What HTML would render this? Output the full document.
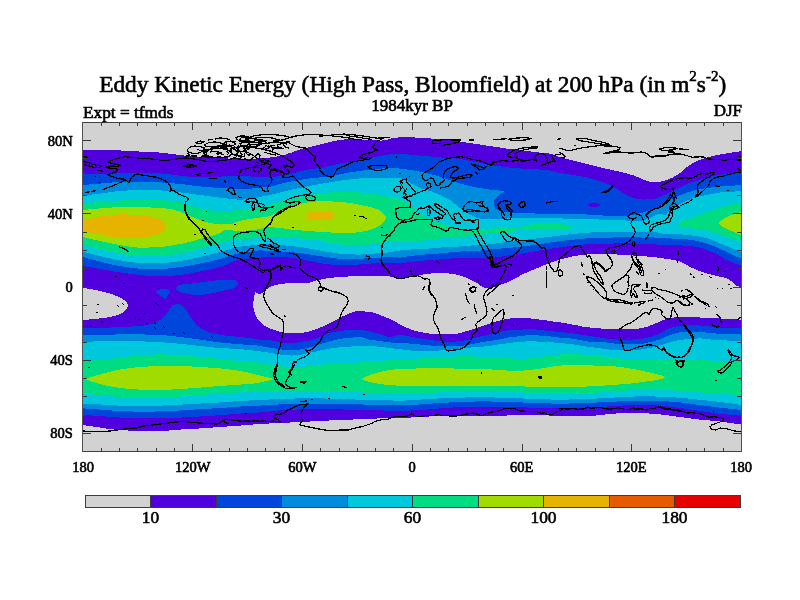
<!DOCTYPE html>
<html lang="en"><head><meta charset="utf-8"><title>Eddy Kinetic Energy (High Pass, Bloomfield) at 200 hPa</title>
<style>
html,body{margin:0;padding:0;background:#fff}
body{width:800px;height:600px;overflow:hidden}
svg{display:block;font-family:"Liberation Serif","DejaVu Serif",serif;fill:#000}
text{stroke:#000;stroke-width:.6px}
.f path{shape-rendering:crispEdges}
.ax{font-size:14.5px}
.cbl{font-size:17.4px}
</style></head><body>
<svg width="800" height="600" viewBox="0 0 800 600">
<rect width="800" height="600" fill="#fff"/>
<defs><clipPath id="c"><rect x="83" y="122" width="658" height="329"/></clipPath></defs>
<rect x="83" y="122" width="658" height="329" fill="#d2d2d2"/>
<g class="f" clip-path="url(#c)">
<path fill="#5000dc" d="M83.0 150.4L85.0 150.2L87.0 150.1L89.0 150.0L91.0 149.9L93.0 149.8L95.0 149.7L97.0 149.7L99.0 149.6L101.0 149.6L103.0 149.6L105.0 149.6L107.0 149.6L109.0 149.7L111.0 149.8L113.0 150.0L115.0 150.1L117.0 150.2L119.0 150.3L121.0 150.5L123.0 150.6L125.0 150.7L127.0 150.8L129.0 150.9L131.0 151.1L133.0 151.2L135.0 151.3L137.0 151.4L139.0 151.5L141.0 151.7L143.0 151.8L145.0 151.8L147.0 151.9L149.0 152.0L151.0 152.1L153.0 152.2L155.0 152.3L157.0 152.4L159.0 152.5L161.0 152.7L163.0 152.9L165.0 153.1L167.0 153.3L169.0 153.6L171.0 153.8L173.0 154.1L175.0 154.4L177.0 154.6L179.0 154.9L181.0 155.1L183.0 155.3L185.0 155.6L187.0 155.8L189.0 156.0L191.0 156.2L193.0 156.4L195.0 156.6L197.0 156.8L199.0 156.9L201.0 157.1L203.0 157.2L205.0 157.3L207.0 157.4L209.0 157.5L211.0 157.6L213.0 157.7L215.0 157.8L217.0 157.9L219.0 158.0L221.0 158.1L223.0 158.2L225.0 158.3L227.0 158.4L229.0 158.6L231.0 158.7L233.0 158.8L235.0 158.9L237.0 159.0L239.0 159.0L241.0 159.0L243.0 159.0L245.0 159.0L247.0 158.9L249.0 158.9L251.0 158.8L253.0 158.7L255.0 158.6L257.0 158.5L259.0 158.4L261.0 158.3L263.0 158.2L265.0 158.1L267.0 157.9L269.0 157.6L271.0 157.4L273.0 157.1L275.0 156.8L277.0 156.5L279.0 156.2L281.0 155.8L283.0 155.3L285.0 154.7L287.0 154.0L289.0 153.3L291.0 152.7L293.0 152.0L295.0 151.3L297.0 150.6L299.0 149.9L301.0 149.3L303.0 148.8L305.0 148.3L307.0 147.8L309.0 147.3L311.0 146.7L313.0 146.2L315.0 145.7L317.0 145.2L319.0 144.7L321.0 144.2L323.0 143.7L325.0 143.2L327.0 142.7L329.0 142.2L331.0 141.8L333.0 141.3L335.0 140.9L337.0 140.5L339.0 140.1L341.0 139.9L343.0 139.6L345.0 139.3L347.0 139.1L349.0 139.0L351.0 139.0L353.0 139.1L355.0 139.1L357.0 139.2L359.0 139.3L361.0 139.5L363.0 139.6L365.0 139.7L367.0 139.8L369.0 139.9L371.0 140.1L373.0 140.2L375.0 140.4L377.0 140.5L379.0 140.6L381.0 140.6L383.0 140.4L385.0 140.1L387.0 139.8L389.0 139.2L391.0 138.6L393.0 138.2L395.0 137.9L397.0 137.6L399.0 137.4L401.0 137.4L403.0 137.4L405.0 137.4L407.0 137.4L409.0 137.4L411.0 137.4L413.0 137.4L415.0 137.5L417.0 137.5L419.0 137.6L421.0 137.6L423.0 137.8L425.0 137.9L427.0 138.1L429.0 138.3L431.0 138.5L433.0 138.7L435.0 138.9L437.0 139.1L439.0 139.3L441.0 139.5L443.0 139.7L445.0 139.9L447.0 140.1L449.0 140.3L451.0 140.5L453.0 140.7L455.0 141.0L457.0 141.2L459.0 141.5L461.0 141.7L463.0 142.0L465.0 142.3L467.0 142.6L469.0 142.9L471.0 143.2L473.0 143.5L475.0 143.8L477.0 144.1L479.0 144.4L481.0 144.7L483.0 145.0L485.0 145.3L487.0 145.6L489.0 145.9L491.0 146.2L493.0 146.5L495.0 146.8L497.0 147.1L499.0 147.4L501.0 147.7L503.0 148.0L505.0 148.3L507.0 148.6L509.0 148.9L511.0 149.1L513.0 149.3L515.0 149.5L517.0 149.7L519.0 149.9L521.0 150.1L523.0 150.4L525.0 150.7L527.0 151.0L529.0 151.3L531.0 151.5L533.0 151.8L535.0 152.0L537.0 152.3L539.0 152.5L541.0 152.7L543.0 152.9L545.0 153.0L547.0 153.2L549.0 153.5L551.0 153.8L553.0 154.4L555.0 155.3L557.0 156.2L559.0 157.0L561.0 157.6L563.0 158.1L565.0 158.6L567.0 159.1L569.0 159.6L571.0 160.0L573.0 160.5L575.0 161.0L577.0 161.5L579.0 162.0L581.0 162.5L583.0 163.0L585.0 163.5L587.0 164.0L589.0 164.5L591.0 165.1L593.0 165.6L595.0 166.1L597.0 166.6L599.0 167.1L601.0 167.5L603.0 168.0L605.0 168.5L607.0 169.0L609.0 169.4L611.0 169.8L613.0 170.2L615.0 170.7L617.0 171.1L619.0 171.6L621.0 172.0L623.0 172.5L625.0 173.1L627.0 173.6L629.0 174.1L631.0 174.7L633.0 175.3L635.0 176.0L637.0 176.8L639.0 177.7L641.0 178.6L643.0 179.4L645.0 180.2L647.0 181.0L649.0 181.6L651.0 181.8L653.0 181.9L655.0 182.0L657.0 182.0L659.0 181.9L661.0 181.6L663.0 181.0L665.0 180.5L667.0 179.9L669.0 179.1L671.0 178.2L673.0 177.3L675.0 176.2L677.0 175.0L679.0 173.7L681.0 172.2L683.0 170.3L685.0 168.5L687.0 167.0L689.0 165.5L691.0 164.2L693.0 163.0L695.0 162.0L697.0 161.1L699.0 160.2L701.0 159.4L703.0 158.7L705.0 158.0L707.0 157.4L709.0 156.9L711.0 156.4L713.0 155.9L715.0 155.5L717.0 155.1L719.0 154.7L721.0 154.3L723.0 153.9L725.0 153.6L727.0 153.3L729.0 153.0L731.0 152.6L733.0 152.3L735.0 152.0L737.0 151.8L739.0 151.5L741.0 151.3L741.0 424.3L739.0 424.1L737.0 423.9L735.0 423.7L733.0 423.4L731.0 423.1L729.0 422.9L727.0 422.5L725.0 422.2L723.0 421.8L721.0 421.5L719.0 421.3L717.0 421.1L715.0 420.9L713.0 420.8L711.0 420.6L709.0 420.4L707.0 420.2L705.0 420.1L703.0 419.9L701.0 419.7L699.0 419.5L697.0 419.3L695.0 419.0L693.0 418.8L691.0 418.5L689.0 418.3L687.0 418.0L685.0 417.7L683.0 417.4L681.0 417.1L679.0 416.9L677.0 416.6L675.0 416.3L673.0 416.0L671.0 415.7L669.0 415.5L667.0 415.2L665.0 415.0L663.0 414.7L661.0 414.5L659.0 414.3L657.0 414.1L655.0 414.0L653.0 413.8L651.0 413.7L649.0 413.5L647.0 413.4L645.0 413.3L643.0 413.1L641.0 413.0L639.0 413.0L637.0 412.9L635.0 412.9L633.0 412.8L631.0 412.8L629.0 412.8L627.0 412.9L625.0 412.9L623.0 413.0L621.0 413.1L619.0 413.3L617.0 413.4L615.0 413.6L613.0 413.7L611.0 413.9L609.0 414.1L607.0 414.3L605.0 414.5L603.0 414.7L601.0 414.9L599.0 415.1L597.0 415.3L595.0 415.6L593.0 415.8L591.0 415.9L589.0 416.1L587.0 416.2L585.0 416.3L583.0 416.3L581.0 416.4L579.0 416.4L577.0 416.4L575.0 416.4L573.0 416.4L571.0 416.4L569.0 416.4L567.0 416.3L565.0 416.2L563.0 416.1L561.0 416.0L559.0 416.0L557.0 415.9L555.0 415.8L553.0 415.7L551.0 415.6L549.0 415.5L547.0 415.4L545.0 415.3L543.0 415.2L541.0 415.2L539.0 415.2L537.0 415.2L535.0 415.2L533.0 415.2L531.0 415.2L529.0 415.2L527.0 415.2L525.0 415.2L523.0 415.2L521.0 415.2L519.0 415.2L517.0 415.2L515.0 415.3L513.0 415.3L511.0 415.4L509.0 415.4L507.0 415.5L505.0 415.5L503.0 415.6L501.0 415.6L499.0 415.6L497.0 415.6L495.0 415.6L493.0 415.6L491.0 415.6L489.0 415.6L487.0 415.6L485.0 415.6L483.0 415.6L481.0 415.6L479.0 415.6L477.0 415.6L475.0 415.6L473.0 415.6L471.0 415.6L469.0 415.6L467.0 415.6L465.0 415.6L463.0 415.6L461.0 415.6L459.0 415.6L457.0 415.6L455.0 415.6L453.0 415.7L451.0 415.7L449.0 415.8L447.0 415.8L445.0 415.9L443.0 415.9L441.0 416.0L439.0 416.0L437.0 416.1L435.0 416.2L433.0 416.3L431.0 416.4L429.0 416.5L427.0 416.6L425.0 416.7L423.0 416.8L421.0 416.9L419.0 417.1L417.0 417.2L415.0 417.3L413.0 417.4L411.0 417.5L409.0 417.6L407.0 417.7L405.0 417.8L403.0 417.9L401.0 418.0L399.0 418.0L397.0 418.1L395.0 418.1L393.0 418.2L391.0 418.2L389.0 418.2L387.0 418.3L385.0 418.3L383.0 418.3L381.0 418.4L379.0 418.4L377.0 418.5L375.0 418.6L373.0 418.6L371.0 418.7L369.0 418.8L367.0 418.9L365.0 419.0L363.0 419.1L361.0 419.2L359.0 419.2L357.0 419.3L355.0 419.4L353.0 419.5L351.0 419.6L349.0 419.6L347.0 419.7L345.0 419.8L343.0 419.9L341.0 420.0L339.0 420.0L337.0 420.1L335.0 420.2L333.0 420.3L331.0 420.4L329.0 420.5L327.0 420.6L325.0 420.7L323.0 420.8L321.0 420.9L319.0 421.1L317.0 421.1L315.0 421.2L313.0 421.4L311.0 421.4L309.0 421.6L307.0 421.6L305.0 421.8L303.0 421.9L301.0 421.9L299.0 422.1L297.0 422.1L295.0 422.2L293.0 422.4L291.0 422.4L289.0 422.6L287.0 422.6L285.0 422.8L283.0 422.9L281.0 422.9L279.0 423.0L277.0 423.1L275.0 423.2L273.0 423.3L271.0 423.4L269.0 423.5L267.0 423.6L265.0 423.7L263.0 423.8L261.0 423.9L259.0 424.1L257.0 424.2L255.0 424.4L253.0 424.5L251.0 424.7L249.0 424.9L247.0 425.0L245.0 425.2L243.0 425.4L241.0 425.5L239.0 425.7L237.0 425.8L235.0 426.0L233.0 426.1L231.0 426.2L229.0 426.4L227.0 426.5L225.0 426.7L223.0 426.8L221.0 426.9L219.0 427.1L217.0 427.2L215.0 427.4L213.0 427.5L211.0 427.6L209.0 427.8L207.0 427.9L205.0 428.1L203.0 428.2L201.0 428.3L199.0 428.5L197.0 428.6L195.0 428.7L193.0 428.8L191.0 428.9L189.0 429.1L187.0 429.2L185.0 429.3L183.0 429.4L181.0 429.5L179.0 429.7L177.0 429.8L175.0 430.0L173.0 430.2L171.0 430.4L169.0 430.5L167.0 430.7L165.0 430.8L163.0 430.9L161.0 431.0L159.0 431.0L157.0 431.0L155.0 431.0L153.0 431.0L151.0 431.0L149.0 431.0L147.0 431.0L145.0 431.0L143.0 431.0L141.0 431.0L139.0 431.0L137.0 430.9L135.0 430.9L133.0 430.8L131.0 430.7L129.0 430.6L127.0 430.4L125.0 430.3L123.0 430.2L121.0 430.1L119.0 429.9L117.0 429.7L115.0 429.6L113.0 429.3L111.0 429.1L109.0 428.9L107.0 428.6L105.0 428.3L103.0 428.0L101.0 427.7L99.0 427.4L97.0 427.1L95.0 426.8L93.0 426.5L91.0 426.2L89.0 425.9L87.0 425.6L85.0 425.3L83.0 425.0Z"/>
<path fill="#d2d2d2" d="M83.0 288.0L83.0 288.0L85.0 288.3L87.0 288.5L89.1 288.9L91.1 289.2L93.1 289.6L95.0 290.0L97.0 290.4L99.0 290.8L101.0 291.2L103.0 291.7L105.0 292.2L106.9 292.7L108.9 293.3L110.8 293.9L112.7 294.5L114.6 295.2L116.6 296.0L118.5 296.8L120.4 297.7L122.2 298.7L123.8 299.8L125.3 301.1L126.8 302.8L127.8 304.6L127.9 306.4L127.1 308.4L125.9 310.1L124.5 311.4L122.8 312.6L120.9 313.6L119.1 314.4L117.2 315.1L115.2 315.7L113.2 316.3L111.2 316.7L109.3 317.1L107.3 317.5L105.2 317.8L103.2 318.0L101.2 318.3L99.2 318.5L97.2 318.7L95.1 318.9L93.1 319.1L91.1 319.3L89.1 319.5L87.1 319.7L85.0 319.9L83.0 320.0L83.0 320.0Z"/>
<path fill="#d2d2d2" d="M253.0 304.0L253.3 302.0L253.6 300.0L254.0 298.1L254.4 295.7L254.8 293.3L255.4 292.0L256.8 292.8L258.8 293.8L260.6 293.6L262.3 292.8L264.0 291.6L265.6 290.2L267.3 288.8L269.1 287.6L270.9 286.7L272.7 286.0L274.6 285.4L276.6 284.9L278.6 284.4L280.5 284.0L282.5 283.7L284.5 283.6L286.5 283.4L288.5 283.3L290.5 283.1L292.5 283.1L294.5 283.0L296.5 283.0L298.6 283.0L300.6 283.0L302.6 283.0L304.6 283.0L306.6 282.9L308.5 282.8L310.5 282.4L312.4 281.9L314.3 281.2L316.3 280.5L318.2 280.0L320.2 279.6L322.2 279.2L324.1 278.9L326.1 278.5L328.1 278.2L330.1 278.0L332.1 277.8L334.1 277.5L336.1 277.3L338.1 277.2L340.1 277.0L342.1 276.9L344.1 276.7L346.1 276.6L348.1 276.5L350.1 276.4L352.1 276.3L354.1 276.2L356.1 276.1L358.1 276.0L360.1 275.9L362.1 275.8L364.1 275.7L366.1 275.7L368.1 275.7L370.1 275.6L372.1 275.6L374.1 275.6L376.1 275.6L378.1 275.6L380.1 275.6L382.1 275.7L384.1 275.8L386.1 276.0L388.1 276.2L390.1 276.5L392.1 276.7L394.1 277.0L396.1 277.3L398.1 277.7L400.1 277.9L402.1 278.1L404.0 278.1L406.0 277.9L408.0 277.5L410.0 277.1L411.9 276.6L413.9 276.2L415.9 275.8L417.9 275.5L419.8 275.1L421.8 274.7L423.8 274.4L425.8 274.1L427.8 273.8L429.7 273.6L431.7 273.4L433.7 273.2L435.8 273.1L437.8 273.0L439.8 273.0L441.8 273.1L443.8 273.1L445.8 273.3L447.8 273.4L449.8 273.6L451.8 273.8L453.7 274.1L455.7 274.5L457.7 274.9L459.6 275.4L461.6 276.0L463.5 276.6L465.3 277.2L467.2 278.0L469.0 278.8L470.8 279.7L472.7 280.6L474.4 281.5L476.2 282.5L478.0 283.7L479.7 285.0L481.4 286.2L483.1 287.3L484.9 288.1L486.7 288.5L488.6 288.4L490.5 288.0L492.5 287.5L494.4 286.9L496.4 286.2L498.4 285.6L500.3 284.9L502.1 284.3L504.0 283.5L505.9 282.8L507.7 282.0L509.6 281.2L511.4 280.3L513.2 279.5L514.9 278.5L516.7 277.6L518.5 276.6L520.2 275.6L522.0 274.7L523.8 273.8L525.6 273.0L527.5 272.2L529.3 271.4L531.1 270.6L533.0 269.8L534.8 269.0L536.7 268.3L538.6 267.5L540.4 266.7L542.3 266.0L544.1 265.2L546.0 264.5L547.9 263.8L549.8 263.1L551.6 262.4L553.5 261.7L555.4 261.1L557.3 260.4L559.2 259.8L561.2 259.3L563.1 258.7L565.0 258.2L567.0 257.7L568.9 257.2L570.9 256.8L572.9 256.4L574.8 256.1L576.8 255.7L578.8 255.4L580.8 255.1L582.8 254.9L584.8 254.7L586.8 254.5L588.8 254.3L590.8 254.2L592.8 254.1L594.8 254.1L596.8 254.1L598.8 254.1L600.8 254.1L602.8 254.1L604.8 254.1L606.8 254.1L608.8 254.1L610.8 254.2L612.8 254.3L614.8 254.4L616.8 254.5L618.8 254.6L620.8 254.7L622.8 254.9L624.8 255.0L626.8 255.1L628.8 255.2L630.8 255.4L632.8 255.5L634.8 255.6L636.8 255.8L638.8 255.9L640.8 256.1L642.8 256.2L644.8 256.4L646.8 256.5L648.8 256.7L650.8 256.9L652.8 257.0L654.8 257.2L656.8 257.5L658.8 257.7L660.8 258.0L662.8 258.3L664.8 258.6L666.7 258.9L668.7 259.2L670.7 259.5L672.7 259.8L674.7 260.2L676.7 260.6L678.6 261.1L680.4 261.7L682.2 262.5L684.0 263.5L685.8 264.5L687.5 265.5L689.3 266.5L691.1 267.4L692.9 268.2L694.8 269.0L696.6 269.8L698.5 270.5L700.4 271.2L702.3 271.9L704.2 272.5L706.1 273.1L708.0 273.7L709.9 274.3L711.9 274.8L713.8 275.3L715.8 275.8L717.7 276.2L719.7 276.6L721.7 277.0L723.7 277.4L725.6 277.9L727.5 278.5L729.2 279.5L730.8 280.8L732.4 282.2L733.9 283.7L735.5 285.0L737.2 286.0L739.0 286.5L741.0 286.7L741.0 319.6L739.0 319.5L737.0 319.4L735.0 319.3L733.0 319.2L731.0 319.1L729.0 318.9L727.0 318.8L725.0 318.7L723.0 318.6L721.0 318.5L719.0 318.4L717.0 318.3L715.0 318.2L713.0 318.1L711.0 318.0L709.0 318.0L707.0 317.9L705.0 317.8L703.0 317.7L701.0 317.6L699.0 317.4L697.0 317.3L695.0 317.2L693.0 317.1L691.0 317.1L689.0 317.0L687.0 317.0L685.0 317.0L683.0 317.0L681.0 317.0L679.0 317.1L677.0 317.2L675.0 317.4L673.0 317.6L671.0 317.9L669.1 318.2L667.1 318.6L665.3 319.3L663.4 320.0L661.6 320.9L659.7 321.7L657.8 322.5L656.0 323.2L654.1 324.0L652.2 324.7L650.4 325.5L648.5 326.2L646.6 326.8L644.7 327.3L642.7 327.8L640.8 328.2L638.8 328.6L636.8 328.9L634.8 329.2L632.8 329.3L630.8 329.3L628.8 329.3L626.8 329.4L624.8 329.4L622.8 329.4L620.8 329.4L618.8 329.4L616.8 329.3L614.8 329.2L612.8 329.1L610.8 329.0L608.8 328.9L606.8 328.8L604.8 328.7L602.8 328.6L600.8 328.5L598.8 328.3L596.8 328.2L594.8 328.0L592.8 327.8L590.8 327.6L588.9 327.4L586.9 327.1L584.9 326.9L582.9 326.6L580.9 326.2L579.0 325.8L577.0 325.4L575.1 325.0L573.1 324.6L571.1 324.3L569.1 323.9L567.2 323.6L565.2 323.2L563.2 322.9L561.2 322.6L559.3 322.3L557.3 322.0L555.3 321.7L553.3 321.5L551.3 321.2L549.4 320.9L547.4 320.6L545.4 320.3L543.4 320.0L541.4 319.8L539.4 319.5L537.5 319.3L535.5 319.0L533.5 318.8L531.5 318.5L529.5 318.3L527.5 318.2L525.5 318.1L523.5 318.1L521.5 318.2L519.5 318.2L517.5 318.2L515.5 318.2L513.5 318.2L511.5 318.3L509.5 318.5L507.5 318.8L505.5 319.2L503.6 319.6L501.6 320.0L499.7 320.5L497.8 321.0L495.8 321.6L493.9 322.3L492.0 322.9L490.1 323.6L488.2 324.2L486.3 324.8L484.4 325.5L482.5 326.1L480.6 326.7L478.7 327.4L476.8 328.0L474.9 328.6L473.0 329.2L471.1 329.8L469.2 330.4L467.3 331.0L465.4 331.5L463.4 332.0L461.5 332.6L459.5 333.1L457.6 333.6L455.6 334.0L453.6 334.1L451.7 334.2L449.7 334.3L447.7 334.3L445.6 334.4L443.6 334.4L441.6 334.4L439.6 334.4L437.6 334.3L435.6 334.1L433.6 334.0L431.6 333.8L429.6 333.6L427.7 333.3L425.7 333.0L423.7 332.7L421.7 332.3L419.8 331.9L417.8 331.5L415.9 331.0L414.0 330.4L412.1 329.8L410.2 329.1L408.3 328.3L406.5 327.6L404.6 326.8L402.8 325.9L401.1 325.0L399.3 324.0L397.6 323.0L395.8 322.0L394.0 321.1L392.2 320.2L390.4 319.4L388.6 318.5L386.8 317.7L384.9 316.9L383.1 316.1L381.2 315.4L379.3 314.7L377.4 314.0L375.5 313.3L373.6 312.7L371.7 312.3L369.7 312.0L367.7 311.8L365.7 311.6L363.7 311.4L361.7 311.3L359.7 311.2L357.7 311.2L355.8 311.4L353.8 311.8L351.9 312.4L350.0 313.2L348.1 314.0L346.3 314.8L344.4 315.6L342.6 316.4L340.8 317.3L339.1 318.3L337.3 319.2L335.5 320.2L333.8 321.1L332.0 322.0L330.2 322.9L328.4 323.9L326.6 324.8L324.8 325.6L323.0 326.5L321.2 327.2L319.3 328.0L317.4 328.7L315.5 329.4L313.6 330.1L311.7 330.7L309.8 331.2L307.9 331.7L305.9 332.1L303.9 332.6L302.0 333.0L300.0 333.2L298.0 333.3L296.0 333.3L294.0 333.3L292.0 333.2L290.0 333.0L288.0 332.9L286.0 332.7L284.0 332.5L282.0 332.2L280.1 331.7L278.1 331.2L276.2 330.7L274.3 330.1L272.4 329.4L270.5 328.7L268.6 327.9L266.8 326.9L265.0 325.9L263.4 324.8L261.9 323.6L260.4 322.3L259.1 320.8L257.8 319.1L256.7 317.4L255.8 315.7L255.1 313.8L254.5 311.9L254.0 309.9L253.6 308.0L253.2 306.0L253.0 304.0Z"/>
<path fill="#0046dc" d="M83.0 173.4L85.0 173.5L87.0 173.6L89.0 173.7L91.0 173.8L93.0 173.9L95.0 173.9L97.0 174.0L99.0 174.0L101.0 174.0L103.0 174.0L105.0 173.9L107.0 173.9L109.0 173.8L111.0 173.7L113.0 173.7L115.0 173.6L117.0 173.5L119.0 173.4L121.0 173.4L123.0 173.3L125.0 173.2L127.0 173.1L129.0 173.0L131.0 172.9L133.0 172.8L135.0 172.7L137.0 172.6L139.0 172.6L141.0 172.6L143.0 172.6L145.0 172.7L147.0 172.7L149.0 172.8L151.0 172.9L153.0 173.0L155.0 173.1L157.0 173.2L159.0 173.3L161.0 173.5L163.0 173.6L165.0 173.8L167.0 174.0L169.0 174.3L171.0 174.5L173.0 174.8L175.0 175.0L177.0 175.3L179.0 175.5L181.0 175.7L183.0 175.9L185.0 176.2L187.0 176.4L189.0 176.6L191.0 176.9L193.0 177.1L195.0 177.2L197.0 177.3L199.0 177.4L201.0 177.4L203.0 177.4L205.0 177.3L207.0 177.2L209.0 177.2L211.0 177.1L213.0 177.0L215.0 176.8L217.0 176.7L219.0 176.6L221.0 176.6L223.0 176.4L225.0 176.3L227.0 176.2L229.0 176.1L231.0 175.9L233.0 175.8L235.0 175.7L237.0 175.6L239.0 175.6L241.0 175.6L243.0 175.7L245.0 175.9L247.0 176.1L249.0 176.3L251.0 176.5L253.0 176.6L255.0 176.8L257.0 176.9L259.0 177.0L261.0 177.0L263.0 177.0L265.0 177.0L267.0 177.0L269.0 177.0L271.0 177.0L273.0 176.9L275.0 176.7L277.0 176.4L279.0 176.1L281.0 175.9L283.0 175.5L285.0 175.1L287.0 174.7L289.0 174.2L291.0 173.8L293.0 173.2L295.0 172.7L297.0 172.2L299.0 171.6L301.0 171.2L303.0 170.7L305.0 170.3L307.0 169.9L309.0 169.6L311.0 169.2L313.0 169.0L315.0 168.7L317.0 168.4L319.0 168.2L321.0 167.8L323.0 167.5L325.0 167.1L327.0 166.6L329.0 166.2L331.0 165.8L333.0 165.3L335.0 164.8L337.0 164.3L339.0 163.8L341.0 163.4L343.0 163.1L345.0 162.8L347.0 162.5L349.0 162.2L351.0 161.8L353.0 161.4L355.0 161.0L357.0 160.6L359.0 160.2L361.0 159.8L363.0 159.4L365.0 159.0L367.0 158.6L369.0 158.2L371.0 157.8L373.0 157.4L375.0 157.0L377.0 156.6L379.0 156.2L381.0 155.8L383.0 155.4L385.0 155.1L387.0 154.8L389.0 154.5L391.0 154.3L393.0 154.1L395.0 154.0L397.0 153.9L399.0 153.8L401.0 153.8L403.0 153.9L405.0 154.1L407.0 154.3L409.0 154.5L411.0 154.7L413.0 154.9L415.0 155.1L417.0 155.3L419.0 155.5L421.0 155.7L423.0 155.8L425.0 156.0L427.0 156.2L429.0 156.3L431.0 156.5L433.0 156.7L435.0 156.9L437.0 157.1L439.0 157.3L441.0 157.5L443.0 157.6L445.0 157.7L447.0 157.8L449.0 157.9L451.0 158.1L453.0 158.2L455.0 158.4L457.0 158.6L459.0 158.9L461.0 159.1L463.0 159.5L465.0 159.9L467.0 160.4L469.0 160.8L471.0 161.2L473.0 161.6L475.0 162.0L477.0 162.4L479.0 162.8L481.0 163.2L483.0 163.6L485.0 164.0L487.0 164.5L489.0 164.8L491.0 165.2L493.0 165.5L495.0 165.7L497.0 166.0L499.0 166.3L501.0 166.5L503.0 166.8L505.0 167.0L507.0 167.3L509.0 167.5L511.0 167.7L513.0 167.9L515.0 168.0L517.0 168.2L519.0 168.3L521.0 168.5L523.0 168.6L525.0 168.7L527.0 168.8L529.0 168.9L531.0 169.1L533.0 169.2L535.0 169.3L537.0 169.4L539.0 169.5L541.0 169.7L543.0 169.8L545.0 169.9L547.0 170.1L549.0 170.3L551.0 170.6L553.0 171.0L555.0 171.6L557.0 172.2L559.0 172.8L561.0 173.2L563.0 173.5L565.0 173.8L567.0 174.1L569.0 174.4L571.0 174.7L573.0 175.0L575.0 175.3L577.0 175.7L579.0 176.0L581.0 176.4L583.0 176.8L585.0 177.2L587.0 177.6L589.0 178.1L591.0 178.6L593.0 179.1L595.0 179.7L597.0 180.3L599.0 180.9L601.0 181.5L603.0 182.1L605.0 182.8L607.0 183.6L609.0 184.6L611.0 185.7L613.0 186.8L615.0 187.9L617.0 189.2L619.0 190.4L621.0 191.6L623.0 192.9L625.0 194.1L627.0 195.3L629.0 196.2L631.0 197.2L633.0 197.9L635.0 198.5L637.0 198.9L639.0 199.2L641.0 199.4L643.0 199.5L645.0 199.5L647.0 199.4L649.0 199.3L651.0 199.2L653.0 198.9L655.0 198.5L657.0 197.9L659.0 197.3L661.0 196.6L663.0 195.7L665.0 194.8L667.0 193.8L669.0 192.8L671.0 191.8L673.0 190.7L675.0 189.7L677.0 188.8L679.0 187.8L681.0 186.8L683.0 185.9L685.0 185.0L687.0 184.1L689.0 183.3L691.0 182.5L693.0 181.8L695.0 181.2L697.0 180.7L699.0 180.1L701.0 179.5L703.0 178.9L705.0 178.2L707.0 177.6L709.0 177.1L711.0 176.6L713.0 176.1L715.0 175.7L717.0 175.3L719.0 175.0L721.0 174.7L723.0 174.4L725.0 174.1L727.0 173.8L729.0 173.4L731.0 173.2L733.0 172.9L735.0 172.6L737.0 172.4L739.0 172.1L741.0 171.9L741.0 265.5L739.0 264.9L737.0 264.3L735.0 263.6L733.0 262.7L731.0 261.9L729.0 261.0L727.0 260.0L725.0 258.9L723.0 257.8L721.0 256.7L719.0 255.6L717.0 254.5L715.0 253.5L713.0 252.5L711.0 251.6L709.0 250.8L707.0 250.0L705.0 249.2L703.0 248.5L701.0 247.9L699.0 247.4L697.0 247.0L695.0 246.6L693.0 246.3L691.0 246.1L689.0 245.9L687.0 245.8L685.0 245.7L683.0 245.6L681.0 245.4L679.0 245.3L677.0 245.2L675.0 245.1L673.0 245.0L671.0 245.0L669.0 244.9L667.0 244.9L665.0 244.9L663.0 244.8L661.0 244.8L659.0 244.7L657.0 244.5L655.0 244.3L653.0 244.2L651.0 244.1L649.0 244.0L647.0 243.9L645.0 243.8L643.0 243.7L641.0 243.6L639.0 243.6L637.0 243.5L635.0 243.5L633.0 243.4L631.0 243.4L629.0 243.4L627.0 243.4L625.0 243.4L623.0 243.4L621.0 243.4L619.0 243.4L617.0 243.4L615.0 243.4L613.0 243.5L611.0 243.5L609.0 243.5L607.0 243.6L605.0 243.6L603.0 243.7L601.0 243.8L599.0 243.8L597.0 243.9L595.0 244.0L593.0 244.1L591.0 244.2L589.0 244.2L587.0 244.3L585.0 244.5L583.0 244.6L581.0 244.7L579.0 244.9L577.0 245.1L575.0 245.3L573.0 245.6L571.0 245.9L569.0 246.1L567.0 246.4L565.0 246.7L563.0 247.0L561.0 247.3L559.0 247.5L557.0 247.8L555.0 248.1L553.0 248.4L551.0 248.7L549.0 249.0L547.0 249.3L545.0 249.6L543.0 249.9L541.0 250.2L539.0 250.6L537.0 250.9L535.0 251.3L533.0 251.7L531.0 252.0L529.0 252.4L527.0 252.7L525.0 253.0L523.0 253.3L521.0 253.6L519.0 254.0L517.0 254.3L515.0 254.6L513.0 254.9L511.0 255.2L509.0 255.4L507.0 255.7L505.0 256.0L503.0 256.3L501.0 256.6L499.0 256.8L497.0 257.0L495.0 257.2L493.0 257.4L491.0 257.5L489.0 257.7L487.0 257.8L485.0 257.9L483.0 257.9L481.0 258.0L479.0 258.0L477.0 257.9L475.0 257.8L473.0 257.7L471.0 257.6L469.0 257.6L467.0 257.7L465.0 257.7L463.0 257.8L461.0 257.9L459.0 258.0L457.0 258.2L455.0 258.3L453.0 258.4L451.0 258.5L449.0 258.7L447.0 258.8L445.0 259.0L443.0 259.2L441.0 259.3L439.0 259.5L437.0 259.6L435.0 259.7L433.0 259.8L431.0 259.9L429.0 260.1L427.0 260.3L425.0 260.5L423.0 260.7L421.0 260.9L419.0 261.1L417.0 261.3L415.0 261.5L413.0 261.7L411.0 261.9L409.0 262.1L407.0 262.4L405.0 262.6L403.0 262.8L401.0 263.0L399.0 263.0L397.0 263.0L395.0 263.0L393.0 263.0L391.0 263.0L389.0 263.0L387.0 263.0L385.0 263.0L383.0 263.0L381.0 263.0L379.0 263.0L377.0 263.1L375.0 263.2L373.0 263.4L371.0 263.5L369.0 263.7L367.0 263.8L365.0 264.0L363.0 264.2L361.0 264.3L359.0 264.5L357.0 264.6L355.0 264.8L353.0 264.9L351.0 265.0L349.0 265.0L347.0 265.0L345.0 265.0L343.0 265.0L341.0 265.0L339.0 265.0L337.0 264.9L335.0 264.8L333.0 264.7L331.0 264.5L329.0 264.3L327.0 264.1L325.0 263.8L323.0 263.5L321.0 263.2L319.0 262.8L317.0 262.5L315.0 262.0L313.0 261.6L311.0 261.2L309.0 260.8L307.0 260.4L305.0 260.0L303.0 259.5L301.0 259.2L299.0 258.8L297.0 258.5L295.0 258.2L293.0 257.9L291.0 257.7L289.0 257.5L287.0 257.3L285.0 257.2L283.0 257.1L281.0 257.0L279.0 257.0L277.0 257.0L275.0 257.0L273.0 257.0L271.0 257.0L269.0 257.0L267.0 257.1L265.0 257.2L263.0 257.4L261.0 257.5L259.0 257.7L257.0 257.8L255.0 258.0L253.0 258.1L251.0 258.3L249.0 258.5L247.0 258.7L245.0 258.9L243.0 259.1L241.0 259.3L239.0 259.7L237.0 260.2L235.0 260.9L233.0 261.6L231.0 262.5L229.0 263.4L227.0 264.3L225.0 265.2L223.0 266.0L221.0 266.7L219.0 267.3L217.0 267.8L215.0 268.3L213.0 268.8L211.0 269.3L209.0 269.7L207.0 270.2L205.0 270.6L203.0 271.0L201.0 271.4L199.0 271.8L197.0 272.2L195.0 272.6L193.0 273.0L191.0 273.4L189.0 273.7L187.0 274.1L185.0 274.4L183.0 274.7L181.0 274.9L179.0 275.1L177.0 275.3L175.0 275.5L173.0 275.7L171.0 275.9L169.0 276.0L167.0 276.2L165.0 276.3L163.0 276.4L161.0 276.4L159.0 276.4L157.0 276.3L155.0 276.3L153.0 276.2L151.0 276.0L149.0 275.8L147.0 275.7L145.0 275.5L143.0 275.3L141.0 275.1L139.0 274.9L137.0 274.7L135.0 274.5L133.0 274.2L131.0 274.0L129.0 273.7L127.0 273.4L125.0 273.1L123.0 272.8L121.0 272.5L119.0 272.3L117.0 271.9L115.0 271.6L113.0 271.3L111.0 270.9L109.0 270.6L107.0 270.2L105.0 269.9L103.0 269.5L101.0 269.2L99.0 268.8L97.0 268.5L95.0 268.1L93.0 267.8L91.0 267.4L89.0 267.1L87.0 266.7L85.0 266.4L83.0 266.0Z"/>
<path fill="#0046dc" d="M83.0 328.4L85.0 328.4L87.0 328.3L89.0 328.3L91.0 328.3L93.0 328.2L95.0 328.2L97.0 328.1L99.0 328.0L101.0 328.0L103.0 327.9L105.0 327.8L107.0 327.7L109.0 327.6L111.0 327.5L113.0 327.4L115.0 327.3L117.0 327.2L119.0 327.1L121.0 327.0L123.0 326.9L125.0 326.8L127.0 326.7L129.0 326.6L131.0 326.5L133.0 326.4L135.0 326.3L137.0 326.2L139.0 326.1L141.0 325.9L143.0 325.7L145.0 325.4L147.0 325.0L149.0 324.6L151.0 324.1L153.0 323.5L155.0 322.7L157.0 321.7L159.0 320.6L161.0 319.3L163.0 317.6L165.0 315.6L167.0 313.2L169.0 310.4L171.0 306.6L173.0 305.1L175.0 304.4L177.0 304.1L179.0 304.1L181.0 305.1L183.0 306.6L185.0 308.5L187.0 310.7L189.0 314.0L191.0 317.5L193.0 320.3L195.0 322.9L197.0 325.1L199.0 326.8L201.0 328.3L203.0 329.5L205.0 330.6L207.0 331.4L209.0 332.1L211.0 332.8L213.0 333.3L215.0 333.8L217.0 334.2L219.0 334.6L221.0 334.9L223.0 335.2L225.0 335.5L227.0 335.7L229.0 335.9L231.0 336.2L233.0 336.3L235.0 336.5L237.0 336.7L239.0 336.9L241.0 337.1L243.0 337.3L245.0 337.5L247.0 337.7L249.0 337.9L251.0 338.1L253.0 338.5L255.0 338.8L257.0 339.2L259.0 339.5L261.0 339.7L263.0 339.9L265.0 340.0L267.0 340.1L269.0 340.2L271.0 340.4L273.0 340.6L275.0 341.1L277.0 341.6L279.0 342.0L281.0 342.3L283.0 342.6L285.0 342.8L287.0 343.0L289.0 343.2L291.0 343.3L293.0 343.3L295.0 343.0L297.0 342.6L299.0 342.2L301.0 341.8L303.0 341.5L305.0 341.2L307.0 340.9L309.0 340.5L311.0 340.0L313.0 339.5L315.0 338.9L317.0 338.3L319.0 337.6L321.0 336.8L323.0 335.9L325.0 334.9L327.0 334.0L329.0 333.3L331.0 332.7L333.0 332.3L335.0 331.8L337.0 331.5L339.0 331.1L341.0 330.9L343.0 330.6L345.0 330.3L347.0 330.1L349.0 330.0L351.0 330.0L353.0 330.0L355.0 330.0L357.0 330.0L359.0 330.0L361.0 330.0L363.0 330.2L365.0 330.6L367.0 331.0L369.0 331.4L371.0 331.8L373.0 332.2L375.0 332.7L377.0 333.2L379.0 333.7L381.0 334.3L383.0 335.0L385.0 335.8L387.0 336.5L389.0 336.9L391.0 336.9L393.0 336.5L395.0 335.8L397.0 335.0L399.0 334.6L401.0 334.5L403.0 334.9L405.0 335.4L407.0 335.9L409.0 336.3L411.0 336.7L413.0 337.1L415.0 337.5L417.0 337.8L419.0 338.2L421.0 338.5L423.0 338.8L425.0 339.1L427.0 339.4L429.0 339.7L431.0 339.9L433.0 340.2L435.0 340.5L437.0 340.7L439.0 341.0L441.0 341.3L443.0 341.6L445.0 341.7L447.0 341.7L449.0 341.7L451.0 341.7L453.0 341.7L455.0 341.6L457.0 341.5L459.0 341.4L461.0 341.2L463.0 340.8L465.0 340.4L467.0 339.9L469.0 339.4L471.0 338.9L473.0 338.3L475.0 337.8L477.0 337.3L479.0 336.8L481.0 336.4L483.0 335.9L485.0 335.4L487.0 334.9L489.0 334.4L491.0 333.9L493.0 333.4L495.0 332.9L497.0 332.4L499.0 332.0L501.0 331.5L503.0 331.1L505.0 330.8L507.0 330.5L509.0 330.3L511.0 330.1L513.0 330.0L515.0 329.9L517.0 329.8L519.0 329.7L521.0 329.6L523.0 329.5L525.0 329.3L527.0 329.1L529.0 329.0L531.0 329.0L533.0 329.2L535.0 329.4L537.0 329.6L539.0 329.9L541.0 330.1L543.0 330.3L545.0 330.5L547.0 330.7L549.0 330.9L551.0 331.1L553.0 331.3L555.0 331.5L557.0 331.7L559.0 331.9L561.0 332.1L563.0 332.3L565.0 332.5L567.0 332.7L569.0 332.9L571.0 333.1L573.0 333.4L575.0 333.7L577.0 334.0L579.0 334.3L581.0 334.6L583.0 334.9L585.0 335.2L587.0 335.5L589.0 335.8L591.0 336.2L593.0 336.5L595.0 336.8L597.0 337.1L599.0 337.4L601.0 337.8L603.0 338.1L605.0 338.4L607.0 338.7L609.0 338.9L611.0 339.1L613.0 339.3L615.0 339.4L617.0 339.5L619.0 339.6L621.0 339.6L623.0 339.6L625.0 339.6L627.0 339.6L629.0 339.6L631.0 339.6L633.0 339.5L635.0 339.4L637.0 339.3L639.0 339.1L641.0 338.9L643.0 338.6L645.0 338.2L647.0 337.8L649.0 337.3L651.0 336.7L653.0 336.0L655.0 335.2L657.0 334.3L659.0 333.4L661.0 332.5L663.0 331.5L665.0 330.5L667.0 329.4L669.0 328.6L671.0 327.9L673.0 327.3L675.0 326.7L677.0 326.3L679.0 325.9L681.0 325.7L683.0 325.5L685.0 325.3L687.0 325.2L689.0 325.1L691.0 325.1L693.0 325.2L695.0 325.3L697.0 325.4L699.0 325.5L701.0 325.7L703.0 325.8L705.0 326.0L707.0 326.1L709.0 326.3L711.0 326.5L713.0 326.8L715.0 327.0L717.0 327.3L719.0 327.5L721.0 327.7L723.0 327.8L725.0 327.8L727.0 327.9L729.0 328.0L731.0 328.0L733.0 328.1L735.0 328.2L737.0 328.2L739.0 328.3L741.0 328.4L741.0 415.6L739.0 415.4L737.0 415.3L735.0 415.2L733.0 415.0L731.0 414.9L729.0 414.7L727.0 414.5L725.0 414.3L723.0 414.1L721.0 413.9L719.0 413.7L717.0 413.5L715.0 413.2L713.0 412.9L711.0 412.6L709.0 412.4L707.0 412.1L705.0 411.7L703.0 411.4L701.0 411.1L699.0 410.9L697.0 410.6L695.0 410.2L693.0 409.9L691.0 409.6L689.0 409.3L687.0 409.0L685.0 408.7L683.0 408.4L681.0 408.1L679.0 407.9L677.0 407.6L675.0 407.3L673.0 407.0L671.0 406.7L669.0 406.5L667.0 406.2L665.0 406.0L663.0 405.8L661.0 405.7L659.0 405.6L657.0 405.5L655.0 405.4L653.0 405.3L651.0 405.2L649.0 405.1L647.0 405.1L645.0 405.0L643.0 405.0L641.0 405.0L639.0 405.0L637.0 405.0L635.0 405.1L633.0 405.1L631.0 405.2L629.0 405.2L627.0 405.3L625.0 405.4L623.0 405.5L621.0 405.6L619.0 405.6L617.0 405.8L615.0 405.9L613.0 406.0L611.0 406.2L609.0 406.3L607.0 406.5L605.0 406.7L603.0 406.8L601.0 406.9L599.0 407.1L597.0 407.2L595.0 407.3L593.0 407.4L591.0 407.5L589.0 407.6L587.0 407.7L585.0 407.8L583.0 407.9L581.0 408.0L579.0 408.0L577.0 408.1L575.0 408.1L573.0 408.2L571.0 408.2L569.0 408.3L567.0 408.3L565.0 408.4L563.0 408.4L561.0 408.4L559.0 408.4L557.0 408.4L555.0 408.4L553.0 408.3L551.0 408.3L549.0 408.2L547.0 408.2L545.0 408.1L543.0 408.1L541.0 408.0L539.0 408.0L537.0 407.9L535.0 407.8L533.0 407.8L531.0 407.7L529.0 407.6L527.0 407.5L525.0 407.4L523.0 407.3L521.0 407.2L519.0 407.2L517.0 407.1L515.0 407.0L513.0 406.9L511.0 406.9L509.0 406.8L507.0 406.7L505.0 406.7L503.0 406.6L501.0 406.6L499.0 406.6L497.0 406.6L495.0 406.6L493.0 406.6L491.0 406.6L489.0 406.6L487.0 406.6L485.0 406.6L483.0 406.6L481.0 406.6L479.0 406.6L477.0 406.6L475.0 406.7L473.0 406.7L471.0 406.8L469.0 406.8L467.0 406.9L465.0 407.0L463.0 407.1L461.0 407.2L459.0 407.2L457.0 407.3L455.0 407.4L453.0 407.5L451.0 407.7L449.0 407.8L447.0 407.9L445.0 408.1L443.0 408.2L441.0 408.3L439.0 408.5L437.0 408.6L435.0 408.8L433.0 409.0L431.0 409.1L429.0 409.3L427.0 409.5L425.0 409.7L423.0 409.8L421.0 409.9L419.0 410.1L417.0 410.2L415.0 410.3L413.0 410.4L411.0 410.5L409.0 410.6L407.0 410.7L405.0 410.7L403.0 410.8L401.0 410.8L399.0 410.8L397.0 410.8L395.0 410.8L393.0 410.7L391.0 410.7L389.0 410.6L387.0 410.6L385.0 410.5L383.0 410.5L381.0 410.4L379.0 410.4L377.0 410.3L375.0 410.3L373.0 410.3L371.0 410.2L369.0 410.2L367.0 410.2L365.0 410.1L363.0 410.1L361.0 410.0L359.0 410.0L357.0 409.9L355.0 409.9L353.0 409.8L351.0 409.7L349.0 409.7L347.0 409.6L345.0 409.5L343.0 409.5L341.0 409.4L339.0 409.4L337.0 409.3L335.0 409.3L333.0 409.2L331.0 409.2L329.0 409.1L327.0 409.1L325.0 409.0L323.0 409.0L321.0 409.0L319.0 409.0L317.0 409.0L315.0 409.0L313.0 409.1L311.0 409.1L309.0 409.2L307.0 409.2L305.0 409.3L303.0 409.3L301.0 409.4L299.0 409.4L297.0 409.5L295.0 409.6L293.0 409.7L291.0 409.8L289.0 409.9L287.0 410.0L285.0 410.1L283.0 410.2L281.0 410.3L279.0 410.5L277.0 410.6L275.0 410.8L273.0 411.0L271.0 411.3L269.0 411.5L267.0 411.7L265.0 411.9L263.0 412.1L261.0 412.3L259.0 412.5L257.0 412.6L255.0 412.7L253.0 412.9L251.0 413.0L249.0 413.1L247.0 413.2L245.0 413.3L243.0 413.4L241.0 413.5L239.0 413.7L237.0 413.8L235.0 414.0L233.0 414.1L231.0 414.3L229.0 414.5L227.0 414.7L225.0 414.8L223.0 415.0L221.0 415.1L219.0 415.3L217.0 415.4L215.0 415.5L213.0 415.6L211.0 415.8L209.0 415.9L207.0 416.0L205.0 416.1L203.0 416.2L201.0 416.3L199.0 416.5L197.0 416.6L195.0 416.7L193.0 416.8L191.0 417.0L189.0 417.1L187.0 417.2L185.0 417.3L183.0 417.4L181.0 417.6L179.0 417.6L177.0 417.8L175.0 417.9L173.0 418.0L171.0 418.1L169.0 418.2L167.0 418.3L165.0 418.3L163.0 418.4L161.0 418.4L159.0 418.4L157.0 418.4L155.0 418.4L153.0 418.4L151.0 418.4L149.0 418.4L147.0 418.4L145.0 418.4L143.0 418.4L141.0 418.4L139.0 418.4L137.0 418.4L135.0 418.3L133.0 418.3L131.0 418.2L129.0 418.1L127.0 418.0L125.0 417.9L123.0 417.8L121.0 417.7L119.0 417.5L117.0 417.4L115.0 417.3L113.0 417.1L111.0 416.9L109.0 416.7L107.0 416.6L105.0 416.4L103.0 416.2L101.0 416.1L99.0 415.9L97.0 415.8L95.0 415.7L93.0 415.6L91.0 415.4L89.0 415.3L87.0 415.2L85.0 415.1L83.0 415.0Z"/>
<path fill="#0046dc" d="M156.0 291.6L157.2 290.4L159.6 289.5L161.9 288.9L163.9 288.7L166.0 289.0L168.3 290.0L169.8 291.4L169.6 293.0L168.1 294.8L166.8 297.1L165.6 298.8L164.1 298.7L162.3 297.2L160.6 295.9L158.9 294.7L157.1 293.2Z"/>
<path fill="#0046dc" d="M175.6 288.0L176.4 286.6L178.4 285.5L180.8 284.8L183.0 284.3L185.0 284.0L186.9 283.8L188.7 283.7L190.6 283.6L192.6 283.4L194.5 283.1L196.6 282.9L198.6 282.6L200.6 282.3L202.6 282.0L204.6 281.7L206.6 281.5L208.6 281.2L210.6 280.9L212.6 280.7L214.6 280.5L216.6 280.3L218.6 280.1L220.6 280.0L222.5 279.9L224.4 279.8L226.4 279.8L228.5 279.7L230.7 279.6L232.9 279.5L234.9 279.8L236.7 280.7L237.8 282.3L237.9 284.3L237.0 286.0L235.3 287.4L233.3 288.3L231.3 288.9L229.4 289.4L227.4 289.7L225.5 290.1L223.6 290.6L221.6 291.2L219.7 291.7L217.7 292.1L215.7 292.6L213.8 292.9L211.8 293.3L209.8 293.6L207.8 294.0L205.9 294.3L203.9 294.6L201.9 294.8L199.9 295.0L197.9 295.1L195.8 295.0L193.8 294.9L191.8 294.7L189.8 294.4L187.9 294.0L185.9 293.5L184.0 293.0L182.0 292.4L180.2 291.8L178.3 291.0L176.6 289.7Z"/>
<path fill="#5000dc" d="M587.0 205.0L588.5 203.9L591.0 203.2L593.1 203.0L595.0 203.0L597.1 203.3L599.5 204.3L599.5 205.7L597.1 206.7L595.0 207.0L593.1 207.0L591.0 206.8L588.5 206.1Z"/>
<path fill="#008cdc" d="M83.0 185.0L85.0 184.8L87.0 184.7L89.0 184.5L91.0 184.3L93.0 184.2L95.0 184.0L97.0 183.8L99.0 183.7L100.9 183.5L102.9 183.3L104.9 183.2L106.9 183.0L108.9 182.8L110.9 182.6L112.9 182.4L114.9 182.3L116.9 182.1L118.9 182.0L120.9 182.0L122.9 181.9L124.9 181.9L126.9 181.8L128.9 181.7L130.9 181.7L132.9 181.7L134.9 181.6L136.9 181.6L138.9 181.6L140.9 181.6L142.9 181.6L144.9 181.7L146.9 181.7L148.9 181.8L150.9 181.9L152.9 182.0L154.9 182.1L156.9 182.2L158.9 182.3L160.9 182.4L162.9 182.6L164.9 182.7L166.9 182.8L168.9 183.0L170.9 183.2L172.9 183.3L174.9 183.5L176.9 183.7L178.8 183.9L180.8 184.1L182.8 184.3L184.8 184.5L186.8 184.8L188.8 185.0L190.8 185.3L192.8 185.6L194.7 185.8L196.7 186.1L198.7 186.3L200.7 186.5L202.7 186.7L204.7 186.8L206.7 187.0L208.7 187.2L210.7 187.3L212.7 187.5L214.7 187.6L216.7 187.8L218.7 187.9L220.7 188.0L222.6 188.2L224.6 188.3L226.6 188.4L228.6 188.6L230.6 188.7L232.6 188.8L234.6 188.9L236.6 189.0L238.6 189.0L240.6 189.0L242.6 189.0L244.6 188.9L246.6 188.8L248.6 188.7L250.6 188.6L252.6 188.4L254.6 188.2L256.6 188.0L258.6 187.7L260.6 187.5L262.6 187.4L264.6 187.2L266.6 187.0L268.6 186.8L270.5 186.5L272.5 186.1L274.4 185.6L276.3 185.0L278.3 184.5L280.2 183.9L282.2 183.5L284.1 183.0L286.0 182.5L288.0 182.0L289.9 181.6L291.9 181.3L293.9 180.9L295.9 180.6L297.8 180.3L299.8 180.0L301.8 179.7L303.8 179.4L305.7 179.0L307.7 178.7L309.7 178.4L311.7 178.2L313.7 178.0L315.7 177.8L317.7 177.6L319.6 177.4L321.6 177.2L323.6 177.1L325.6 176.9L327.6 176.7L329.6 176.5L331.6 176.2L333.5 175.8L335.5 175.4L337.5 174.9L339.4 174.5L341.4 174.1L343.3 173.7L345.3 173.3L347.3 172.9L349.2 172.5L351.2 172.2L353.2 171.9L355.2 171.6L357.1 171.4L359.1 171.1L361.1 170.8L363.1 170.5L365.1 170.2L367.1 170.0L369.0 169.7L371.0 169.5L373.0 169.3L375.0 169.2L377.0 169.0L379.0 168.9L381.0 168.7L383.0 168.4L385.0 168.1L387.0 167.8L388.9 167.6L390.9 167.6L392.9 167.7L394.9 167.9L396.9 168.2L398.9 168.5L400.9 168.7L402.9 169.0L404.9 169.2L406.8 169.5L408.8 169.8L410.8 170.1L412.8 170.4L414.8 170.7L416.7 171.0L418.7 171.4L420.7 171.7L422.6 172.2L424.6 172.6L426.5 173.1L428.4 173.6L430.4 174.1L432.3 174.6L434.2 175.1L436.2 175.7L438.1 176.2L440.0 176.8L441.9 177.4L443.8 178.0L445.7 178.6L447.6 179.2L449.5 179.9L451.4 180.5L453.3 181.2L455.2 181.8L457.1 182.5L459.0 183.1L460.9 183.7L462.9 184.2L464.8 184.7L466.7 185.2L468.7 185.7L470.6 186.1L472.6 186.6L474.5 187.0L476.5 187.4L478.5 187.7L480.4 188.1L482.4 188.4L484.4 188.8L486.4 189.1L488.3 189.4L490.3 189.6L492.3 189.8L494.3 190.0L496.3 190.2L498.3 190.4L500.3 190.6L502.8 191.1L504.0 191.7L503.1 192.5L501.1 193.7L499.0 195.1L497.5 196.5L496.0 198.1L494.7 199.8L494.0 201.6L494.1 203.5L494.4 205.7L494.8 207.6L495.7 208.9L497.6 210.1L499.6 210.9L501.5 211.3L503.5 211.7L505.5 212.0L507.5 212.2L509.5 212.4L511.5 212.5L513.5 212.7L515.5 212.8L517.5 212.9L519.5 213.0L521.5 213.1L523.5 213.1L525.5 213.2L527.5 213.3L529.5 213.3L531.5 213.4L533.5 213.4L535.5 213.5L537.5 213.5L539.5 213.6L541.5 213.6L543.5 213.7L545.5 213.7L547.5 213.8L549.5 213.8L551.5 213.9L553.5 213.9L555.5 213.9L557.5 214.0L559.5 214.0L561.5 214.0L563.5 214.0L565.5 214.1L567.5 214.1L569.5 214.1L571.5 214.1L573.5 214.1L575.5 214.1L577.5 214.2L579.5 214.2L581.5 214.2L583.5 214.3L585.5 214.4L587.5 214.5L589.5 214.7L591.5 214.8L593.5 214.9L595.5 215.1L597.5 215.2L599.5 215.3L601.5 215.4L603.5 215.5L605.5 215.6L607.5 215.6L609.5 215.7L611.5 215.8L613.5 215.9L615.5 215.9L617.5 216.0L619.5 216.0L621.5 216.0L623.5 215.9L625.5 215.7L627.5 215.5L629.5 215.2L631.4 215.0L633.4 214.7L635.4 214.3L637.4 213.9L639.3 213.5L641.3 213.0L643.2 212.5L645.1 211.9L647.0 211.3L648.9 210.7L650.8 210.1L652.8 209.6L654.7 209.1L656.5 208.3L658.2 207.3L659.9 206.2L661.6 205.1L663.3 204.0L665.0 203.0L666.7 201.9L668.4 200.9L670.2 199.9L671.9 199.0L673.7 198.1L675.5 197.2L677.4 196.4L679.2 195.6L681.0 194.8L682.9 194.1L684.8 193.4L686.7 192.7L688.6 192.1L690.5 191.6L692.4 191.0L694.4 190.5L696.3 190.0L698.3 189.6L700.2 189.2L702.2 188.8L704.2 188.5L706.1 188.2L708.1 187.9L710.1 187.6L712.1 187.4L714.1 187.1L716.1 186.9L718.0 186.6L720.0 186.4L722.0 186.2L724.0 186.1L726.0 186.0L728.0 185.9L730.0 185.8L732.3 185.7L734.9 185.5L737.5 185.3L739.7 185.1L741.1 185.0L741.0 185.0L741.0 258.5L739.0 257.7L737.0 256.8L735.0 255.9L733.0 255.0L731.0 254.0L729.0 253.0L727.0 252.0L725.0 251.1L723.0 250.2L721.0 249.3L719.0 248.4L717.0 247.5L715.0 246.7L713.0 245.9L711.0 245.1L709.0 244.5L707.0 243.8L705.0 243.1L703.0 242.5L701.0 241.9L699.0 241.4L697.0 241.0L695.0 240.6L693.0 240.2L691.0 239.9L689.0 239.6L687.0 239.4L685.0 239.2L683.0 239.1L681.0 238.9L679.0 238.8L677.0 238.7L675.0 238.6L673.0 238.5L671.0 238.5L669.0 238.4L667.0 238.4L665.0 238.3L663.0 238.2L661.0 238.1L659.0 238.0L657.0 237.8L655.0 237.6L653.0 237.4L651.0 237.3L649.0 237.3L647.0 237.4L645.0 237.5L643.0 237.5L641.0 237.5L639.0 237.4L637.0 237.4L635.0 237.4L633.0 237.3L631.0 237.3L629.0 237.3L627.0 237.3L625.0 237.3L623.0 237.3L621.0 237.4L619.0 237.4L617.0 237.4L615.0 237.4L613.0 237.5L611.0 237.5L609.0 237.5L607.0 237.5L605.0 237.6L603.0 237.6L601.0 237.6L599.0 237.7L597.0 237.7L595.0 237.8L593.0 237.9L591.0 238.0L589.0 238.2L587.0 238.3L585.0 238.5L583.0 238.7L581.0 238.9L579.0 239.1L577.0 239.3L575.0 239.5L573.0 239.7L571.0 239.9L569.0 240.1L567.0 240.3L565.0 240.5L563.0 240.7L561.0 241.0L559.0 241.2L557.0 241.5L555.0 241.8L553.0 242.1L551.0 242.4L549.0 242.6L547.0 242.9L545.0 243.3L543.0 243.6L541.0 243.9L539.0 244.2L537.0 244.5L535.0 244.8L533.0 245.1L531.0 245.4L529.0 245.7L527.0 245.9L525.0 246.2L523.0 246.4L521.0 246.7L519.0 246.9L517.0 247.1L515.0 247.3L513.0 247.5L511.0 247.7L509.0 247.9L507.0 248.0L505.0 248.2L503.0 248.4L501.0 248.5L499.0 248.7L497.0 248.8L495.0 249.0L493.0 249.1L491.0 249.3L489.0 249.5L487.0 249.8L485.0 250.0L483.0 250.3L481.0 250.5L479.0 250.7L477.0 250.7L475.0 250.8L473.0 250.9L471.0 251.0L469.0 251.0L467.0 251.2L465.0 251.3L463.0 251.4L461.0 251.5L459.0 251.7L457.0 251.8L455.0 252.0L453.0 252.1L451.0 252.3L449.0 252.5L447.0 252.7L445.0 252.9L443.0 253.1L441.0 253.3L439.0 253.5L437.0 253.6L435.0 253.7L433.0 253.8L431.0 253.9L429.0 254.1L427.0 254.3L425.0 254.5L423.0 254.7L421.0 254.9L419.0 255.1L417.0 255.3L415.0 255.5L413.0 255.7L411.0 255.9L409.0 256.1L407.0 256.5L405.0 256.9L403.0 257.3L401.0 257.5L399.0 257.5L397.0 257.4L395.0 257.4L393.0 257.3L391.0 257.2L389.0 257.2L387.0 257.2L385.0 257.3L383.0 257.4L381.0 257.5L379.0 257.6L377.0 257.7L375.0 257.8L373.0 257.9L371.0 258.1L369.0 258.2L367.0 258.3L365.0 258.4L363.0 258.6L361.0 258.7L359.0 258.7L357.0 258.9L355.0 258.9L353.0 259.0L351.0 259.0L349.0 259.0L347.0 259.0L345.0 259.0L343.0 258.9L341.0 258.8L339.0 258.6L337.0 258.5L335.0 258.2L333.0 257.9L331.0 257.6L329.0 257.4L327.0 257.1L325.0 256.8L323.0 256.5L321.0 256.2L319.0 255.9L317.0 255.6L315.0 255.3L313.0 255.0L311.0 254.7L309.0 254.3L307.0 254.0L305.0 253.7L303.0 253.4L301.0 253.1L299.0 252.9L297.0 252.7L295.0 252.5L293.0 252.4L291.0 252.2L289.0 252.1L287.0 251.9L285.0 251.8L283.0 251.7L281.0 251.5L279.0 251.4L277.0 251.2L275.0 251.1L273.0 251.0L271.0 250.9L269.0 250.7L267.0 250.6L265.0 250.5L263.0 250.5L261.0 250.4L259.0 250.4L257.0 250.6L255.0 250.8L253.0 251.2L251.0 251.5L249.0 251.7L247.0 252.0L245.0 252.2L243.0 252.5L241.0 252.8L239.0 253.2L237.0 253.7L235.0 254.2L233.0 254.8L231.0 255.5L229.0 256.1L227.0 256.8L225.0 257.5L223.0 258.1L221.0 258.7L219.0 259.3L217.0 259.8L215.0 260.3L213.0 260.8L211.0 261.2L209.0 261.7L207.0 262.1L205.0 262.6L203.0 263.0L201.0 263.4L199.0 263.8L197.0 264.2L195.0 264.6L193.0 264.9L191.0 265.3L189.0 265.6L187.0 266.0L185.0 266.3L183.0 266.6L181.0 266.9L179.0 267.1L177.0 267.4L175.0 267.7L173.0 267.9L171.0 268.2L169.0 268.4L167.0 268.6L165.0 268.8L163.0 268.9L161.0 269.0L159.0 269.0L157.0 269.0L155.0 269.0L153.0 268.9L151.0 268.9L149.0 268.9L147.0 268.8L145.0 268.8L143.0 268.7L141.0 268.6L139.0 268.6L137.0 268.4L135.0 268.2L133.0 268.0L131.0 267.8L129.0 267.5L127.0 267.2L125.0 266.8L123.0 266.5L121.0 266.2L119.0 265.8L117.0 265.5L115.0 265.1L113.0 264.7L111.0 264.2L109.0 263.8L107.0 263.3L105.0 262.8L103.0 262.3L101.0 261.8L99.0 261.4L97.0 260.9L95.0 260.3L93.0 259.8L91.0 259.3L89.0 258.7L87.0 258.2L85.0 257.6L83.0 257.0Z"/>
<path fill="#008cdc" d="M83.0 335.0L85.0 335.0L87.0 335.0L89.0 335.0L91.0 335.0L93.0 335.0L95.0 335.0L97.0 335.0L99.0 335.0L101.0 335.0L103.0 335.0L105.0 334.9L107.0 334.8L109.0 334.7L111.0 334.7L113.0 334.6L115.0 334.5L117.0 334.4L119.0 334.4L121.0 334.4L123.0 334.4L125.0 334.4L127.0 334.4L129.0 334.4L131.0 334.4L133.0 334.4L135.0 334.4L137.0 334.4L139.0 334.4L141.0 334.4L143.0 334.4L145.0 334.5L147.0 334.5L149.0 334.6L151.0 334.6L153.0 334.7L155.0 334.8L157.0 334.9L159.0 335.0L161.0 335.1L163.0 335.2L165.0 335.3L167.0 335.5L169.0 335.7L171.0 335.9L173.0 336.2L175.0 336.4L177.0 336.7L179.0 336.9L181.0 337.1L183.0 337.4L185.0 337.6L187.0 337.9L189.0 338.1L191.0 338.4L193.0 338.6L195.0 338.9L197.0 339.2L199.0 339.5L201.0 339.7L203.0 340.0L205.0 340.3L207.0 340.6L209.0 340.9L211.0 341.2L213.0 341.5L215.0 341.8L217.0 342.0L219.0 342.3L221.0 342.5L223.0 342.7L225.0 342.9L227.0 343.1L229.0 343.3L231.0 343.5L233.0 343.7L235.0 343.9L237.0 344.1L239.0 344.2L241.0 344.4L243.0 344.5L245.0 344.6L247.0 344.7L249.0 344.9L251.0 345.0L253.0 345.1L255.0 345.3L257.0 345.5L259.0 345.8L261.0 346.1L263.0 346.5L265.0 346.9L267.0 347.2L269.0 347.5L271.0 347.9L273.0 348.2L275.0 348.5L277.0 348.8L279.0 349.1L281.0 349.4L283.0 349.6L285.0 349.8L287.0 350.0L289.0 350.2L291.0 350.3L293.0 350.3L295.0 350.2L297.0 349.9L299.0 349.6L301.0 349.4L303.0 349.0L305.0 348.6L307.0 348.1L309.0 347.6L311.0 347.0L313.0 346.4L315.0 345.8L317.0 345.2L319.0 344.6L321.0 344.0L323.0 343.3L325.0 342.7L327.0 342.1L329.0 341.6L331.0 341.0L333.0 340.5L335.0 340.0L337.0 339.6L339.0 339.2L341.0 338.8L343.0 338.5L345.0 338.2L347.0 338.0L349.0 337.8L351.0 337.6L353.0 337.5L355.0 337.3L357.0 337.1L359.0 337.0L361.0 337.1L363.0 337.5L365.0 338.1L367.0 338.9L369.0 339.5L371.0 339.9L373.0 340.2L375.0 340.4L377.0 340.6L379.0 340.9L381.0 341.2L383.0 341.5L385.0 341.9L387.0 342.2L389.0 342.4L391.0 342.5L393.0 342.6L395.0 342.7L397.0 342.7L399.0 342.8L401.0 342.8L403.0 343.0L405.0 343.1L407.0 343.3L409.0 343.5L411.0 343.7L413.0 343.9L415.0 344.0L417.0 344.2L419.0 344.4L421.0 344.6L423.0 344.8L425.0 345.0L427.0 345.2L429.0 345.4L431.0 345.5L433.0 345.7L435.0 345.8L437.0 345.9L439.0 346.0L441.0 346.0L443.0 346.0L445.0 346.0L447.0 346.0L449.0 346.0L451.0 345.9L453.0 345.9L455.0 345.9L457.0 345.9L459.0 345.8L461.0 345.8L463.0 345.6L465.0 345.4L467.0 345.1L469.0 344.7L471.0 344.3L473.0 343.9L475.0 343.5L477.0 343.0L479.0 342.7L481.0 342.3L483.0 342.0L485.0 341.7L487.0 341.4L489.0 341.1L491.0 340.8L493.0 340.5L495.0 340.2L497.0 339.8L499.0 339.5L501.0 339.1L503.0 338.7L505.0 338.2L507.0 337.7L509.0 337.3L511.0 337.0L513.0 336.8L515.0 336.6L517.0 336.5L519.0 336.4L521.0 336.2L523.0 335.9L525.0 335.5L527.0 335.2L529.0 335.0L531.0 335.0L533.0 335.1L535.0 335.2L537.0 335.4L539.0 335.5L541.0 335.7L543.0 335.8L545.0 336.0L547.0 336.1L549.0 336.3L551.0 336.5L553.0 336.7L555.0 337.0L557.0 337.3L559.0 337.5L561.0 337.7L563.0 337.8L565.0 338.0L567.0 338.1L569.0 338.3L571.0 338.5L573.0 338.8L575.0 339.1L577.0 339.5L579.0 339.8L581.0 340.2L583.0 340.6L585.0 341.0L587.0 341.4L589.0 341.6L591.0 341.6L593.0 341.6L595.0 341.6L597.0 341.5L599.0 341.5L601.0 341.5L603.0 341.7L605.0 342.1L607.0 342.5L609.0 342.9L611.0 343.1L613.0 343.4L615.0 343.6L617.0 343.8L619.0 343.9L621.0 344.1L623.0 344.2L625.0 344.3L627.0 344.3L629.0 344.4L631.0 344.4L633.0 344.4L635.0 344.3L637.0 344.2L639.0 344.1L641.0 343.9L643.0 343.6L645.0 343.3L647.0 342.8L649.0 342.4L651.0 341.9L653.0 341.4L655.0 340.9L657.0 340.3L659.0 339.7L661.0 339.0L663.0 338.1L665.0 337.1L667.0 336.2L669.0 335.4L671.0 334.7L673.0 334.0L675.0 333.4L677.0 332.9L679.0 332.5L681.0 332.3L683.0 332.0L685.0 331.8L687.0 331.7L689.0 331.6L691.0 331.6L693.0 331.7L695.0 331.7L697.0 331.8L699.0 331.9L701.0 332.1L703.0 332.2L705.0 332.4L707.0 332.6L709.0 332.8L711.0 333.0L713.0 333.2L715.0 333.4L717.0 333.6L719.0 333.8L721.0 333.8L723.0 333.9L725.0 333.9L727.0 333.9L729.0 334.0L731.0 334.0L733.0 334.1L735.0 334.1L737.0 334.2L739.0 334.3L741.0 334.4L741.0 409.9L739.0 409.7L737.0 409.5L735.0 409.3L733.0 409.1L731.0 408.9L729.0 408.6L727.0 408.4L725.0 408.2L723.0 408.0L721.0 407.7L719.0 407.5L717.0 407.2L715.0 407.0L713.0 406.7L711.0 406.5L709.0 406.2L707.0 405.9L705.0 405.7L703.0 405.4L701.0 405.1L699.0 404.9L697.0 404.6L695.0 404.3L693.0 404.0L691.0 403.7L689.0 403.5L687.0 403.2L685.0 402.9L683.0 402.7L681.0 402.5L679.0 402.3L677.0 402.1L675.0 402.0L673.0 401.8L671.0 401.6L669.0 401.5L667.0 401.3L665.0 401.2L663.0 401.1L661.0 401.0L659.0 401.0L657.0 400.9L655.0 400.9L653.0 400.8L651.0 400.7L649.0 400.7L647.0 400.7L645.0 400.6L643.0 400.6L641.0 400.6L639.0 400.6L637.0 400.6L635.0 400.7L633.0 400.8L631.0 400.8L629.0 400.9L627.0 401.0L625.0 401.1L623.0 401.3L621.0 401.4L619.0 401.4L617.0 401.5L615.0 401.6L613.0 401.7L611.0 401.8L609.0 402.0L607.0 402.1L605.0 402.2L603.0 402.3L601.0 402.4L599.0 402.4L597.0 402.5L595.0 402.6L593.0 402.7L591.0 402.8L589.0 402.9L587.0 403.0L585.0 403.0L583.0 403.1L581.0 403.2L579.0 403.2L577.0 403.3L575.0 403.3L573.0 403.4L571.0 403.4L569.0 403.5L567.0 403.5L565.0 403.6L563.0 403.6L561.0 403.6L559.0 403.6L557.0 403.6L555.0 403.6L553.0 403.5L551.0 403.5L549.0 403.4L547.0 403.4L545.0 403.3L543.0 403.3L541.0 403.2L539.0 403.2L537.0 403.1L535.0 403.0L533.0 403.0L531.0 402.9L529.0 402.8L527.0 402.7L525.0 402.6L523.0 402.5L521.0 402.4L519.0 402.4L517.0 402.3L515.0 402.2L513.0 402.1L511.0 402.0L509.0 401.9L507.0 401.8L505.0 401.7L503.0 401.7L501.0 401.6L499.0 401.6L497.0 401.6L495.0 401.5L493.0 401.5L491.0 401.5L489.0 401.4L487.0 401.4L485.0 401.4L483.0 401.4L481.0 401.4L479.0 401.4L477.0 401.4L475.0 401.5L473.0 401.5L471.0 401.6L469.0 401.6L467.0 401.7L465.0 401.8L463.0 401.9L461.0 402.0L459.0 402.0L457.0 402.1L455.0 402.2L453.0 402.3L451.0 402.4L449.0 402.5L447.0 402.6L445.0 402.7L443.0 402.8L441.0 402.9L439.0 403.1L437.0 403.2L435.0 403.3L433.0 403.5L431.0 403.6L429.0 403.8L427.0 403.9L425.0 404.1L423.0 404.2L421.0 404.3L419.0 404.5L417.0 404.6L415.0 404.7L413.0 404.8L411.0 404.9L409.0 405.0L407.0 405.1L405.0 405.1L403.0 405.2L401.0 405.2L399.0 405.2L397.0 405.2L395.0 405.2L393.0 405.1L391.0 405.1L389.0 405.0L387.0 405.0L385.0 404.9L383.0 404.9L381.0 404.8L379.0 404.8L377.0 404.7L375.0 404.7L373.0 404.7L371.0 404.6L369.0 404.6L367.0 404.5L365.0 404.5L363.0 404.5L361.0 404.4L359.0 404.4L357.0 404.3L355.0 404.3L353.0 404.3L351.0 404.2L349.0 404.2L347.0 404.1L345.0 404.1L343.0 404.1L341.0 404.0L339.0 404.0L337.0 403.9L335.0 403.9L333.0 403.8L331.0 403.8L329.0 403.7L327.0 403.7L325.0 403.6L323.0 403.6L321.0 403.6L319.0 403.6L317.0 403.6L315.0 403.6L313.0 403.6L311.0 403.6L309.0 403.6L307.0 403.6L305.0 403.6L303.0 403.6L301.0 403.6L299.0 403.6L297.0 403.6L295.0 403.7L293.0 403.7L291.0 403.8L289.0 403.9L287.0 404.0L285.0 404.1L283.0 404.2L281.0 404.4L279.0 404.4L277.0 404.6L275.0 404.7L273.0 404.8L271.0 404.9L269.0 405.0L267.0 405.2L265.0 405.3L263.0 405.4L261.0 405.5L259.0 405.7L257.0 405.8L255.0 405.9L253.0 406.0L251.0 406.0L249.0 406.1L247.0 406.2L245.0 406.3L243.0 406.4L241.0 406.5L239.0 406.7L237.0 406.8L235.0 406.9L233.0 407.1L231.0 407.2L229.0 407.4L227.0 407.5L225.0 407.7L223.0 407.8L221.0 407.9L219.0 408.1L217.0 408.2L215.0 408.3L213.0 408.4L211.0 408.6L209.0 408.7L207.0 408.8L205.0 408.9L203.0 409.0L201.0 409.1L199.0 409.3L197.0 409.4L195.0 409.5L193.0 409.6L191.0 409.8L189.0 409.9L187.0 410.0L185.0 410.1L183.0 410.2L181.0 410.3L179.0 410.5L177.0 410.6L175.0 410.7L173.0 410.8L171.0 410.9L169.0 411.1L167.0 411.2L165.0 411.2L163.0 411.3L161.0 411.4L159.0 411.4L157.0 411.4L155.0 411.5L153.0 411.5L151.0 411.5L149.0 411.6L147.0 411.6L145.0 411.6L143.0 411.6L141.0 411.6L139.0 411.6L137.0 411.6L135.0 411.5L133.0 411.5L131.0 411.4L129.0 411.4L127.0 411.3L125.0 411.2L123.0 411.1L121.0 411.0L119.0 411.0L117.0 410.9L115.0 410.7L113.0 410.6L111.0 410.4L109.0 410.3L107.0 410.1L105.0 410.0L103.0 409.8L101.0 409.7L99.0 409.5L97.0 409.4L95.0 409.2L93.0 409.1L91.0 409.0L89.0 408.8L87.0 408.7L85.0 408.5L83.0 408.4Z"/>
<path fill="#00c8dc" d="M83.0 195.6L85.0 195.4L87.0 195.1L89.0 194.9L91.0 194.7L93.0 194.4L95.0 194.2L97.0 194.0L99.0 193.7L101.0 193.5L103.0 193.2L105.0 192.9L107.0 192.6L109.0 192.3L111.0 192.0L113.0 191.7L115.0 191.5L117.0 191.3L119.0 191.1L121.0 190.9L123.0 190.8L125.0 190.6L127.0 190.5L129.0 190.4L131.0 190.3L133.0 190.2L135.0 190.1L137.0 190.0L139.0 190.0L141.0 190.0L143.0 190.0L145.0 190.0L147.0 190.1L149.0 190.1L151.0 190.1L153.0 190.2L155.0 190.2L157.0 190.3L159.0 190.4L161.0 190.4L163.0 190.6L165.0 190.7L167.0 190.9L169.0 191.1L171.0 191.3L173.0 191.6L175.0 191.8L177.0 192.0L179.0 192.3L181.0 192.5L183.0 192.8L185.0 193.0L187.0 193.3L189.0 193.5L191.0 193.8L193.0 194.1L195.0 194.3L197.0 194.6L199.0 194.9L201.0 195.1L203.0 195.4L205.0 195.7L207.0 195.9L209.0 196.2L211.0 196.5L213.0 196.7L215.0 197.0L217.0 197.2L219.0 197.5L221.0 197.7L223.0 198.0L225.0 198.2L227.0 198.5L229.0 198.8L231.0 199.0L233.0 199.2L235.0 199.4L237.0 199.5L239.0 199.6L241.0 199.6L243.0 199.5L245.0 199.4L247.0 199.3L249.0 199.1L251.0 198.9L253.0 198.6L255.0 198.1L257.0 197.7L259.0 197.2L261.0 196.8L263.0 196.4L265.0 196.0L267.0 195.6L269.0 195.2L271.0 194.8L273.0 194.3L275.0 193.7L277.0 193.2L279.0 192.7L281.0 192.2L283.0 191.7L285.0 191.2L287.0 190.7L289.0 190.2L291.0 189.8L293.0 189.4L295.0 189.0L297.0 188.6L299.0 188.2L301.0 187.8L303.0 187.4L305.0 187.0L307.0 186.6L309.0 186.2L311.0 185.8L313.0 185.4L315.0 185.0L317.0 184.6L319.0 184.2L321.0 183.8L323.0 183.5L325.0 183.2L327.0 182.9L329.0 182.6L331.0 182.2L333.0 181.9L335.0 181.5L337.0 181.1L339.0 180.8L341.0 180.5L343.0 180.2L345.0 180.0L347.0 179.7L349.0 179.5L351.0 179.3L353.0 179.1L355.0 178.8L357.0 178.6L359.0 178.5L361.0 178.3L363.0 178.2L365.0 178.1L367.0 178.1L369.0 178.0L371.0 178.0L373.0 178.0L375.0 178.0L377.0 178.0L379.0 178.0L381.0 178.0L383.0 178.0L385.0 178.0L387.0 178.0L389.0 178.0L391.0 178.0L393.0 178.0L395.0 178.1L397.0 178.2L399.0 178.3L401.0 178.5L403.0 179.0L405.0 179.6L407.0 180.5L409.0 181.9L411.0 183.4L413.0 184.6L415.0 185.7L417.0 186.7L419.0 187.6L421.0 188.4L423.0 189.0L425.0 189.5L427.0 190.1L429.0 190.7L431.0 191.3L433.0 192.1L435.0 192.9L437.0 193.7L439.0 194.6L441.0 195.4L443.0 196.3L445.0 197.3L447.0 198.3L449.0 199.4L451.0 200.7L453.0 202.3L455.0 204.0L457.0 205.7L459.0 207.3L461.0 208.7L463.0 210.2L465.0 211.5L467.0 212.8L469.0 213.9L471.0 215.0L473.0 216.0L475.0 216.9L477.0 217.8L479.0 218.4L481.0 218.6L483.0 218.7L485.0 218.9L487.0 218.9L489.0 219.0L491.0 219.0L493.0 219.0L495.0 218.9L497.0 218.9L499.0 218.8L501.0 218.8L503.0 218.7L505.0 218.6L507.0 218.5L509.0 218.4L511.0 218.4L513.0 218.4L515.0 218.4L517.0 218.4L519.0 218.4L521.0 218.4L523.0 218.3L525.0 218.2L527.0 218.1L529.0 218.0L531.0 218.0L533.0 218.0L535.0 218.0L537.0 218.0L539.0 218.0L541.0 218.0L543.0 218.0L545.0 218.0L547.0 218.0L549.0 218.0L551.0 218.0L553.0 218.1L555.0 218.2L557.0 218.3L559.0 218.4L561.0 218.4L563.0 218.5L565.0 218.6L567.0 218.6L569.0 218.7L571.0 218.7L573.0 218.8L575.0 218.9L577.0 218.9L579.0 219.0L581.0 219.0L583.0 219.1L585.0 219.1L587.0 219.2L589.0 219.2L591.0 219.3L593.0 219.3L595.0 219.4L597.0 219.4L599.0 219.5L601.0 219.5L603.0 219.6L605.0 219.6L607.0 219.7L609.0 219.7L611.0 219.7L613.0 219.8L615.0 219.8L617.0 219.9L619.0 220.0L621.0 220.1L623.0 220.2L625.0 220.4L627.0 220.6L629.0 220.8L631.0 220.8L633.0 220.9L635.0 220.9L637.0 221.0L639.0 221.0L641.0 220.9L643.0 220.6L645.0 219.9L647.0 219.2L649.0 218.4L651.0 217.6L653.0 216.5L655.0 215.4L657.0 214.4L659.0 213.8L661.0 213.8L663.0 214.4L665.0 215.0L667.0 214.1L669.0 211.6L671.0 209.7L673.0 208.2L675.0 206.8L677.0 205.6L679.0 204.5L681.0 203.4L683.0 202.4L685.0 201.5L687.0 200.6L689.0 199.8L691.0 199.0L693.0 198.3L695.0 197.7L697.0 197.1L699.0 196.5L701.0 196.1L703.0 195.7L705.0 195.3L707.0 194.9L709.0 194.5L711.0 194.1L713.0 193.7L715.0 193.3L717.0 193.0L719.0 192.6L721.0 192.3L723.0 192.2L725.0 192.0L727.0 191.9L729.0 191.9L731.0 191.7L733.0 191.6L735.0 191.5L737.0 191.3L739.0 191.2L741.0 191.0L741.0 252.0L739.0 251.3L737.0 250.5L735.0 249.7L733.0 248.9L731.0 248.1L729.0 247.1L727.0 246.2L725.0 245.4L723.0 244.6L721.0 243.8L719.0 242.9L717.0 242.0L715.0 241.2L713.0 240.4L711.0 239.6L709.0 238.9L707.0 238.2L705.0 237.7L703.0 237.2L701.0 236.8L699.0 236.5L697.0 236.2L695.0 235.9L693.0 235.6L691.0 235.4L689.0 235.2L687.0 235.0L685.0 234.8L683.0 234.6L681.0 234.4L679.0 234.3L677.0 234.2L675.0 234.1L673.0 234.0L671.0 234.0L669.0 233.9L667.0 233.8L665.0 233.7L663.0 233.6L661.0 233.4L659.0 233.0L657.0 232.5L655.0 232.0L653.0 231.5L651.0 231.2L649.0 231.3L647.0 231.9L645.0 232.3L643.0 232.3L641.0 232.3L639.0 232.3L637.0 232.2L635.0 232.2L633.0 232.2L631.0 232.2L629.0 232.2L627.0 232.2L625.0 232.2L623.0 232.2L621.0 232.2L619.0 232.2L617.0 232.2L615.0 232.2L613.0 232.2L611.0 232.2L609.0 232.2L607.0 232.2L605.0 232.2L603.0 232.2L601.0 232.2L599.0 232.3L597.0 232.3L595.0 232.3L593.0 232.3L591.0 232.4L589.0 232.6L587.0 232.7L585.0 232.9L583.0 233.0L581.0 233.2L579.0 233.4L577.0 233.6L575.0 233.8L573.0 234.0L571.0 234.2L569.0 234.4L567.0 234.7L565.0 234.9L563.0 235.1L561.0 235.4L559.0 235.6L557.0 235.9L555.0 236.2L553.0 236.4L551.0 236.7L549.0 236.9L547.0 237.2L545.0 237.4L543.0 237.6L541.0 237.9L539.0 238.1L537.0 238.4L535.0 238.6L533.0 238.8L531.0 239.1L529.0 239.3L527.0 239.6L525.0 239.8L523.0 240.0L521.0 240.3L519.0 240.5L517.0 240.8L515.0 241.0L513.0 241.2L511.0 241.5L509.0 241.7L507.0 241.9L505.0 242.2L503.0 242.5L501.0 242.8L499.0 243.1L497.0 243.4L495.0 243.7L493.0 244.0L491.0 244.2L489.0 244.4L487.0 244.5L485.0 244.7L483.0 244.8L481.0 244.9L479.0 245.1L477.0 245.2L475.0 245.3L473.0 245.4L471.0 245.5L469.0 245.7L467.0 245.8L465.0 246.0L463.0 246.2L461.0 246.3L459.0 246.5L457.0 246.6L455.0 246.7L453.0 246.8L451.0 246.9L449.0 247.1L447.0 247.2L445.0 247.3L443.0 247.4L441.0 247.5L439.0 247.7L437.0 247.8L435.0 248.0L433.0 248.2L431.0 248.3L429.0 248.5L427.0 248.6L425.0 248.7L423.0 248.8L421.0 248.9L419.0 249.1L417.0 249.2L415.0 249.3L413.0 249.4L411.0 249.5L409.0 249.7L407.0 249.8L405.0 250.0L403.0 250.2L401.0 250.4L399.0 250.6L397.0 251.0L395.0 251.4L393.0 251.8L391.0 252.2L389.0 252.4L387.0 252.6L385.0 252.8L383.0 252.9L381.0 253.1L379.0 253.2L377.0 253.4L375.0 253.5L373.0 253.7L371.0 253.8L369.0 254.0L367.0 254.2L365.0 254.3L363.0 254.4L361.0 254.5L359.0 254.5L357.0 254.5L355.0 254.5L353.0 254.4L351.0 254.4L349.0 254.3L347.0 254.3L345.0 254.2L343.0 254.1L341.0 253.9L339.0 253.7L337.0 253.4L335.0 253.1L333.0 252.8L331.0 252.4L329.0 252.2L327.0 251.8L325.0 251.5L323.0 251.1L321.0 250.8L319.0 250.4L317.0 250.1L315.0 249.7L313.0 249.3L311.0 248.9L309.0 248.5L307.0 248.2L305.0 247.8L303.0 247.4L301.0 247.1L299.0 246.9L297.0 246.7L295.0 246.5L293.0 246.3L291.0 246.1L289.0 245.9L287.0 245.7L285.0 245.5L283.0 245.3L281.0 245.1L279.0 244.9L277.0 244.6L275.0 244.4L273.0 244.2L271.0 244.0L269.0 244.0L267.0 244.0L265.0 244.1L263.0 244.2L261.0 244.3L259.0 244.5L257.0 244.7L255.0 244.9L253.0 245.2L251.0 245.5L249.0 245.7L247.0 245.9L245.0 246.1L243.0 246.3L241.0 246.6L239.0 246.9L237.0 247.2L235.0 247.7L233.0 248.2L231.0 248.8L229.0 249.4L227.0 250.0L225.0 250.6L223.0 251.2L221.0 251.7L219.0 252.3L217.0 252.8L215.0 253.3L213.0 253.8L211.0 254.3L209.0 254.8L207.0 255.3L205.0 255.8L203.0 256.3L201.0 256.8L199.0 257.2L197.0 257.7L195.0 258.1L193.0 258.5L191.0 259.0L189.0 259.4L187.0 259.8L185.0 260.2L183.0 260.5L181.0 260.8L179.0 261.2L177.0 261.5L175.0 261.8L173.0 262.1L171.0 262.4L169.0 262.7L167.0 263.0L165.0 263.2L163.0 263.3L161.0 263.4L159.0 263.4L157.0 263.4L155.0 263.4L153.0 263.3L151.0 263.3L149.0 263.3L147.0 263.2L145.0 263.2L143.0 263.1L141.0 263.0L139.0 263.0L137.0 262.8L135.0 262.6L133.0 262.4L131.0 262.2L129.0 261.9L127.0 261.6L125.0 261.2L123.0 260.9L121.0 260.6L119.0 260.2L117.0 259.9L115.0 259.5L113.0 259.1L111.0 258.6L109.0 258.2L107.0 257.7L105.0 257.2L103.0 256.7L101.0 256.2L99.0 255.8L97.0 255.3L95.0 254.8L93.0 254.3L91.0 253.8L89.0 253.2L87.0 252.7L85.0 252.1L83.0 251.6Z"/>
<path fill="#00c8dc" d="M83.0 341.8L85.0 341.7L87.0 341.7L89.0 341.6L91.0 341.5L93.0 341.5L95.0 341.4L97.0 341.4L99.0 341.3L101.0 341.3L103.0 341.2L105.0 341.2L107.0 341.1L109.0 341.1L111.0 341.0L113.0 341.0L115.0 340.9L117.0 340.9L119.0 340.9L121.0 340.9L123.0 340.9L125.0 340.9L127.0 341.0L129.0 341.0L131.0 341.1L133.0 341.1L135.0 341.2L137.0 341.2L139.0 341.3L141.0 341.3L143.0 341.4L145.0 341.5L147.0 341.5L149.0 341.6L151.0 341.7L153.0 341.8L155.0 341.9L157.0 342.0L159.0 342.1L161.0 342.3L163.0 342.4L165.0 342.5L167.0 342.7L169.0 342.8L171.0 343.0L173.0 343.2L175.0 343.3L177.0 343.5L179.0 343.7L181.0 343.9L183.0 344.1L185.0 344.3L187.0 344.5L189.0 344.8L191.0 345.0L193.0 345.2L195.0 345.4L197.0 345.7L199.0 345.9L201.0 346.1L203.0 346.3L205.0 346.5L207.0 346.8L209.0 347.0L211.0 347.2L213.0 347.4L215.0 347.6L217.0 347.8L219.0 347.9L221.0 348.1L223.0 348.2L225.0 348.3L227.0 348.4L229.0 348.5L231.0 348.7L233.0 348.8L235.0 348.9L237.0 349.0L239.0 349.1L241.0 349.3L243.0 349.4L245.0 349.6L247.0 349.8L249.0 350.0L251.0 350.2L253.0 350.5L255.0 350.7L257.0 350.9L259.0 351.2L261.0 351.5L263.0 351.8L265.0 352.1L267.0 352.4L269.0 352.7L271.0 353.0L273.0 353.3L275.0 353.7L277.0 354.1L279.0 354.4L281.0 354.8L283.0 355.0L285.0 355.2L287.0 355.3L289.0 355.4L291.0 355.5L293.0 355.5L295.0 355.4L297.0 355.2L299.0 354.9L301.0 354.7L303.0 354.3L305.0 353.8L307.0 353.4L309.0 353.0L311.0 352.6L313.0 352.2L315.0 351.8L317.0 351.3L319.0 350.8L321.0 350.3L323.0 349.9L325.0 349.5L327.0 349.1L329.0 348.8L331.0 348.4L333.0 348.1L335.0 347.8L337.0 347.6L339.0 347.3L341.0 347.1L343.0 347.0L345.0 346.8L347.0 346.7L349.0 346.6L351.0 346.5L353.0 346.4L355.0 346.3L357.0 346.3L359.0 346.2L361.0 346.2L363.0 346.1L365.0 346.1L367.0 346.0L369.0 346.0L371.0 346.0L373.0 346.1L375.0 346.3L377.0 346.5L379.0 346.7L381.0 346.9L383.0 347.1L385.0 347.4L387.0 347.6L389.0 347.9L391.0 348.1L393.0 348.3L395.0 348.6L397.0 348.8L399.0 349.0L401.0 349.3L403.0 349.5L405.0 349.8L407.0 350.1L409.0 350.3L411.0 350.5L413.0 350.6L415.0 350.8L417.0 350.9L419.0 351.0L421.0 351.0L423.0 351.0L425.0 351.0L427.0 351.0L429.0 351.0L431.0 351.0L433.0 350.9L435.0 350.8L437.0 350.6L439.0 350.5L441.0 350.3L443.0 350.2L445.0 350.0L447.0 349.9L449.0 349.7L451.0 349.5L453.0 349.3L455.0 349.0L457.0 348.7L459.0 348.5L461.0 348.3L463.0 348.1L465.0 348.0L467.0 347.8L469.0 347.7L471.0 347.5L473.0 347.4L475.0 347.3L477.0 347.2L479.0 347.1L481.0 346.9L483.0 346.7L485.0 346.4L487.0 346.1L489.0 345.8L491.0 345.6L493.0 345.3L495.0 345.0L497.0 344.7L499.0 344.4L501.0 344.2L503.0 343.9L505.0 343.6L507.0 343.4L509.0 343.1L511.0 342.9L513.0 342.6L515.0 342.2L517.0 342.0L519.0 341.8L521.0 341.7L523.0 341.6L525.0 341.5L527.0 341.4L529.0 341.4L531.0 341.4L533.0 341.4L535.0 341.4L537.0 341.5L539.0 341.5L541.0 341.5L543.0 341.6L545.0 341.8L547.0 342.0L549.0 342.1L551.0 342.3L553.0 342.4L555.0 342.6L557.0 342.7L559.0 342.9L561.0 343.1L563.0 343.3L565.0 343.5L567.0 343.7L569.0 343.9L571.0 344.1L573.0 344.4L575.0 344.8L577.0 345.1L579.0 345.4L581.0 345.7L583.0 346.0L585.0 346.3L587.0 346.6L589.0 346.9L591.0 347.1L593.0 347.4L595.0 347.7L597.0 348.0L599.0 348.3L601.0 348.5L603.0 348.8L605.0 349.0L607.0 349.3L609.0 349.5L611.0 349.7L613.0 349.9L615.0 350.1L617.0 350.3L619.0 350.4L621.0 350.4L623.0 350.4L625.0 350.4L627.0 350.4L629.0 350.4L631.0 350.4L633.0 350.3L635.0 350.1L637.0 349.9L639.0 349.7L641.0 349.5L643.0 349.2L645.0 348.9L647.0 348.6L649.0 348.2L651.0 347.8L653.0 347.3L655.0 346.8L657.0 346.2L659.0 345.6L661.0 345.0L663.0 344.4L665.0 343.7L667.0 343.0L669.0 342.4L671.0 341.9L673.0 341.4L675.0 341.0L677.0 340.6L679.0 340.2L681.0 339.9L683.0 339.7L685.0 339.4L687.0 339.3L689.0 339.1L691.0 338.9L693.0 338.8L695.0 338.6L697.0 338.5L699.0 338.4L701.0 338.4L703.0 338.6L705.0 338.8L707.0 339.1L709.0 339.3L711.0 339.5L713.0 339.7L715.0 339.8L717.0 340.0L719.0 340.1L721.0 340.3L723.0 340.3L725.0 340.4L727.0 340.5L729.0 340.6L731.0 340.6L733.0 340.7L735.0 340.8L737.0 340.9L739.0 341.1L741.0 341.2L741.0 404.9L739.0 404.6L737.0 404.3L735.0 404.0L733.0 403.7L731.0 403.4L729.0 403.2L727.0 402.9L725.0 402.6L723.0 402.4L721.0 402.1L719.0 401.9L717.0 401.6L715.0 401.4L713.0 401.2L711.0 401.0L709.0 400.7L707.0 400.5L705.0 400.3L703.0 400.1L701.0 399.9L699.0 399.7L697.0 399.5L695.0 399.3L693.0 399.1L691.0 398.8L689.0 398.6L687.0 398.4L685.0 398.2L683.0 398.1L681.0 397.9L679.0 397.7L677.0 397.6L675.0 397.4L673.0 397.2L671.0 397.1L669.0 396.9L667.0 396.8L665.0 396.7L663.0 396.6L661.0 396.5L659.0 396.5L657.0 396.5L655.0 396.5L653.0 396.4L651.0 396.4L649.0 396.4L647.0 396.4L645.0 396.4L643.0 396.4L641.0 396.4L639.0 396.4L637.0 396.4L635.0 396.5L633.0 396.5L631.0 396.6L629.0 396.7L627.0 396.8L625.0 396.9L623.0 397.0L621.0 397.2L619.0 397.2L617.0 397.4L615.0 397.5L613.0 397.6L611.0 397.7L609.0 397.9L607.0 398.0L605.0 398.1L603.0 398.2L601.0 398.4L599.0 398.4L597.0 398.5L595.0 398.6L593.0 398.7L591.0 398.8L589.0 398.9L587.0 399.0L585.0 399.0L583.0 399.1L581.0 399.2L579.0 399.2L577.0 399.3L575.0 399.3L573.0 399.4L571.0 399.4L569.0 399.5L567.0 399.5L565.0 399.6L563.0 399.6L561.0 399.6L559.0 399.6L557.0 399.6L555.0 399.6L553.0 399.5L551.0 399.5L549.0 399.4L547.0 399.4L545.0 399.3L543.0 399.3L541.0 399.2L539.0 399.2L537.0 399.1L535.0 399.0L533.0 399.0L531.0 398.9L529.0 398.8L527.0 398.7L525.0 398.6L523.0 398.5L521.0 398.4L519.0 398.4L517.0 398.3L515.0 398.2L513.0 398.1L511.0 398.0L509.0 397.9L507.0 397.8L505.0 397.8L503.0 397.7L501.0 397.6L499.0 397.6L497.0 397.5L495.0 397.5L493.0 397.4L491.0 397.4L489.0 397.3L487.0 397.3L485.0 397.2L483.0 397.2L481.0 397.2L479.0 397.2L477.0 397.2L475.0 397.2L473.0 397.3L471.0 397.3L469.0 397.4L467.0 397.4L465.0 397.5L463.0 397.5L461.0 397.6L459.0 397.6L457.0 397.7L455.0 397.8L453.0 397.8L451.0 397.9L449.0 398.0L447.0 398.1L445.0 398.2L443.0 398.3L441.0 398.4L439.0 398.4L437.0 398.6L435.0 398.7L433.0 398.8L431.0 398.9L429.0 399.0L427.0 399.2L425.0 399.3L423.0 399.4L421.0 399.5L419.0 399.7L417.0 399.8L415.0 399.9L413.0 400.0L411.0 400.2L409.0 400.3L407.0 400.4L405.0 400.5L403.0 400.6L401.0 400.6L399.0 400.6L397.0 400.6L395.0 400.5L393.0 400.5L391.0 400.4L389.0 400.3L387.0 400.2L385.0 400.2L383.0 400.1L381.0 400.0L379.0 400.0L377.0 399.9L375.0 399.9L373.0 399.9L371.0 399.8L369.0 399.8L367.0 399.7L365.0 399.7L363.0 399.7L361.0 399.6L359.0 399.6L357.0 399.5L355.0 399.5L353.0 399.4L351.0 399.3L349.0 399.3L347.0 399.2L345.0 399.2L343.0 399.1L341.0 399.0L339.0 399.0L337.0 398.9L335.0 398.8L333.0 398.7L331.0 398.7L329.0 398.6L327.0 398.5L325.0 398.5L323.0 398.4L321.0 398.4L319.0 398.4L317.0 398.4L315.0 398.4L313.0 398.4L311.0 398.4L309.0 398.4L307.0 398.4L305.0 398.4L303.0 398.4L301.0 398.4L299.0 398.4L297.0 398.4L295.0 398.5L293.0 398.5L291.0 398.6L289.0 398.6L287.0 398.7L285.0 398.8L283.0 398.9L281.0 399.0L279.0 399.0L277.0 399.1L275.0 399.2L273.0 399.3L271.0 399.4L269.0 399.5L267.0 399.6L265.0 399.7L263.0 399.8L261.0 399.9L259.0 400.0L257.0 400.1L255.0 400.2L253.0 400.3L251.0 400.4L249.0 400.5L247.0 400.6L245.0 400.7L243.0 400.8L241.0 400.9L239.0 401.1L237.0 401.2L235.0 401.3L233.0 401.5L231.0 401.6L229.0 401.8L227.0 401.9L225.0 402.1L223.0 402.2L221.0 402.3L219.0 402.5L217.0 402.6L215.0 402.7L213.0 402.8L211.0 403.0L209.0 403.1L207.0 403.2L205.0 403.3L203.0 403.4L201.0 403.5L199.0 403.7L197.0 403.8L195.0 403.9L193.0 404.0L191.0 404.1L189.0 404.2L187.0 404.3L185.0 404.4L183.0 404.5L181.0 404.6L179.0 404.7L177.0 404.8L175.0 404.9L173.0 405.0L171.0 405.1L169.0 405.2L167.0 405.3L165.0 405.4L163.0 405.5L161.0 405.6L159.0 405.6L157.0 405.7L155.0 405.7L153.0 405.8L151.0 405.8L149.0 405.9L147.0 405.9L145.0 406.0L143.0 406.0L141.0 406.0L139.0 406.0L137.0 406.0L135.0 406.0L133.0 405.9L131.0 405.9L129.0 405.9L127.0 405.8L125.0 405.7L123.0 405.7L121.0 405.6L119.0 405.6L117.0 405.5L115.0 405.4L113.0 405.3L111.0 405.1L109.0 405.0L107.0 404.8L105.0 404.7L103.0 404.6L101.0 404.5L99.0 404.3L97.0 404.2L95.0 404.1L93.0 404.0L91.0 404.0L89.0 403.9L87.0 403.8L85.0 403.7L83.0 403.6Z"/>
<path fill="#00dc82" d="M83.0 203.0L85.0 202.9L87.0 202.8L89.0 202.7L91.0 202.6L93.0 202.5L95.0 202.3L97.0 202.2L99.0 202.1L101.0 201.9L103.0 201.8L105.0 201.6L107.0 201.4L109.0 201.3L111.0 201.1L113.0 200.9L115.0 200.7L117.0 200.6L119.0 200.5L121.0 200.3L123.0 200.2L124.9 200.1L126.9 200.0L128.9 199.9L130.9 199.8L132.9 199.7L134.9 199.7L136.9 199.6L138.9 199.6L140.9 199.6L142.9 199.6L144.9 199.6L146.9 199.7L148.9 199.7L150.9 199.7L152.9 199.8L154.9 199.8L156.9 199.9L158.9 200.0L160.9 200.0L162.9 200.1L164.9 200.2L166.9 200.4L168.9 200.6L170.9 200.8L172.9 201.0L174.9 201.3L176.9 201.5L178.9 201.8L180.9 202.2L182.9 202.7L184.9 203.4L186.9 204.2L188.9 204.9L190.9 205.7L192.9 206.2L194.9 206.8L196.9 207.2L198.9 207.7L200.9 208.2L202.9 208.8L204.9 209.3L206.8 209.8L208.8 210.2L210.8 210.5L212.8 210.7L214.8 210.9L216.8 211.1L218.8 211.2L220.8 211.2L222.8 211.2L224.8 211.1L226.8 211.0L228.8 210.9L230.8 210.7L232.8 210.6L234.8 210.4L236.8 210.3L238.8 210.1L240.8 209.9L242.8 209.8L244.8 209.6L246.8 209.4L248.8 209.1L250.8 208.9L252.8 208.7L254.8 208.4L256.8 208.1L258.8 207.8L260.8 207.4L262.8 207.0L264.8 206.5L266.8 205.9L268.8 205.3L270.8 204.8L272.8 204.2L274.8 203.6L276.8 203.0L278.8 202.4L280.8 201.8L282.8 201.3L284.8 200.7L286.8 200.2L288.7 199.7L290.7 199.2L292.7 198.7L294.7 198.2L296.7 197.7L298.7 197.3L300.7 196.8L302.7 196.4L304.7 196.0L306.7 195.6L308.7 195.2L310.7 194.9L312.7 194.6L314.7 194.3L316.7 194.0L318.7 193.8L320.7 193.5L322.7 193.2L324.7 193.0L326.7 192.7L328.7 192.5L330.7 192.4L332.7 192.2L334.7 192.1L336.7 192.1L338.7 192.0L340.7 192.0L342.7 192.0L344.7 192.0L346.7 192.0L348.7 192.0L350.7 192.0L352.7 192.1L354.7 192.2L356.7 192.3L358.7 192.5L360.7 192.7L362.7 192.8L364.7 193.0L366.7 193.2L368.6 193.4L370.6 193.7L372.6 193.9L374.6 194.2L376.6 194.5L378.6 194.8L380.6 195.1L382.6 195.5L384.6 195.9L386.6 196.3L388.6 196.7L390.6 197.1L392.6 197.5L394.6 197.8L396.6 198.2L398.6 198.6L400.6 199.2L402.6 200.2L404.6 201.5L406.6 203.0L408.6 204.5L410.6 206.2L412.6 208.1L414.6 209.9L416.6 211.4L418.6 212.8L420.6 214.0L422.6 215.2L424.6 216.3L426.6 217.4L428.6 218.3L430.6 219.3L432.6 220.1L434.6 221.0L436.6 221.7L438.6 222.5L440.6 223.2L442.6 223.9L444.6 224.5L446.6 225.1L448.6 225.6L450.5 226.1L452.5 226.6L454.5 227.0L456.5 227.4L458.5 227.7L460.5 228.1L462.5 228.5L464.5 228.9L466.5 229.2L468.5 229.5L470.5 229.6L472.5 229.8L474.5 229.9L476.5 229.9L478.5 230.0L480.5 230.0L482.5 229.9L484.5 229.7L486.5 229.5L488.5 229.2L490.5 228.9L492.5 228.5L494.5 228.0L496.5 227.5L498.5 227.1L500.5 227.0L502.5 227.1L504.5 227.2L506.5 227.3L508.5 227.4L510.5 227.6L512.5 227.8L514.5 228.0L516.5 228.0L518.5 227.7L520.5 227.3L522.5 226.8L524.5 226.3L526.5 225.9L528.5 225.4L530.5 225.0L532.4 224.5L534.4 224.2L536.4 224.0L538.4 223.7L540.4 223.5L542.4 223.4L544.4 223.2L546.4 223.1L548.4 223.0L550.4 223.0L552.4 223.1L554.4 223.3L556.4 223.5L558.4 223.8L560.4 224.1L562.4 224.4L564.4 224.8L566.4 225.2L568.4 225.7L570.4 226.4L572.4 227.2L572.4 227.6L570.4 228.1L568.4 228.6L566.4 229.0L564.4 229.2L562.4 229.3L560.4 229.5L558.4 229.6L556.4 229.6L554.4 229.6L552.4 229.6L550.4 229.6L548.4 229.6L546.4 229.6L544.4 229.6L542.4 229.6L540.4 229.6L538.4 229.6L536.4 229.5L534.4 229.4L532.4 229.3L530.5 229.1L528.5 229.0L526.5 228.9L524.5 228.8L522.5 228.7L520.5 228.6L518.5 229.0L516.5 230.3L514.5 231.4L512.5 232.0L510.5 232.3L508.5 232.6L506.5 232.7L504.5 232.9L502.5 233.0L500.5 233.0L498.5 233.0L496.5 233.0L494.5 233.0L492.5 233.0L490.5 233.0L488.5 233.1L486.5 233.5L484.5 234.0L482.5 234.6L480.5 234.9L478.5 235.1L476.5 235.2L474.5 235.3L472.5 235.4L470.5 235.6L468.5 235.9L466.5 236.5L464.5 237.2L462.5 237.8L460.5 238.2L458.5 238.2L456.5 238.0L454.5 237.9L452.5 237.7L450.5 237.6L448.6 237.6L446.6 237.7L444.6 237.9L442.6 238.1L440.6 238.3L438.6 238.5L436.6 238.8L434.6 239.0L432.6 239.3L430.6 239.5L428.6 239.8L426.6 240.1L424.6 240.4L422.6 240.7L420.6 240.9L418.6 241.2L416.6 241.4L414.6 241.7L412.6 241.9L410.6 242.0L408.6 242.0L406.6 242.0L404.6 242.0L402.6 242.0L400.6 242.0L398.6 242.0L396.6 241.9L394.6 241.8L392.6 241.7L390.6 241.6L388.6 241.6L386.6 241.9L384.6 242.2L382.6 242.6L380.6 242.9L378.6 243.2L376.6 243.5L374.6 243.8L372.6 244.1L370.6 244.3L368.6 244.5L366.7 244.7L364.7 244.8L362.7 244.9L360.7 245.0L358.7 245.0L356.7 245.0L354.7 245.0L352.7 245.0L350.7 245.0L348.7 245.0L346.7 244.9L344.7 244.8L342.7 244.6L340.7 244.5L338.7 244.3L336.7 244.1L334.7 243.8L332.7 243.5L330.7 243.1L328.7 242.7L326.7 242.2L324.7 241.6L322.7 241.0L320.7 240.5L318.7 240.2L316.7 239.9L314.7 239.7L312.7 239.4L310.7 239.2L308.7 239.0L306.7 238.9L304.7 238.7L302.7 238.6L300.7 238.4L298.7 238.3L296.7 238.2L294.7 238.1L292.7 238.1L290.7 238.0L288.7 237.9L286.8 237.9L284.8 237.8L282.8 237.7L280.8 237.6L278.8 237.5L276.8 237.4L274.8 237.2L272.8 237.1L270.8 237.0L268.8 237.0L266.8 237.1L264.8 237.2L262.8 237.4L260.8 237.5L258.8 237.7L256.8 237.9L254.8 238.2L252.8 238.4L250.8 238.6L248.8 238.6L246.8 238.7L244.8 238.7L242.8 238.7L240.8 238.8L238.8 238.9L236.8 239.1L234.8 239.3L232.8 239.7L230.8 240.2L228.8 240.7L226.8 241.2L224.8 241.7L222.8 242.3L220.8 242.8L218.8 243.3L216.8 243.8L214.8 244.4L212.8 245.1L210.8 245.7L208.8 246.3L206.8 247.0L204.9 247.6L202.9 248.2L200.9 248.8L198.9 249.3L196.9 249.8L194.9 250.3L192.9 250.8L190.9 251.3L188.9 251.8L186.9 252.3L184.9 252.7L182.9 253.1L180.9 253.5L178.9 253.8L176.9 254.1L174.9 254.4L172.9 254.8L170.9 255.1L168.9 255.3L166.9 255.6L164.9 255.8L162.9 255.9L160.9 256.0L158.9 256.0L156.9 256.0L154.9 256.0L152.9 256.0L150.9 256.0L148.9 256.0L146.9 256.0L144.9 256.0L142.9 256.0L140.9 256.0L138.9 256.0L136.9 255.9L134.9 255.8L132.9 255.6L130.9 255.3L128.9 255.0L126.9 254.7L124.9 254.4L123.0 254.1L121.0 253.8L119.0 253.4L117.0 253.1L115.0 252.6L113.0 252.2L111.0 251.7L109.0 251.2L107.0 250.7L105.0 250.2L103.0 249.7L101.0 249.2L99.0 248.8L97.0 248.3L95.0 247.8L93.0 247.4L91.0 246.9L89.0 246.4L87.0 245.9L85.0 245.5L83.0 245.0Z"/>
<path fill="#00dc82" d="M677.0 223.2L679.0 222.6L681.0 221.9L683.0 221.1L685.0 220.3L687.0 219.5L689.0 218.8L691.0 218.1L693.0 217.4L695.0 216.7L697.0 216.0L699.0 215.2L701.0 214.4L703.0 213.6L705.0 212.9L707.0 212.2L709.0 211.5L711.0 210.8L713.0 210.2L715.0 209.5L717.0 208.8L719.0 208.1L721.0 207.5L723.0 206.9L725.0 206.3L727.0 205.8L729.0 205.3L731.0 204.8L733.0 204.2L735.0 203.7L737.0 203.2L739.0 202.8L741.0 202.5L741.0 241.5L739.0 241.0L737.0 240.5L735.0 239.9L733.0 239.3L731.0 238.7L729.0 237.9L727.0 237.2L725.0 236.4L723.0 235.6L721.0 234.8L719.0 234.2L717.0 233.5L715.0 232.8L713.0 232.1L711.0 231.5L709.0 231.0L707.0 230.5L705.0 230.0L703.0 229.7L701.0 229.4L699.0 229.2L697.0 229.0L695.0 228.8L693.0 228.6L691.0 228.4L689.0 228.3L687.0 228.2L685.0 228.1L683.0 227.9L681.0 227.4L679.0 226.3L677.0 224.0Z"/>
<path fill="#00dc82" d="M83.0 361.0L85.0 360.9L87.0 360.8L89.0 360.7L91.0 360.6L93.0 360.5L95.0 360.4L97.0 360.2L99.0 360.1L101.0 359.9L103.0 359.7L105.0 359.5L107.0 359.3L109.0 359.0L111.0 358.7L113.0 358.5L115.0 358.2L117.0 358.0L119.0 357.7L121.0 357.5L123.0 357.3L125.0 357.1L127.0 356.8L129.0 356.6L131.0 356.4L133.0 356.2L135.0 356.0L137.0 355.8L139.0 355.7L141.0 355.5L143.0 355.4L145.0 355.2L147.0 355.0L149.0 354.9L151.0 354.7L153.0 354.6L155.0 354.5L157.0 354.4L159.0 354.4L161.0 354.4L163.0 354.4L165.0 354.5L167.0 354.5L169.0 354.6L171.0 354.6L173.0 354.7L175.0 354.8L177.0 354.9L179.0 355.0L181.0 355.1L183.0 355.2L185.0 355.3L187.0 355.5L189.0 355.8L191.0 356.0L193.0 356.2L195.0 356.4L197.0 356.7L199.0 356.9L201.0 357.1L203.0 357.3L205.0 357.5L207.0 357.7L209.0 357.9L211.0 358.1L213.0 358.3L215.0 358.5L217.0 358.7L219.0 358.9L221.0 359.1L223.0 359.3L225.0 359.5L227.0 359.7L229.0 360.0L231.0 360.2L233.0 360.4L235.0 360.6L237.0 360.8L239.0 360.9L241.0 361.1L243.0 361.2L245.0 361.3L247.0 361.4L249.0 361.5L251.0 361.7L253.0 361.9L255.0 362.2L257.0 362.5L259.0 362.9L261.0 363.1L263.0 363.4L265.0 363.7L267.0 364.0L269.0 364.3L271.0 364.6L273.0 364.9L275.0 365.2L277.0 365.6L279.0 365.9L281.0 366.1L283.0 366.4L285.0 366.7L287.0 366.9L289.0 367.0L291.0 367.0L293.0 367.0L295.0 367.0L297.0 367.0L299.0 367.0L301.0 367.0L303.0 366.8L305.0 366.6L307.0 366.4L309.0 366.1L311.0 365.9L313.0 365.7L315.0 365.5L317.0 365.3L319.0 365.1L321.0 364.9L323.0 364.7L325.0 364.4L327.0 364.2L329.0 364.1L331.0 363.9L333.0 363.9L335.0 363.8L337.0 363.7L339.0 363.6L341.0 363.5L343.0 363.4L345.0 363.3L347.0 363.2L349.0 363.1L351.0 362.9L353.0 362.8L355.0 362.7L357.0 362.6L359.0 362.5L361.0 362.3L363.0 362.2L365.0 362.0L367.0 361.8L369.0 361.7L371.0 361.5L373.0 361.4L375.0 361.3L377.0 361.2L379.0 361.1L381.0 360.9L383.0 360.7L385.0 360.5L387.0 360.3L389.0 360.1L391.0 359.9L393.0 359.9L395.0 359.8L397.0 359.7L399.0 359.6L401.0 359.5L403.0 359.4L405.0 359.3L407.0 359.2L409.0 359.1L411.0 358.9L413.0 358.8L415.0 358.7L417.0 358.6L419.0 358.5L421.0 358.3L423.0 358.2L425.0 358.0L427.0 357.8L429.0 357.7L431.0 357.5L433.0 357.4L435.0 357.3L437.0 357.2L439.0 357.0L441.0 357.0L443.0 356.9L445.0 356.8L447.0 356.7L449.0 356.6L451.0 356.6L453.0 356.5L455.0 356.5L457.0 356.4L459.0 356.4L461.0 356.4L463.0 356.4L465.0 356.4L467.0 356.4L469.0 356.4L471.0 356.4L473.0 356.4L475.0 356.5L477.0 356.5L479.0 356.6L481.0 356.6L483.0 356.7L485.0 356.8L487.0 356.9L489.0 357.0L491.0 357.0L493.0 357.2L495.0 357.3L497.0 357.4L499.0 357.5L501.0 357.7L503.0 357.9L505.0 358.0L507.0 358.2L509.0 358.4L511.0 358.4L513.0 358.5L515.0 358.5L517.0 358.6L519.0 358.6L521.0 358.6L523.0 358.6L525.0 358.5L527.0 358.5L529.0 358.4L531.0 358.3L533.0 358.1L535.0 357.8L537.0 357.5L539.0 357.1L541.0 356.9L543.0 356.6L545.0 356.3L547.0 356.0L549.0 355.7L551.0 355.5L553.0 355.2L555.0 354.9L557.0 354.7L559.0 354.5L561.0 354.3L563.0 354.2L565.0 354.1L567.0 354.0L569.0 354.0L571.0 354.0L573.0 354.1L575.0 354.1L577.0 354.2L579.0 354.3L581.0 354.4L583.0 354.6L585.0 354.7L587.0 354.8L589.0 354.9L591.0 355.1L593.0 355.3L595.0 355.4L597.0 355.7L599.0 355.9L601.0 356.1L603.0 356.4L605.0 356.7L607.0 357.0L609.0 357.3L611.0 357.5L613.0 357.8L615.0 358.0L617.0 358.3L619.0 358.5L621.0 358.7L623.0 358.9L625.0 359.2L627.0 359.4L629.0 359.5L631.0 359.7L633.0 359.8L635.0 359.9L637.0 359.9L639.0 360.0L641.0 360.0L643.0 360.0L645.0 359.9L647.0 359.8L649.0 359.7L651.0 359.7L653.0 359.6L655.0 359.5L657.0 359.5L659.0 359.4L661.0 359.4L663.0 359.3L665.0 359.3L667.0 359.2L669.0 359.2L671.0 359.2L673.0 359.2L675.0 359.3L677.0 359.3L679.0 359.4L681.0 359.4L683.0 359.5L685.0 359.5L687.0 359.6L689.0 359.7L691.0 359.7L693.0 359.8L695.0 359.9L697.0 360.0L699.0 360.1L701.0 360.1L703.0 360.2L705.0 360.3L707.0 360.4L709.0 360.5L711.0 360.5L713.0 360.6L715.0 360.7L717.0 360.7L719.0 360.8L721.0 360.8L723.0 360.9L725.0 360.9L727.0 361.0L729.0 361.0L731.0 361.0L733.0 360.9L735.0 360.8L737.0 360.6L739.0 360.4L741.0 360.1L741.0 395.0L739.0 394.9L737.0 394.8L735.0 394.7L733.0 394.6L731.0 394.4L729.0 394.3L727.0 394.2L725.0 394.1L723.0 394.0L721.0 393.9L719.0 393.7L717.0 393.6L715.0 393.5L713.0 393.3L711.0 393.2L709.0 393.0L707.0 392.9L705.0 392.8L703.0 392.6L701.0 392.5L699.0 392.3L697.0 392.2L695.0 392.0L693.0 391.9L691.0 391.7L689.0 391.6L687.0 391.5L685.0 391.3L683.0 391.2L681.0 391.1L679.0 390.9L677.0 390.8L675.0 390.7L673.0 390.5L671.0 390.4L669.0 390.3L667.0 390.2L665.0 390.1L663.0 390.0L661.0 390.0L659.0 390.0L657.0 390.0L655.0 390.0L653.0 390.0L651.0 390.0L649.0 390.0L647.0 390.0L645.0 390.0L643.0 390.0L641.0 390.0L639.0 390.0L637.0 390.0L635.0 390.1L633.0 390.2L631.0 390.3L629.0 390.4L627.0 390.5L625.0 390.7L623.0 390.8L621.0 390.9L619.0 391.1L617.0 391.2L615.0 391.3L613.0 391.5L611.0 391.6L609.0 391.8L607.0 391.9L605.0 392.1L603.0 392.2L601.0 392.3L599.0 392.5L597.0 392.5L595.0 392.6L593.0 392.7L591.0 392.8L589.0 392.9L587.0 393.0L585.0 393.0L583.0 393.1L581.0 393.2L579.0 393.2L577.0 393.3L575.0 393.3L573.0 393.4L571.0 393.4L569.0 393.5L567.0 393.5L565.0 393.6L563.0 393.6L561.0 393.6L559.0 393.6L557.0 393.6L555.0 393.5L553.0 393.5L551.0 393.4L549.0 393.3L547.0 393.3L545.0 393.2L543.0 393.1L541.0 393.0L539.0 393.0L537.0 392.9L535.0 392.9L533.0 392.8L531.0 392.7L529.0 392.7L527.0 392.6L525.0 392.6L523.0 392.5L521.0 392.4L519.0 392.4L517.0 392.3L515.0 392.2L513.0 392.1L511.0 392.0L509.0 391.9L507.0 391.8L505.0 391.8L503.0 391.7L501.0 391.6L499.0 391.6L497.0 391.5L495.0 391.5L493.0 391.4L491.0 391.4L489.0 391.3L487.0 391.3L485.0 391.2L483.0 391.2L481.0 391.2L479.0 391.2L477.0 391.2L475.0 391.2L473.0 391.3L471.0 391.3L469.0 391.4L467.0 391.4L465.0 391.5L463.0 391.5L461.0 391.6L459.0 391.6L457.0 391.7L455.0 391.8L453.0 391.8L451.0 391.9L449.0 392.0L447.0 392.1L445.0 392.2L443.0 392.3L441.0 392.4L439.0 392.4L437.0 392.5L435.0 392.6L433.0 392.6L431.0 392.7L429.0 392.7L427.0 392.8L425.0 392.9L423.0 392.9L421.0 393.0L419.0 393.0L417.0 393.1L415.0 393.2L413.0 393.3L411.0 393.3L409.0 393.4L407.0 393.5L405.0 393.5L403.0 393.6L401.0 393.6L399.0 393.6L397.0 393.6L395.0 393.5L393.0 393.5L391.0 393.4L389.0 393.3L387.0 393.3L385.0 393.2L383.0 393.1L381.0 393.0L379.0 393.0L377.0 392.9L375.0 392.9L373.0 392.8L371.0 392.7L369.0 392.7L367.0 392.6L365.0 392.6L363.0 392.5L361.0 392.4L359.0 392.4L357.0 392.3L355.0 392.2L353.0 392.1L351.0 392.0L349.0 392.0L347.0 391.9L345.0 391.8L343.0 391.7L341.0 391.6L339.0 391.6L337.0 391.5L335.0 391.4L333.0 391.3L331.0 391.3L329.0 391.2L327.0 391.1L325.0 391.1L323.0 391.0L321.0 391.0L319.0 391.0L317.0 391.0L315.0 391.0L313.0 391.0L311.0 391.0L309.0 391.0L307.0 391.0L305.0 391.0L303.0 391.0L301.0 391.0L299.0 391.0L297.0 391.0L295.0 391.0L293.0 391.0L291.0 391.0L289.0 391.0L287.0 391.0L285.0 391.0L283.0 391.0L281.0 391.0L279.0 391.0L277.0 391.0L275.0 391.1L273.0 391.1L271.0 391.2L269.0 391.3L267.0 391.3L265.0 391.4L263.0 391.5L261.0 391.6L259.0 391.6L257.0 391.7L255.0 391.8L253.0 391.9L251.0 391.9L249.0 392.0L247.0 392.1L245.0 392.2L243.0 392.3L241.0 392.4L239.0 392.4L237.0 392.6L235.0 392.7L233.0 392.8L231.0 392.9L229.0 393.0L227.0 393.1L225.0 393.3L223.0 393.4L221.0 393.5L219.0 393.7L217.0 393.8L215.0 393.9L213.0 394.1L211.0 394.2L209.0 394.4L207.0 394.5L205.0 394.6L203.0 394.8L201.0 394.9L199.0 395.1L197.0 395.2L195.0 395.4L193.0 395.5L191.0 395.6L189.0 395.8L187.0 395.9L185.0 396.1L183.0 396.2L181.0 396.3L179.0 396.5L177.0 396.6L175.0 396.7L173.0 396.9L171.0 397.0L169.0 397.2L167.0 397.3L165.0 397.4L163.0 397.5L161.0 397.6L159.0 397.6L157.0 397.7L155.0 397.7L153.0 397.8L151.0 397.9L149.0 397.9L147.0 397.9L145.0 398.0L143.0 398.0L141.0 398.0L139.0 398.0L137.0 398.0L135.0 397.9L133.0 397.8L131.0 397.7L129.0 397.6L127.0 397.5L125.0 397.3L123.0 397.2L121.0 397.1L119.0 396.9L117.0 396.8L115.0 396.6L113.0 396.4L111.0 396.2L109.0 395.9L107.0 395.7L105.0 395.5L103.0 395.3L101.0 395.1L99.0 394.9L97.0 394.7L95.0 394.6L93.0 394.4L91.0 394.2L89.0 394.1L87.0 393.9L85.0 393.8L83.0 393.6Z"/>
<path fill="#a0dc00" d="M83.0 210.0L85.0 209.8L87.0 209.6L89.0 209.4L91.0 209.2L93.0 209.0L95.0 208.8L97.0 208.6L98.9 208.5L100.9 208.3L102.9 208.2L104.9 208.0L106.9 207.9L108.9 207.7L110.9 207.6L112.9 207.4L114.9 207.3L116.9 207.2L118.9 207.2L120.9 207.2L122.9 207.2L124.9 207.2L126.9 207.2L128.8 207.2L130.8 207.2L132.8 207.2L134.8 207.2L136.8 207.2L138.8 207.2L140.8 207.2L142.8 207.2L144.8 207.3L146.8 207.3L148.8 207.4L150.8 207.5L152.8 207.6L154.8 207.7L156.8 207.8L158.8 207.9L160.7 208.0L162.7 208.2L164.7 208.4L166.7 208.6L168.7 208.8L170.7 209.1L172.7 209.5L174.7 210.0L176.7 210.6L178.7 211.2L180.7 211.8L182.7 212.6L184.7 213.5L186.7 214.5L188.7 215.4L190.6 216.3L192.6 217.1L194.6 217.9L196.6 218.7L198.6 219.5L200.6 220.2L202.6 220.9L204.6 221.6L206.6 222.2L208.6 222.7L210.6 223.1L212.6 223.5L214.6 223.9L216.6 224.2L218.6 224.4L220.5 224.4L222.5 224.4L224.5 224.3L226.5 224.2L228.5 224.1L230.5 224.0L232.5 223.5L234.5 222.9L236.5 222.1L238.5 221.4L240.5 220.9L242.5 220.4L244.5 220.0L246.5 219.6L248.5 219.3L250.4 218.9L252.4 218.6L254.4 218.3L256.4 218.0L258.4 217.8L260.4 217.6L262.4 217.4L264.4 217.2L266.4 216.9L268.4 216.4L270.4 215.7L272.4 214.8L274.4 213.9L276.4 212.9L278.4 211.8L280.3 210.8L282.3 210.0L284.3 209.1L286.3 208.3L288.3 207.6L290.3 206.9L292.3 206.2L294.3 205.6L296.3 205.0L298.3 204.4L300.3 203.9L302.3 203.4L304.3 203.0L306.3 202.6L308.3 202.2L310.2 202.0L312.2 201.8L314.2 201.6L316.2 201.5L318.2 201.4L320.2 201.4L322.2 201.4L324.2 201.4L326.2 201.4L328.2 201.4L330.2 201.4L332.2 201.4L334.2 201.6L336.2 201.7L338.2 201.9L340.2 202.0L342.1 202.2L344.1 202.3L346.1 202.5L348.1 202.8L350.1 203.0L352.1 203.3L354.1 203.7L356.1 204.2L358.1 204.6L360.1 205.0L362.1 205.4L364.1 205.8L366.1 206.1L368.1 206.5L370.1 207.0L372.0 207.5L374.0 208.1L376.0 208.7L378.0 209.5L380.0 210.4L382.0 212.5L384.0 215.1L386.0 216.0L386.0 218.0L384.0 221.5L382.0 224.0L380.0 225.4L378.0 226.6L376.0 227.6L374.0 228.5L372.0 229.2L370.1 229.8L368.1 230.4L366.1 230.9L364.1 231.3L362.1 231.7L360.1 232.0L358.1 232.2L356.1 232.5L354.1 232.7L352.1 232.8L350.1 233.0L348.1 233.1L346.1 233.3L344.1 233.4L342.1 233.4L340.2 233.3L338.2 233.2L336.2 233.0L334.2 232.8L332.2 232.6L330.2 232.4L328.2 232.3L326.2 232.2L324.2 232.2L322.2 232.1L320.2 232.0L318.2 231.9L316.2 231.7L314.2 231.4L312.2 231.2L310.2 231.0L308.3 230.9L306.3 230.8L304.3 230.6L302.3 230.5L300.3 230.4L298.3 230.3L296.3 230.2L294.3 230.0L292.3 229.8L290.3 229.6L288.3 229.2L286.3 228.9L284.3 228.6L282.3 228.3L280.3 228.0L278.4 227.8L276.4 227.6L274.4 227.4L272.4 227.2L270.4 227.1L268.4 227.0L266.4 227.2L264.4 227.7L262.4 228.4L260.4 228.9L258.4 229.3L256.4 229.6L254.4 229.9L252.4 230.2L250.4 230.4L248.5 230.5L246.5 230.7L244.5 230.8L242.5 230.9L240.5 231.0L238.5 231.0L236.5 230.8L234.5 230.7L232.5 230.4L230.5 230.2L228.5 230.1L226.5 230.0L224.5 230.3L222.5 231.5L220.5 232.8L218.6 233.6L216.6 234.3L214.6 234.9L212.6 235.5L210.6 236.1L208.6 236.7L206.6 237.2L204.6 237.8L202.6 238.3L200.6 238.8L198.6 239.4L196.6 239.9L194.6 240.5L192.6 241.0L190.6 241.5L188.7 242.1L186.7 242.6L184.7 243.0L182.7 243.5L180.7 243.9L178.7 244.2L176.7 244.6L174.7 245.0L172.7 245.4L170.7 245.7L168.7 246.1L166.7 246.3L164.7 246.6L162.7 246.8L160.7 247.0L158.8 247.1L156.8 247.2L154.8 247.2L152.8 247.3L150.8 247.4L148.8 247.5L146.8 247.5L144.8 247.6L142.8 247.6L140.8 247.6L138.8 247.6L136.8 247.5L134.8 247.3L132.8 247.1L130.8 246.8L128.8 246.5L126.9 246.2L124.9 245.8L122.9 245.5L120.9 245.1L118.9 244.8L116.9 244.5L114.9 244.1L112.9 243.7L110.9 243.3L108.9 242.9L106.9 242.5L104.9 242.1L102.9 241.6L100.9 241.2L98.9 240.8L97.0 240.3L95.0 239.9L93.0 239.4L91.0 238.9L89.0 238.5L87.0 238.0L85.0 237.5L83.0 237.0Z"/>
<path fill="#a0dc00" d="M718.5 222.8L720.5 221.1L722.6 219.6L724.6 218.3L726.7 217.2L728.7 216.2L730.8 215.3L732.8 214.5L734.9 213.7L736.9 213.0L739.0 212.5L741.0 212.2L741.0 235.0L739.0 234.3L736.9 233.5L734.9 232.5L732.8 231.6L730.8 230.7L728.7 229.8L726.7 228.8L724.6 227.8L722.6 226.6L720.5 225.2L718.5 223.5Z"/>
<path fill="#a0dc00" d="M86.0 379.0L88.0 378.3L90.0 377.6L92.0 376.9L94.0 376.2L95.9 375.6L97.9 375.0L99.9 374.4L101.9 373.9L103.9 373.3L105.9 372.8L107.9 372.3L109.9 371.8L111.9 371.3L113.9 370.8L115.8 370.4L117.8 370.0L119.8 369.6L121.8 369.3L123.8 369.0L125.8 368.7L127.8 368.4L129.8 368.1L131.8 367.8L133.7 367.6L135.7 367.4L137.7 367.2L139.7 367.0L141.7 366.9L143.7 366.7L145.7 366.6L147.7 366.5L149.7 366.3L151.6 366.2L153.6 366.1L155.6 366.1L157.6 366.0L159.6 366.0L161.6 366.0L163.6 366.0L165.6 366.0L167.6 366.0L169.6 366.0L171.5 366.0L173.5 366.0L175.5 366.0L177.5 366.0L179.5 366.0L181.5 366.0L183.5 366.1L185.5 366.1L187.5 366.2L189.4 366.3L191.4 366.4L193.4 366.6L195.4 366.7L197.4 366.8L199.4 367.0L201.4 367.1L203.4 367.2L205.4 367.3L207.4 367.4L209.3 367.6L211.3 367.7L213.3 367.9L215.3 368.0L217.3 368.2L219.3 368.3L221.3 368.5L223.3 368.7L225.3 368.9L227.2 369.2L229.2 369.4L231.2 369.7L233.2 370.0L235.2 370.3L237.2 370.6L239.2 370.9L241.2 371.2L243.2 371.6L245.1 371.9L247.1 372.4L249.1 372.8L251.1 373.3L253.1 373.8L255.1 374.3L257.1 374.8L259.1 375.4L261.1 375.9L263.1 376.4L265.0 376.9L267.0 377.4L269.0 377.8L271.0 378.3L273.0 378.8L273.0 379.4L271.0 379.9L269.0 380.4L267.0 380.9L265.0 381.4L263.1 381.8L261.1 382.2L259.1 382.6L257.1 383.0L255.1 383.3L253.1 383.6L251.1 383.9L249.1 384.1L247.1 384.2L245.1 384.3L243.2 384.4L241.2 384.5L239.2 384.7L237.2 384.8L235.2 384.9L233.2 385.1L231.2 385.2L229.2 385.3L227.2 385.5L225.3 385.6L223.3 385.8L221.3 385.9L219.3 386.1L217.3 386.2L215.3 386.4L213.3 386.5L211.3 386.7L209.3 386.9L207.4 387.0L205.4 387.2L203.4 387.3L201.4 387.5L199.4 387.6L197.4 387.8L195.4 387.9L193.4 388.1L191.4 388.2L189.4 388.4L187.5 388.5L185.5 388.7L183.5 388.8L181.5 388.9L179.5 389.0L177.5 389.2L175.5 389.3L173.5 389.4L171.5 389.5L169.6 389.7L167.6 389.8L165.6 389.9L163.6 389.9L161.6 390.0L159.6 390.0L157.6 390.0L155.6 390.0L153.6 389.9L151.6 389.9L149.7 389.9L147.7 389.8L145.7 389.8L143.7 389.7L141.7 389.7L139.7 389.6L137.7 389.5L135.7 389.4L133.7 389.3L131.8 389.1L129.8 389.0L127.8 388.8L125.8 388.6L123.8 388.4L121.8 388.2L119.8 388.0L117.8 387.7L115.8 387.4L113.9 387.1L111.9 386.7L109.9 386.3L107.9 385.9L105.9 385.4L103.9 385.0L101.9 384.5L99.9 384.0L97.9 383.5L95.9 382.9L94.0 382.3L92.0 381.7L90.0 381.0L88.0 380.3L86.0 379.6Z"/>
<path fill="#a0dc00" d="M362.0 378.8L364.0 377.7L366.0 376.7L368.0 375.8L370.0 375.0L372.0 374.3L374.0 373.7L376.0 373.1L377.9 372.5L379.9 372.0L381.9 371.5L383.9 371.1L385.9 370.7L387.9 370.3L389.9 370.0L391.9 369.8L393.9 369.5L395.9 369.3L397.9 369.1L399.9 369.0L401.9 368.9L403.9 368.8L405.9 368.7L407.8 368.7L409.8 368.6L411.8 368.6L413.8 368.5L415.8 368.5L417.8 368.4L419.8 368.4L421.8 368.4L423.8 368.3L425.8 368.3L427.8 368.2L429.8 368.2L431.8 368.2L433.8 368.2L435.8 368.2L437.8 368.2L439.7 368.2L441.7 368.2L443.7 368.2L445.7 368.3L447.7 368.3L449.7 368.4L451.7 368.4L453.7 368.5L455.7 368.5L457.7 368.6L459.7 368.6L461.7 368.6L463.7 368.7L465.7 368.7L467.7 368.8L469.6 368.8L471.6 368.8L473.6 368.9L475.6 368.9L477.6 368.9L479.6 369.0L481.6 369.0L483.6 369.1L485.6 369.2L487.6 369.3L489.6 369.4L491.6 369.5L493.6 369.6L495.6 369.7L497.6 369.8L499.5 370.0L501.5 370.1L503.5 370.3L505.5 370.4L507.5 370.5L509.5 370.6L511.5 370.6L513.5 370.6L515.5 370.6L517.5 370.6L519.5 370.6L521.5 370.6L523.5 370.5L525.5 370.4L527.5 370.2L529.4 370.0L531.4 369.9L533.4 369.6L535.4 369.3L537.4 369.0L539.4 368.7L541.4 368.4L543.4 368.1L545.4 367.7L547.4 367.4L549.4 367.1L551.4 366.8L553.4 366.5L555.4 366.1L557.4 365.9L559.3 365.6L561.3 365.5L563.3 365.4L565.3 365.3L567.3 365.2L569.3 365.2L571.3 365.2L573.3 365.2L575.3 365.2L577.3 365.2L579.3 365.2L581.3 365.2L583.3 365.2L585.3 365.3L587.3 365.3L589.2 365.4L591.2 365.4L593.2 365.5L595.2 365.5L597.2 365.5L599.2 365.6L601.2 365.6L603.2 365.7L605.2 365.8L607.2 365.9L609.2 366.0L611.2 366.1L613.2 366.2L615.2 366.4L617.2 366.7L619.2 366.9L621.1 367.1L623.1 367.4L625.1 367.7L627.1 367.9L629.1 368.3L631.1 368.6L633.1 369.0L635.1 369.4L637.1 369.8L639.1 370.2L641.1 370.6L643.1 371.1L645.1 371.5L647.1 371.9L649.1 372.4L651.0 372.8L653.0 373.3L655.0 373.7L657.0 374.2L659.0 374.7L661.0 375.3L663.0 376.0L665.0 376.8L665.0 377.8L663.0 378.5L661.0 379.1L659.0 379.6L657.0 380.0L655.0 380.3L653.0 380.6L651.0 380.8L649.1 381.1L647.1 381.4L645.1 381.7L643.1 382.0L641.1 382.3L639.1 382.5L637.1 382.8L635.1 383.0L633.1 383.3L631.1 383.5L629.1 383.7L627.1 383.9L625.1 384.0L623.1 384.2L621.1 384.3L619.2 384.5L617.2 384.6L615.2 384.8L613.2 385.0L611.2 385.1L609.2 385.3L607.2 385.4L605.2 385.5L603.2 385.6L601.2 385.7L599.2 385.8L597.2 386.0L595.2 386.1L593.2 386.2L591.2 386.3L589.2 386.4L587.3 386.5L585.3 386.6L583.3 386.7L581.3 386.8L579.3 386.8L577.3 386.8L575.3 386.8L573.3 386.8L571.3 386.8L569.3 386.8L567.3 386.8L565.3 386.8L563.3 386.8L561.3 386.8L559.3 386.8L557.4 386.8L555.4 386.8L553.4 386.8L551.4 386.7L549.4 386.7L547.4 386.7L545.4 386.7L543.4 386.6L541.4 386.6L539.4 386.6L537.4 386.6L535.4 386.6L533.4 386.5L531.4 386.5L529.4 386.5L527.5 386.5L525.5 386.5L523.5 386.4L521.5 386.4L519.5 386.4L517.5 386.4L515.5 386.3L513.5 386.3L511.5 386.2L509.5 386.2L507.5 386.1L505.5 386.1L503.5 386.1L501.5 386.0L499.5 386.0L497.6 386.0L495.6 385.9L493.6 385.9L491.6 385.9L489.6 385.9L487.6 385.9L485.6 385.9L483.6 385.8L481.6 385.8L479.6 385.8L477.6 385.8L475.6 385.7L473.6 385.7L471.6 385.7L469.6 385.7L467.7 385.6L465.7 385.6L463.7 385.6L461.7 385.6L459.7 385.6L457.7 385.6L455.7 385.6L453.7 385.6L451.7 385.6L449.7 385.6L447.7 385.6L445.7 385.6L443.7 385.6L441.7 385.6L439.7 385.6L437.8 385.6L435.8 385.6L433.8 385.6L431.8 385.6L429.8 385.6L427.8 385.6L425.8 385.6L423.8 385.6L421.8 385.6L419.8 385.6L417.8 385.6L415.8 385.6L413.8 385.6L411.8 385.6L409.8 385.6L407.8 385.6L405.9 385.6L403.9 385.6L401.9 385.6L399.9 385.6L397.9 385.6L395.9 385.5L393.9 385.3L391.9 385.2L389.9 385.0L387.9 384.8L385.9 384.7L383.9 384.5L381.9 384.2L379.9 384.0L377.9 383.7L376.0 383.3L374.0 382.9L372.0 382.5L370.0 382.0L368.0 381.4L366.0 380.8L364.0 380.1L362.0 379.4Z"/>
<path fill="#e6b400" d="M83.0 221.0L83.0 221.0L84.9 220.3L86.8 219.7L88.8 219.1L90.7 218.5L92.7 217.9L94.6 217.5L96.6 217.0L98.5 216.6L100.5 216.3L102.5 216.0L104.5 215.7L106.5 215.5L108.5 215.2L110.5 215.0L112.5 214.8L114.5 214.6L116.5 214.5L118.6 214.4L120.6 214.4L122.6 214.4L124.6 214.4L126.6 214.5L128.6 214.5L130.7 214.6L132.7 214.7L134.7 214.7L136.7 214.8L138.7 214.9L140.7 215.0L142.7 215.2L144.8 215.5L146.8 215.8L148.8 216.1L150.8 216.6L152.8 217.1L154.7 217.6L156.5 218.2L158.5 218.9L160.4 219.9L162.3 221.1L163.9 222.4L164.9 223.9L165.6 225.7L166.0 227.7L165.3 229.6L163.9 231.1L162.4 232.2L160.6 233.3L158.7 234.1L156.7 234.8L154.8 235.3L152.9 235.8L150.9 236.2L148.9 236.7L146.9 237.0L144.9 237.3L142.9 237.5L140.8 237.6L138.8 237.6L136.8 237.6L134.8 237.6L132.8 237.6L130.8 237.6L128.7 237.6L126.7 237.6L124.7 237.6L122.7 237.6L120.7 237.6L118.7 237.6L116.7 237.4L114.7 237.2L112.7 236.9L110.7 236.6L108.7 236.2L106.7 235.8L104.8 235.3L102.8 234.9L100.8 234.5L98.8 234.2L96.8 233.8L94.8 233.4L92.9 233.1L90.9 232.7L88.9 232.3L86.9 231.8L85.0 231.4L83.0 231.0L83.0 231.0Z"/>
<path fill="#e6b400" d="M306.0 216.0L306.8 214.4L308.8 213.1L310.9 212.3L313.0 211.8L315.1 211.7L317.0 211.8L319.0 211.9L320.8 212.0L322.7 212.1L324.6 212.1L326.6 212.1L328.8 212.3L331.3 212.6L333.6 213.2L334.9 214.2L334.6 215.7L332.9 217.3L330.9 218.6L328.9 219.3L327.0 219.6L325.0 219.6L323.0 219.6L321.0 219.6L319.0 219.6L316.9 219.6L314.9 219.6L312.9 219.6L310.8 219.4L308.9 218.9L307.0 217.7Z"/>
</g>
<g clip-path="url(#c)" fill="none" stroke="#000" stroke-width="1.25" shape-rendering="crispEdges" stroke-linejoin="round" stroke-linecap="round">
<path d="M107.8 161.8L112.2 160.0L117.5 158.5L125.0 156.7L131.0 157.4L137.0 157.9L143.0 158.5L150.5 158.8L158.0 159.7L162.5 160.8L167.0 160.4L171.5 159.6L177.5 158.8L185.0 157.9L191.0 158.5L197.0 159.4L200.0 159.7M107.8 161.8L110.0 163.0L115.2 164.2L120.2 165.1L117.5 166.3L112.2 166.0L107.0 166.4L105.5 167.5L110.0 168.2L116.0 168.7L117.8 170.2L115.2 172.0L110.8 173.5L107.8 174.6L110.0 175.8L115.2 177.7L119.8 178.8L125.0 179.2L122.8 181.3L118.2 183.4L113.8 185.5L110.0 187.0L106.2 188.2L102.5 189.7M95.8 190.6L92.0 191.5M89.0 191.8L86.0 192.4M125.0 179.2L128.8 182.8L130.2 180.2L131.8 177.2L134.8 174.7L137.8 173.8L141.5 175.0L147.5 175.8L152.0 176.8L156.5 177.2L161.0 178.8L164.8 180.7L167.8 182.8L170.0 185.8L171.2 189.2L170.0 191.2L173.0 190.0L176.0 192.2L179.0 194.2L182.8 195.7L185.8 196.8L188.3 198.7L187.2 200.8L185.4 202.3L185.8 205.8L185.0 209.5L185.8 213.2L187.2 216.2L189.2 219.7M83.3 156.7L87.2 157.2M83.3 161.5L88.2 162.7L93.5 164.5L98.8 165.7L101.8 166.3L98.0 167.8L93.5 167.2L89.0 166.0L84.5 164.8M97.2 170.2L102.5 171.2M83.3 177.7L86.0 177.7M183.5 166.0L188.0 164.8L194.0 165.2L197.0 166.0L192.5 167.2L186.5 166.9L183.5 166.0M195.5 174.7L200.0 175.3M200.0 160.2L206.0 161.3L212.0 161.9L218.0 161.0L224.0 160.4L230.0 159.2L236.0 158.0L240.5 159.8L245.0 158.9L249.5 160.7L252.5 158.3L255.5 155.8L257.8 153.5L260.0 155.8L259.2 158.8L261.5 161.0L264.5 159.8L267.5 161.0L266.0 163.7L263.0 164.3L260.0 165.5L257.0 165.2L254.0 167.0L249.5 167.8L245.0 169.2L241.2 170.0M241.2 170.0L239.3 174.2L238.7 178.2L241.2 181.2L245.0 182.8L249.5 184.2L254.0 185.0L258.5 185.8L261.5 187.2L263.0 190.2L266.0 191.8L268.2 191.0L267.5 188.0L269.0 185.0L271.2 182.8L272.0 179.8L270.5 176.8L269.8 173.8L270.5 170.8L273.5 168.8L278.0 169.4L281.8 171.5L284.0 174.2L282.2 176.8L286.2 177.8L290.0 176.9L293.0 176.0L296.0 179.0L299.0 182.8L302.0 185.8L305.0 188.0L308.8 190.2L311.0 192.8L308.8 194.3L305.0 194.9L300.5 195.5L296.0 196.7L291.5 197.9L287.8 199.6L284.0 201.5M305.0 147.5L308.0 150.5L311.8 154.2L315.5 157.2L314.0 160.2L316.2 163.2L318.5 166.2L320.0 168.5M227.0 190.2L230.0 188.0L232.2 187.2L233.8 190.2L235.2 194.0L233.0 194.8L230.8 192.5L228.5 191.0L227.0 190.2M238.2 196.7L241.2 197.8M224.8 180.5L225.5 182.8M209.8 178.2L216.5 178.7M200.0 173.3L206.0 173.8L212.0 172.2M244.2 201.5L248.0 199.2L252.5 198.2L256.2 199.2L257.8 201.5L255.5 202.2L251.8 201.5L248.0 202.2L244.2 201.5M252.5 203.0L251.8 206.8L252.5 209.8L254.3 209.0L254.8 205.2L253.2 203.0M257.8 203.0L261.5 203.8L264.5 205.2L263.0 207.5L260.0 206.8L258.5 205.2L257.8 203.0M260.8 210.2L266.0 208.2L270.5 207.2L273.5 206.8M305.0 197.0L308.0 194.8L311.8 195.5L315.5 197.8L314.8 200.0L311.0 200.8L307.2 200.0L305.0 197.0M284.0 201.5L290.0 203.0L296.0 201.5L300.5 202.2L297.5 204.5L293.0 206.8L290.0 206.0L287.0 207.5L284.0 209.0L281.0 210.5L278.0 212.0L275.8 215.0M320.0 136.2L326.0 135.5L335.0 134.8L344.0 134.0L353.0 134.8L362.0 135.8L369.5 137.0L377.0 138.2L383.0 137.8L389.0 137.3M383.0 138.2L380.0 140.0L376.2 141.5L374.8 144.5L372.5 147.5L375.5 149.0L377.8 149.8L374.0 151.2L371.0 152.8L365.0 153.5L361.2 155.8L359.8 157.7L363.5 158.3L368.0 157.7L371.8 157.2L369.5 159.2L365.0 159.8L359.0 160.7L353.0 161.8L348.5 164.0L344.0 166.2L339.5 167.8L336.5 170.0L335.0 173.0L333.5 176.0L331.2 177.2L328.2 176.3L325.2 175.2L322.2 173.0L320.0 170.8M344.0 134.0L350.0 136.2L357.5 137.0L365.0 138.5L371.0 139.2M368.0 166.7L371.8 165.5L377.0 165.8L381.5 165.2L386.0 165.8L387.5 167.8L385.2 169.2L381.5 170.0L377.8 170.8L374.0 170.0L371.0 168.8L368.8 167.8L368.0 166.7M431.8 141.5L435.5 140.0L440.0 140.8M432.5 143.0L437.0 143.8L440.0 143.3M440.0 161.0L437.0 164.0L434.0 167.0L430.2 169.2L426.5 171.5L423.5 173.3L422.0 175.2L422.8 178.2L425.0 180.5L428.0 179.8L431.0 177.5L433.2 179.0L434.8 182.0L436.2 185.0L438.5 185.8L440.0 184.2M427.2 182.8L426.5 185.0L428.0 188.0L425.0 190.2L422.0 191.0L419.0 192.5L416.0 193.7L411.5 195.5L408.5 196.2L405.5 198.5L407.8 200.0L410.0 201.5L410.8 204.5L410.0 206.8L408.5 207.2M427.2 182.8L430.2 183.5L431.0 186.5L428.8 188.0M440.0 140.0L446.0 139.7L453.5 140.0L461.0 140.0L458.0 142.2L452.0 143.8L446.0 144.5L441.5 146.0L440.0 145.2M469.2 140.0L473.8 140.0M493.2 139.6L500.0 139.2L506.0 138.8M509.0 139.2L515.0 138.2L521.0 137.8L527.0 137.8L531.5 138.5L525.5 140.0L519.5 140.3L513.5 140.4L509.0 139.7L509.0 139.2M506.8 155.8L509.0 153.5L513.5 150.5L518.0 149.0L524.0 147.8L530.0 147.2L537.5 146.8L536.0 148.2L530.0 148.7L524.0 149.8L519.5 151.2L515.0 153.5L515.8 156.5L518.0 158.0L513.5 157.7L509.0 156.8L506.8 155.8M557.8 139.2L560.0 138.8M440.0 161.8L444.5 159.8L449.0 158.3L455.0 157.2L461.0 156.8L467.0 157.7L471.5 159.2L476.0 160.2L480.5 161.0L485.0 162.5L488.0 164.3L491.0 165.2L493.2 163.2L491.8 161.8L495.5 162.2L500.0 161.0L503.0 160.2L506.0 161.0L510.5 161.3L515.0 160.7L519.5 159.8L523.2 160.2L521.8 161.8L527.0 160.2L533.0 159.5L536.8 161.0L534.5 157.2L537.5 154.2L542.0 153.2L545.0 155.0L546.5 158.0L548.0 161.0L545.0 164.3L542.0 165.2L548.0 163.2L552.5 161.0L555.5 161.8L553.2 158.8L551.8 155.8L555.5 155.0L560.0 154.2M471.5 164.0L476.0 165.2L480.5 166.7L485.0 167.8L486.5 166.2L483.5 169.2L479.8 170.0L477.5 167.8L474.5 166.2L471.5 164.0M440.0 183.5L442.2 182.0L444.5 179.8L443.0 177.5L443.8 174.5L444.5 171.5L447.5 169.2L451.2 167.3L455.0 166.7L458.8 167.8L456.5 170.0L453.5 171.5L452.0 173.8L450.5 176.8L452.8 178.2L456.5 177.5L459.5 176.8L464.0 175.7L468.5 174.5L472.2 175.2L470.0 177.2L465.5 177.8L461.0 178.2L456.5 179.0L454.2 180.8L452.0 181.2L451.2 183.5L449.0 185.8L444.5 187.2L440.0 188.0M476.0 172.7L477.5 174.2M462.5 209.0L464.8 205.2L467.8 202.2L471.5 201.5L476.0 203.0L479.8 202.2L483.5 201.2L482.0 203.8L484.2 206.8L487.2 208.2L488.8 210.8L485.0 212.0L480.5 211.2L476.0 210.5L471.5 211.2L467.0 212.0L464.0 211.2L462.5 209.0M497.8 204.5L500.0 202.2L504.5 200.8L509.0 201.2L512.0 203.0L509.8 204.5L506.0 205.2L506.8 208.2L509.0 210.5L511.2 212.8L510.5 215.0M497.8 204.5L498.5 207.5L500.8 210.5L503.0 212.8L504.5 215.0M518.8 204.5L521.0 202.2L524.0 201.8L525.5 203.8L524.0 206.8L520.2 207.5L518.8 204.5M546.5 203.0L551.0 201.8L557.0 201.8M560.0 148.2L564.5 149.8L569.0 150.8L573.5 149.8L578.0 148.7L584.0 147.5L590.0 146.8L596.0 146.0L600.5 145.2L605.0 146.0L611.0 146.0L617.0 146.8L620.0 147.8L619.2 149.8L615.5 150.5L611.0 151.7L606.5 152.8L603.5 153.8L608.0 153.2L614.0 152.0L620.0 152.0L626.0 152.8L632.0 153.1L638.0 152.4L644.0 152.3L648.5 154.2L650.0 156.5L653.0 157.2L656.0 155.8L662.0 155.8L668.0 155.0L672.5 154.2L677.0 153.8L680.0 153.5M560.0 152.8L563.0 154.2L565.2 156.5L563.8 158.3L561.5 157.2M576.5 138.5L582.5 138.2L588.5 139.2L594.5 140.8L600.5 141.8L605.0 142.7L609.5 144.2L605.0 144.5L599.0 143.8L593.0 142.7L587.0 141.8L581.0 140.8L576.5 139.2L576.5 138.5M659.8 149.0L665.0 147.5L671.0 147.5L677.0 148.2L674.0 149.8L668.0 150.2L662.0 150.2L659.8 149.0M669.5 151.2L674.0 152.0M602.0 192.5L606.5 191.0L610.2 188.8L612.8 185.8L611.8 188.0L608.8 191.0L605.0 192.8L602.0 192.5M640.0 152.0L643.8 152.3L647.5 153.5L649.0 155.8L652.0 157.2L655.0 156.5L659.5 156.2L664.0 156.5L668.5 155.0L673.0 154.2L679.0 154.2L685.0 155.0L689.5 156.5L692.5 157.2L700.0 156.8L704.5 157.2L707.5 158.8L712.0 159.2L718.0 159.5L724.0 160.2L730.0 159.5L736.0 159.8L741.5 160.2M659.5 149.0L664.0 147.8L670.0 147.5L676.0 148.2L673.0 149.8L667.0 150.5L662.5 150.5L659.5 149.0M679.0 149.0L688.8 149.3M668.5 152.0L674.5 152.4M739.0 156.5L741.5 156.8M660.2 186.5L664.0 184.2L668.5 182.0L673.0 179.8L679.0 178.2L685.0 177.8L691.0 178.2L695.5 176.8L698.5 174.5L703.0 173.3L706.8 174.5L709.0 173.3L714.2 172.2L712.8 174.5L709.8 176.8L706.0 178.2L703.0 180.5L700.0 182.8L697.8 185.0L697.3 188.0L698.2 191.8L697.0 194.8L695.2 196.7M695.2 196.7L699.2 194.0L703.0 191.0L706.0 188.0L709.0 185.0L709.8 182.0L712.0 179.8L715.0 177.5L719.5 176.8L724.0 176.0L728.5 174.5L733.0 173.3L737.5 172.2L741.5 172.7M737.5 168.5L739.8 170.0L741.5 170.3M689.5 201.8L685.0 203.8M715.8 185.8L719.5 186.8M660.2 186.5L662.5 188.0L666.2 189.2L670.0 189.8L672.2 188.0L673.8 189.5L673.0 193.2L671.5 197.0L669.2 200.0L666.2 203.0L662.5 206.0L658.0 208.2L654.2 209.0L650.5 211.2L648.2 213.5L646.8 215.0M672.2 188.0L673.8 191.8L675.2 195.5L676.8 198.5L675.2 197.0L673.8 200.0L673.0 203.0M669.2 209.0L672.2 206.8L676.8 206.0L679.0 207.5L675.2 209.0L672.2 209.8L670.0 212.0L669.2 215.0M184.8 205.0L184.3 209.5L186.2 213.2L188.5 217.0L190.8 220.0L193.0 222.7L196.0 225.2L198.2 227.5L199.8 229.8L200.8 232.0L202.8 234.2L205.0 236.5L207.2 239.2L209.5 241.8L211.8 244.3L211.0 245.2L208.8 243.2L206.8 240.7L205.0 238.3L203.5 235.8L202.3 233.5L201.7 231.2L202.8 229.0M202.8 229.0L205.0 229.8L206.5 232.8L208.8 235.8L211.0 238.3L213.2 241.0L215.5 243.2L217.8 245.5L219.2 247.8L220.0 250.0L222.2 251.5L225.2 253.3L228.2 254.8L232.0 256.3L235.0 257.5L238.0 258.2L241.0 259.3L244.0 260.8L247.0 262.3L250.0 264.2L252.2 265.8L254.5 266.8L256.8 268.8L259.0 270.2L261.2 271.8L263.5 272.5L265.0 271.0L267.2 270.2L270.2 271.8L271.8 274.8L271.0 278.5L269.5 281.5L268.0 284.5L266.5 287.5L265.0 290.5L264.2 293.5L263.5 295.0M280.0 211.8L277.0 213.2L274.8 215.5L272.5 218.5L271.8 221.5L268.0 225.2L265.0 228.2L263.5 231.2L265.0 235.0L265.8 238.8L265.0 241.8L263.5 240.2L262.0 237.2L260.5 234.2L257.5 232.0L253.0 231.7L247.0 232.0L241.0 232.8L236.5 234.2L233.5 237.2L233.2 241.0L233.5 244.8L235.0 247.8L237.2 250.8L240.2 252.7L244.0 253.3L247.0 251.8L249.2 249.2L252.2 248.2L253.8 249.2L252.2 252.2L250.8 254.5L250.0 256.8L251.5 257.8L255.2 258.2L258.2 259.0L259.8 261.2L260.2 264.2L259.0 267.2L261.2 269.5L263.5 270.2L266.5 269.8L270.2 269.8L274.0 268.8L277.0 267.2L280.0 265.8M257.5 245.5L262.0 244.8L266.5 245.2L271.0 246.7L275.5 248.5L278.5 250.0L275.5 250.3L271.0 249.2L266.5 247.8L262.0 247.0L257.5 245.5M276.2 251.2L280.0 251.8M270.2 253.8L273.2 254.2M268.0 238.3L271.8 241.0L274.0 243.2M244.8 287.5L246.7 288.2M251.5 206.5L254.5 209.5L253.0 210.2M259.0 206.5L263.5 208.0L268.0 207.2L265.0 210.2L260.5 211.0M297.0 205.0L292.5 206.5L288.0 208.0L284.2 210.2L281.2 212.5L278.2 214.0L275.2 215.5L273.0 217.8L271.5 220.0L270.8 223.0L270.0 224.5M270.0 241.0L273.0 242.5L276.8 244.3L279.8 246.2L277.5 247.8L273.8 247.0L270.8 245.5L270.0 244.3M282.8 249.2L285.0 249.7M289.5 253.0L292.5 253.8L297.0 255.2L299.2 257.5L300.8 260.5L300.8 263.5L300.0 265.8M270.0 280.0L270.8 275.5L270.0 271.0L273.0 268.0L276.8 266.2L280.5 265.0L281.2 268.0L280.5 270.2L283.5 266.5L286.5 265.8L291.0 267.2L295.5 268.0L299.2 267.2L300.8 269.5L303.0 271.8L306.0 274.0L309.8 276.2L313.5 277.3L316.5 278.8L318.8 280.8L320.2 283.8L321.0 286.8L318.8 287.5L318.3 290.5L321.0 291.2L323.2 289.0L321.8 287.2L325.5 288.2L329.2 290.2L333.0 291.7L337.5 292.8L341.2 293.8L343.5 295.0M360.0 216.2L363.8 217.0L366.0 218.8M381.8 235.0L384.8 235.8L387.0 234.7M390.0 235.8L387.8 237.2L385.5 239.5L383.2 242.5L382.2 245.5L381.8 249.2L382.2 253.0L381.8 256.8L381.0 260.5L382.2 264.2L384.0 266.5L386.2 268.8L388.5 271.8L390.0 273.2M366.0 256.0L369.8 256.8L368.2 259.8M402.5 220.8L400.2 223.0L397.2 225.2L395.0 227.5L394.2 230.5L392.0 232.8L389.0 235.0L386.8 237.2L385.2 240.2L383.0 243.2L381.8 246.2L381.2 250.0L381.8 253.8L381.5 257.5L381.2 261.2L382.7 264.2L384.5 266.5L386.8 268.8L389.0 271.8L391.2 274.3L393.5 276.2L396.5 278.2L399.5 278.8L404.0 278.2L408.5 277.0L413.0 276.2L417.5 275.8L420.5 276.7L422.8 278.5L425.0 279.2L427.2 278.5L429.5 280.0L430.2 283.0L429.5 286.8L428.8 290.5L430.2 293.5L431.8 295.0M476.0 229.8L478.2 227.5L478.7 223.8L478.2 220.0L476.0 219.2M471.5 221.8L474.5 222.2M464.0 211.0L468.5 209.5L473.0 210.2L479.0 211.8L485.0 211.8L488.0 210.2L487.2 208.0L483.5 206.5L479.0 205.8M473.0 231.2L475.2 235.0L477.5 238.8L479.0 242.5L481.2 246.2L483.5 250.0L485.0 253.8L487.2 256.8L490.2 259.0L491.8 262.8L493.2 265.0M478.2 227.5L477.5 230.5L479.0 233.5L481.2 237.2L483.5 241.0L485.8 244.8L488.0 248.5L490.2 252.2L491.8 256.0L492.5 259.8L493.2 262.8L493.2 265.0L497.0 264.2L500.0 262.8M491.0 265.8L494.0 268.0L498.5 266.8L500.0 266.5M500.0 283.8L495.5 288.2L491.0 292.0L487.2 295.0M437.0 261.7L439.2 263.2M470.0 288.2L473.0 286.8L476.0 287.5L475.2 291.2L472.2 292.8L470.0 290.5L470.0 288.2M410.8 271.0L412.2 274.8M383.0 235.8L386.8 235.0M425.0 286.0L422.8 289.8M497.5 205.0L499.8 208.0L502.0 211.8L501.7 215.5L503.5 218.5L507.2 220.0L510.2 219.2L511.8 216.2L510.2 213.2L512.5 211.0L510.2 208.8L508.0 206.5L505.8 205.0M518.5 205.8L521.5 207.2L525.2 205.8M490.0 265.0L494.5 264.2L499.0 262.8L503.5 260.5L508.0 258.2L512.5 256.0L516.2 253.0L519.2 250.0L521.5 247.0L520.8 244.0L518.5 241.8L515.5 240.2L514.8 238.0L512.5 240.2L509.5 241.8L506.5 241.0L504.2 238.8L502.8 235.8L500.5 233.5L501.2 231.7L504.2 232.0L506.5 234.2L509.5 236.5L512.5 238.0L514.8 237.2L516.2 238.8L518.5 240.2L522.2 240.7L527.5 241.0L533.5 241.0L536.5 243.2L539.5 245.5L541.8 248.5L544.0 247.0L545.5 249.2L546.2 253.0L547.0 257.5L548.5 262.0L550.0 265.8L552.2 268.8L554.5 271.8L556.8 271.0L558.2 266.5L559.0 262.0L559.8 259.0L562.0 256.8L565.0 254.5L568.0 251.8L571.0 249.2L574.0 247.0L577.0 246.2L580.0 245.5L581.5 248.5L583.8 251.5L586.0 254.5L587.5 257.5L589.0 255.2L590.5 257.5L592.0 261.2L593.5 265.0M490.0 256.8L490.8 262.0L492.2 265.0L496.0 266.5L500.5 265.8L505.0 265.0L506.2 266.5L505.0 271.0L502.8 275.5L499.8 280.0L496.0 284.5L492.2 287.5L490.0 289.0M558.2 271.0L560.5 269.5L562.8 272.5L562.0 275.5L559.3 276.2L558.2 273.2L558.2 271.0M546.2 266.5L546.2 269.5M546.2 271.8L546.2 283.0M546.4 284.5L546.4 287.5M581.8 262.8L582.2 266.5M592.0 265.0L595.0 262.8L598.0 264.2L601.0 266.5L604.0 269.5L606.2 271.0L608.5 269.5L610.0 268.0M605.5 250.0L607.8 248.5L610.0 247.8M606.2 253.0L610.0 257.5M508.8 264.7L511.8 265.0M670.5 195.0L668.2 198.8L665.2 202.5L661.5 205.5L657.8 207.8L654.0 209.2L650.2 210.8L647.2 213.0L645.8 215.2L648.0 217.5L649.2 220.5L648.8 223.5L645.8 224.2L643.5 222.0L642.8 219.0L641.2 216.0L639.0 214.5L636.0 213.8L633.8 212.2L630.8 213.8L627.8 216.3L630.0 218.2L633.8 218.7L636.0 217.5L632.2 220.5L630.8 223.5L632.2 226.5L634.5 229.5L635.2 232.5L633.8 235.5L631.5 238.5L629.2 241.2L626.2 243.3L622.5 245.2L618.8 246.3L615.0 247.2L611.2 247.5L608.2 248.2L606.0 250.5L606.8 253.5L609.0 256.5L611.2 260.2L612.8 264.0L610.5 267.8L607.5 270.0L605.2 271.5L603.0 268.5L600.8 266.2L600.0 265.5M611.2 251.7L613.5 250.2L615.3 251.7L613.8 253.5L611.7 253.2L611.2 251.7M632.7 242.2L634.2 241.2L635.2 243.3L633.8 246.8L632.5 245.2L632.7 242.2M649.5 227.2L651.0 225.0L654.0 223.8L657.8 222.8L661.5 221.7L665.2 220.5L668.2 217.5L669.3 213.8L670.5 210.0L672.8 209.2L672.0 213.0L672.8 216.0L670.5 219.0L669.8 222.0L666.0 222.8L663.0 223.5L659.2 224.2L656.2 225.8L653.2 226.8L651.8 230.2L650.2 231.0L649.5 227.2M669.8 206.2L672.0 204.0L675.0 203.2L677.2 205.5L674.2 207.0L672.0 209.2L669.8 207.8L669.8 206.2M672.0 195.0L673.5 198.0L674.2 201.0M681.0 205.5L684.0 204.0M690.0 201.0L692.2 199.5M695.2 197.2L698.2 195.4M648.8 234.8L647.2 237.0L645.8 239.2M632.2 253.5L634.5 252.8L636.8 254.2L636.0 257.2L637.5 260.2L639.8 262.5L642.0 264.8L641.2 267.0L638.2 265.5L636.0 263.2L633.8 261.0L632.2 258.0L631.8 255.0L632.2 253.5M678.0 251.2L678.8 254.2M678.0 259.5L677.2 262.5M717.8 266.2L718.5 270.0M267.0 285.0L265.5 288.0L264.8 291.0L264.0 294.0L263.7 297.0L264.8 300.0L266.2 303.0L268.5 306.8L270.8 310.5L273.0 313.5L276.0 315.8L279.8 318.0L282.0 319.8L283.5 322.5L283.8 326.2L283.5 330.0L282.8 333.8L282.0 337.5L281.2 341.2L280.5 345.0L279.3 348.8L278.2 352.5L277.5 356.2L277.2 360.0L277.5 363.8L276.8 367.5L276.0 371.2L275.2 375.0M318.0 288.0L319.5 286.5L322.5 287.2L323.2 289.5L321.0 291.0L318.8 290.2L318.0 288.0M323.2 288.0L327.0 289.5L331.5 291.0L336.0 291.8L340.5 293.2L344.2 295.2L347.2 297.8L348.3 300.8L347.2 304.5L345.0 307.5L342.8 310.5L341.2 313.5L340.2 317.2L339.3 321.0L338.2 324.0L336.8 326.7L333.8 328.8L330.0 330.0L327.0 331.5L324.0 333.8L322.5 336.8L321.0 339.8L318.8 342.8L316.5 345.0L314.2 347.2L312.0 349.2L309.0 350.7L305.2 349.8L307.5 351.8L309.0 353.2L306.8 355.5L303.8 357.3L300.0 358.5L297.8 360.0L296.2 362.2L294.0 361.8L292.5 363.8L293.2 366.0L291.8 368.2L290.2 370.2L288.8 372.0L289.5 374.2L291.8 375.0M284.2 315.8L285.8 316.8M244.8 287.6L247.2 288.3M429.2 285.0L428.5 288.0L430.0 291.8L433.0 295.5L435.2 299.2L436.8 303.8L437.2 307.5L435.2 311.2L433.8 315.0L433.3 318.8L434.5 322.5L436.8 326.2L438.7 330.0L439.8 333.8L440.5 337.5L442.0 340.5L443.8 343.5L445.0 346.5L445.3 349.5L448.0 351.0L452.5 350.2L457.0 349.8L461.5 348.8L465.2 346.5L468.2 343.5L470.5 340.5L472.0 337.5L472.8 334.5L475.0 332.2L477.2 330.0L476.5 327.0L475.8 324.3L478.0 321.8L481.0 319.8L484.0 317.7L486.2 315.0L487.0 311.2L486.2 307.5L485.5 303.8L484.0 300.0L483.7 296.2L485.2 292.5L487.8 289.5L490.8 287.2L493.8 285.0M470.5 289.5L472.0 287.2L474.2 286.8L475.8 288.8L474.2 291.8L471.7 292.2L470.5 289.5M465.7 293.7L466.3 297.0L467.5 300.8L469.3 303.3M474.2 304.5L475.0 308.2L476.2 312.0L476.8 313.5M461.5 319.8L465.2 317.2M492.2 321.0L493.8 317.2L497.5 314.2L500.5 311.2L502.8 309.3L504.2 312.8L503.5 317.2L502.0 322.5L500.5 327.8L498.2 332.2L495.2 334.2L492.7 332.2L491.8 327.8L492.2 321.0M491.5 308.2L494.5 310.8M422.5 289.5L424.8 286.8M651.2 288.2L655.0 287.3L658.0 289.2L661.8 290.0L665.5 290.8L670.0 292.2L674.5 293.8L679.0 295.7L683.5 297.5L687.2 299.8L690.2 302.8L688.8 305.0L685.0 305.8L682.0 304.2L679.0 301.2L676.0 300.5L673.8 302.8L670.8 303.2L667.0 302.0L664.8 299.8L661.8 297.5L658.0 295.2L654.2 293.0L652.0 290.8L651.2 288.2M686.5 289.2L690.2 291.5L693.2 294.5L691.0 296.8L687.2 298.2L683.5 299.0M695.5 296.8L698.5 299.8L700.0 301.7M619.8 329.0L622.8 326.8L626.5 324.5L630.2 323.0L634.0 320.8L637.0 318.5L640.8 315.5L643.8 313.2L646.8 312.5L649.0 314.8L650.5 311.0L652.8 308.8L656.5 308.8L660.2 309.5L662.2 311.8L661.0 314.0L663.2 316.2L666.2 318.5L669.2 319.7L670.8 317.0L671.5 313.2L672.2 309.5L673.3 307.2L674.8 311.0L676.8 314.3L678.2 317.8L680.2 320.8L682.8 323.8L685.0 326.8L687.2 329.8L689.5 332.8L691.3 335.8L692.5 339.5L692.2 343.2L691.0 347.0L689.5 350.8L687.2 353.8L685.0 356.0L682.0 357.2L679.0 357.8L676.0 357.2L673.0 356.0L670.0 354.5L667.0 352.7L664.8 350.8L664.0 347.8L661.8 350.8L659.5 348.5L656.5 346.2L652.8 345.2L648.2 344.8L643.8 345.5L640.0 346.7L636.2 347.8L632.5 349.2L628.8 350.8L625.0 350.8L623.5 348.5L622.8 344.8L621.2 341.0L619.8 337.2L619.3 333.5L619.8 329.0M675.2 360.5L678.2 361.2L682.0 360.8L683.5 362.8L682.0 365.0M676.0 362.8L677.5 365.0M278.0 365.0L275.8 368.0L274.2 371.8L273.8 375.5L274.7 379.2L276.5 382.2L279.5 384.5L282.5 386.8L285.5 388.2L290.0 388.2L296.0 387.8M276.8 365.0L275.0 368.8L275.0 374.0L276.2 378.5L278.3 381.8L281.8 384.5L284.8 386.8M294.5 365.0L293.0 368.0L290.8 371.0L290.0 374.8L287.8 377.8L286.2 380.8L285.5 383.8L287.8 386.0L290.0 387.5M300.5 381.8L303.5 381.2L306.5 381.8L304.2 383.0L301.2 382.7L300.5 381.8M342.5 386.4L346.2 387.5M300.5 401.8L303.5 401.3L306.5 401.0M308.0 403.7L305.0 404.3L300.5 404.8L296.0 406.2L291.5 408.5L287.8 410.0L285.5 412.2L282.5 413.8L278.0 414.5L274.2 415.2L273.5 417.5L276.5 419.0L279.5 420.5L280.2 422.0L276.5 421.7L272.0 420.8L269.0 421.7L264.5 420.8L260.0 421.2L255.5 420.8L251.0 421.2L246.5 420.8L242.0 421.2L237.5 420.8L233.0 420.2L230.0 419.8M308.0 403.7L305.0 406.2L302.8 409.2L301.2 413.0L301.7 417.5L302.3 421.2L300.5 423.5L299.8 424.7L303.5 425.8L308.0 426.8L314.0 428.0L320.0 429.2L326.0 430.2L332.0 430.7L338.0 430.2L344.0 429.9L350.0 429.8M83.0 431.0L92.0 431.6L100.0 431.6L110.0 431.0L116.0 430.0L122.0 429.6L128.0 428.4L136.0 428.0L144.0 426.0L152.0 425.0L160.0 424.0L168.0 423.0L176.0 422.0L184.0 421.6L192.0 422.4L200.0 423.0L208.0 423.6L216.0 424.0L220.0 423.0L222.0 421.0L226.0 419.6L230.0 420.0M222.0 421.0L225.0 422.4L228.0 423.6M340.0 430.2L347.5 430.2L352.0 428.8L356.5 427.7L362.5 426.5L367.0 425.0L371.5 423.5L374.5 421.7L377.5 420.5L382.0 419.8L388.0 419.3L391.0 417.5L395.5 416.8L400.0 416.8L404.5 416.3L409.0 415.7L411.2 413.8L413.5 415.2L418.0 416.8L422.5 416.0L427.0 415.7L431.5 415.7L436.0 415.2L438.2 414.2L440.5 415.2L445.0 415.4L451.0 415.7L455.5 416.0L460.0 415.7M342.7 386.4L346.8 387.8M450.0 416.8L456.0 416.0L462.0 415.2L468.0 413.8L473.2 413.0L477.8 414.5L482.2 415.7L486.0 413.8L490.5 412.2L495.0 411.5L499.5 410.8L502.5 409.2L506.2 408.2L511.5 408.2L516.0 409.2L519.0 410.8L525.0 411.2L531.0 411.5L537.0 411.8L541.5 413.3L544.5 412.7L547.5 414.5L552.0 414.5L556.5 412.2L561.0 410.0L564.0 408.5L568.5 408.8L570.0 408.8M538.5 376.7L541.5 377.0L541.2 378.2L538.8 377.9L538.5 376.7M560.0 408.8L563.0 408.5L567.5 409.2L572.0 408.5L578.0 409.2L584.0 408.9L587.8 407.0L591.5 408.2L596.0 407.8L600.5 407.3L605.0 408.8L609.5 409.2L614.0 408.5L618.5 407.8L623.0 408.8L627.5 410.0L630.5 409.2L633.5 407.8L635.0 409.2L641.0 408.8L647.0 410.0L650.0 408.5L654.5 408.2L659.0 407.0L662.0 408.5L666.5 409.2L671.0 409.7L675.5 410.3L680.0 411.2M660.0 350.0L662.2 349.2L663.8 347.0L665.2 350.0L666.8 353.0L669.8 355.2L673.5 357.2L676.5 357.5L678.8 356.8L681.8 357.5L684.8 356.0L687.0 353.0L689.2 350.0L690.8 347.0L692.2 343.2L693.0 339.5L692.7 335.0M675.8 359.8L678.0 362.0L681.8 361.2L684.0 360.8L683.7 364.2L682.2 366.8L680.2 367.2L678.3 365.8L677.2 362.8L675.8 359.8M728.2 350.0L730.5 352.2L732.0 354.5L734.2 356.0L737.2 356.3L739.2 357.5L737.2 359.8L734.2 360.8L732.0 362.0L730.5 360.5L731.7 358.2L731.2 356.0L729.3 353.0L728.2 350.0M729.8 362.0L727.5 364.2L724.5 366.8L721.5 369.2L718.8 371.0L717.3 370.7L718.2 372.5L720.8 373.2L723.8 371.8L726.0 369.8L728.2 367.2L730.5 365.0L731.7 362.8L729.8 362.0M660.0 407.0L666.0 408.5L672.0 409.2L678.0 410.0L684.0 411.8L687.0 413.0L691.5 412.7L696.0 413.3L702.0 414.2L705.0 416.0L709.5 417.2L714.0 416.8L720.0 417.5L723.0 418.7L723.8 420.5L720.0 422.0L715.5 423.5L711.8 425.0M710.0 426.4L711.0 429.0L716.0 430.0L720.0 428.0L728.0 429.0L734.0 431.0L741.6 431.6M680.0 321.2L683.0 323.8L686.0 326.8L689.0 330.2L691.7 333.2L693.2 337.0L693.5 340.8L692.0 344.5L689.8 348.2L687.5 352.0L686.0 355.0M680.0 297.2L683.0 295.8L686.8 296.5L689.8 295.0L692.0 294.2L690.5 292.0L687.5 290.5L686.0 289.3M680.0 301.0L683.0 304.0L686.8 305.8L689.0 305.2M695.0 296.5L698.0 298.8L701.0 301.0L704.8 302.5L707.8 304.3L709.2 306.7M699.5 300.2L702.5 302.5L706.2 305.2M716.8 314.2L718.7 316.0L720.2 317.5M720.5 319.8L721.7 322.8M712.2 324.7L715.2 326.5L717.5 327.7M718.2 325.8L719.8 326.5M737.8 319.3L740.0 317.8L741.5 317.5M728.0 350.2L730.2 352.0L731.8 354.2M119.0 247.0L123.0 248.0L126.4 250.0L128.4 251.6M187.0 150.0L190.0 147.0L195.0 146.0L200.0 146.5L204.0 148.0L203.0 151.0L199.0 153.0L194.0 153.5L189.0 152.5L187.0 150.0M203.0 153.0L207.0 150.0L212.0 148.5L218.0 148.0L224.0 149.0L229.0 150.5L232.0 153.0L230.0 156.0L225.0 157.5L219.0 157.0L213.0 157.5L208.0 156.0L203.0 153.0M210.0 152.0L216.0 151.5L222.0 153.0M204.0 145.0L209.0 142.5L215.0 142.0L221.0 143.0L224.0 145.0L219.0 146.5L212.0 147.0L206.0 146.5L204.0 145.0M196.0 142.5L200.0 141.0L204.0 141.5L201.0 143.5L197.0 143.5L196.0 142.5M224.0 143.0L228.0 141.5L233.0 142.0L236.0 144.0L232.0 146.0L227.0 146.0L224.0 143.0M231.0 148.0L235.0 147.0L238.0 149.0L238.0 153.0L235.0 155.5L232.0 154.0L231.0 151.0L231.0 148.0M238.0 146.5L242.0 146.0L245.0 148.0L244.0 151.5L240.0 152.0L238.0 149.5L238.0 146.5M240.0 143.5L245.0 142.0L251.0 142.0L257.0 142.5L262.0 144.0L258.0 146.0L252.0 146.5L246.0 146.0L241.0 145.5L240.0 143.5M236.0 137.5L240.0 136.0L245.0 136.0L248.0 138.0L245.0 140.5L240.0 141.0L237.0 139.5L236.0 137.5M246.0 140.0L250.0 137.0L255.0 135.5L262.0 134.8L270.0 134.5L278.0 135.0L285.0 136.0L290.0 137.5L284.0 139.5L278.0 141.0L272.0 142.5L266.0 143.5L260.0 143.0L254.0 142.0L249.0 141.5L246.0 140.0M255.0 138.0L262.0 137.5L270.0 137.5L276.0 139.0M258.0 140.5L266.0 140.5M245.0 149.0L250.0 147.5L256.0 148.0L262.0 149.0L268.0 150.5L274.0 152.5L280.0 155.0L286.0 158.0L291.0 161.5L295.0 165.0L292.0 167.5L287.0 166.0L283.0 165.0L286.0 169.0L290.0 172.0L287.0 174.0L282.0 172.5L277.0 171.0L272.0 170.0L268.0 168.0L271.0 165.5L267.0 163.0L262.0 162.0L258.0 159.0L254.0 156.0L250.0 153.5L246.0 151.5L245.0 149.0M262.0 158.0L266.0 160.0L270.0 161.5M256.0 162.0L260.0 164.0M233.0 157.0L237.0 158.5L241.0 158.0M253.0 168.0L258.0 167.0L262.0 169.0L259.0 172.0L254.0 171.0L253.0 168.0M290.0 137.5L298.0 135.5L308.0 134.5L318.0 134.8L328.0 135.5L338.0 136.5L348.0 137.8L356.0 139.5L362.0 140.0M286.0 141.0L291.0 144.0L296.0 146.5L302.0 147.5L306.0 148.5M215.0 139.0L220.0 138.0L226.0 138.5L230.0 140.0M208.0 140.0L212.0 139.5M248.0 144.0L254.0 144.5L260.0 145.0M226.0 151.0L229.0 153.0L227.0 155.0M268.0 146.0L273.0 147.5L278.0 147.0L283.0 148.5M264.0 152.0L270.0 154.0L276.0 155.0M611.5 260.0L612.5 263.0L612.0 266.0L610.0 268.0L607.5 269.5L605.5 270.5L604.5 269.5L603.0 267.5L601.0 265.5L598.5 263.5L596.5 262.0L595.0 263.0L594.5 265.0L595.0 267.5L596.0 270.0L597.5 272.5L599.5 275.0L601.0 277.5L602.2 280.0L603.0 282.5L603.5 284.5L603.0 284.8L601.5 283.0L600.0 281.0L598.5 279.0L597.0 276.5L595.5 274.0L594.0 271.5L593.0 269.0L592.5 266.0L592.0 263.0L591.0 260.0M586.5 277.0L589.0 277.0L591.5 278.0L594.0 279.5L596.5 281.5L599.0 283.5L601.0 285.5L603.0 287.5L604.5 289.5L606.0 291.5L606.5 294.0L606.5 296.5L605.5 298.5L603.5 298.0L601.5 296.5L599.5 294.5L597.5 292.0L595.5 289.5L593.5 287.0L591.5 284.5L589.5 282.0L587.5 279.5L586.5 277.0M605.5 298.5L608.0 299.0L611.0 299.5L614.0 300.0L617.0 300.0L619.5 299.5L621.0 300.5L624.0 301.0L627.0 301.8L630.0 302.5L633.0 303.0L632.0 304.0L629.0 303.8L626.0 303.2L623.0 302.8L620.0 302.2L617.0 302.0L614.0 301.8L611.0 301.2L608.0 300.5L606.5 299.5L605.5 298.5M634.0 303.0L637.0 302.5L640.0 302.0L643.0 301.5L645.0 301.8L644.0 303.0L641.5 303.5L639.0 304.5L638.0 306.0L639.5 305.0M648.0 301.0L651.0 300.5L653.0 300.0M612.0 285.0L613.5 283.5L615.5 282.0L618.0 280.5L620.5 279.0L623.0 277.2L625.0 275.5L627.0 275.0L628.5 276.0L629.0 278.0L628.2 280.5L628.0 283.0L629.0 285.0L628.5 287.5L627.5 290.0L626.5 292.5L625.0 294.0L623.0 294.5L620.5 293.5L618.0 292.8L615.5 291.8L613.5 290.0L612.2 287.5L612.0 285.0M625.0 275.5L627.0 273.0L629.0 270.5L630.5 268.5L631.5 266.0L632.2 264.0M632.5 260.0L634.0 263.0L636.0 265.5L638.0 268.0L639.5 270.5L640.0 273.0L641.0 275.0L643.0 276.0L643.5 273.5L643.0 270.5L642.0 267.5L641.0 264.5L639.5 262.0L638.5 260.0M635.0 262.0L637.0 264.5L639.0 267.0L640.5 269.5L641.5 272.0M636.5 272.0L638.5 274.0M637.0 261.0L639.0 264.0L640.5 267.0M631.5 285.5L634.0 284.5L637.0 285.0L639.5 284.5L641.0 284.0L639.0 285.8L636.5 286.5L634.5 287.0L633.5 289.0L634.5 291.0L636.0 293.0L637.0 295.0L637.5 297.0L635.5 297.2L634.5 295.0L633.0 293.0L632.0 295.0L631.5 297.0L630.5 295.0L631.0 292.0L631.2 289.0L631.5 285.5M646.5 282.5L647.5 285.0L647.0 287.5L646.2 286.0L646.5 282.5M642.5 290.0L645.0 290.5L647.5 290.8L650.0 290.5M644.0 293.0L647.0 293.5L650.0 293.8L651.5 293.0M217.7 145.9L219.3 146.2L222.2 147.2L223.9 147.1L225.7 146.6M240.0 139.2L241.4 137.7L244.0 137.8L247.4 137.3L248.3 136.7M214.4 146.6L217.2 146.9L219.1 145.9M204.4 148.4L204.6 147.2L205.7 146.5L205.9 146.5L205.8 146.5M263.8 148.0L265.4 146.8L266.1 145.5M245.7 138.9L247.2 139.5L248.6 140.0L250.5 141.4L252.0 143.1M216.7 153.4L218.0 154.1L220.0 153.7L221.6 153.9L223.1 154.8M242.6 151.2L245.1 150.4L245.0 149.0L243.7 148.3M191.8 155.9L195.1 155.9L196.9 155.9M225.4 146.2L226.1 147.3L227.3 148.5M272.7 150.1L273.5 148.5L271.1 147.2M203.9 150.3L206.3 149.7L208.5 150.8M236.5 150.4L239.7 150.7L240.7 152.3L241.2 153.6L242.3 154.9M225.2 144.9L226.7 143.5L225.7 142.0M238.6 156.5L241.1 157.2L242.9 156.7L244.5 155.8L244.1 153.9M283.3 144.3L284.8 142.7L287.0 142.1L289.6 142.1M206.1 157.0L207.6 156.8L211.0 156.4L213.2 157.5M211.6 149.9L213.4 148.8L215.3 147.6M246.1 153.0L247.5 154.6L249.8 155.2M220.8 143.5L222.7 143.7L224.6 144.3M265.2 148.2L267.2 148.4L268.8 147.8L269.7 146.2M274.2 148.4L277.0 148.0L278.2 148.0L280.6 148.0M205.5 156.3L208.6 156.1L209.8 157.3L212.2 157.5M257.0 139.5L259.4 139.2L262.1 139.3M244.4 147.0L245.9 146.8L248.5 147.7L251.2 146.9M199.6 157.4L201.5 156.9L202.8 156.0M243.5 142.8L245.7 141.6L248.5 142.0L249.8 143.3M267.1 150.2L268.6 150.3L270.5 150.2M186.4 156.4L188.1 156.3L189.4 154.8M238.0 147.7L239.5 147.0L239.1 146.0M230.3 141.0L232.8 141.3L235.6 141.8M230.3 149.6L232.4 148.7L235.6 149.3L236.5 151.2M205.9 151.7L207.3 151.2L208.0 150.3L210.3 149.1M273.9 140.8L275.9 140.6L277.1 139.3L278.6 139.6L280.2 140.1M251.4 141.2L253.6 141.2L255.2 140.3L256.7 140.1L259.0 139.9M187.8 153.7L188.8 154.5L188.2 155.6L186.6 155.9L184.5 157.4M203.8 155.1L206.2 156.5L208.4 157.3L210.5 157.5M218.1 147.6L219.7 148.3L221.1 147.8L222.4 146.4L222.0 145.2M197.9 149.2L199.6 150.5L202.5 150.2L204.7 151.7L206.5 152.1M277.4 145.0L279.8 144.6L280.9 143.5L279.8 142.5L276.9 142.8M240.0 141.7L242.6 141.1L245.4 141.0L248.7 141.2M281.1 142.9L284.2 143.1L286.5 144.0M225.7 147.2L227.5 146.0L229.9 146.1M191.4 155.3L192.9 156.1L195.0 156.3L196.8 156.4M229.7 145.1L231.3 145.8L231.1 147.1L231.4 147.9M223.4 149.6L226.2 148.8L226.6 146.9L224.8 145.7L223.1 145.0M247.7 138.9L250.6 138.0L253.3 138.4L255.2 139.7L256.6 140.6M246.6 140.2L248.9 141.4L249.1 142.5L249.3 144.0L247.2 145.3M267.0 146.0L268.6 146.7L270.1 146.2L271.3 145.5L273.9 145.5M247.5 149.6L249.2 148.5L248.2 146.6L249.3 145.8L251.3 144.4M232.4 154.2L234.3 154.6L236.1 155.5L236.2 156.5M275.2 141.8L276.7 142.3L278.6 141.8M258.8 141.7L261.1 141.1L262.4 141.8L264.9 141.8L266.6 142.5M231.7 153.5L233.9 155.0L236.2 154.5L239.3 155.5L241.2 155.9M206.6 156.9L207.0 155.1L206.2 153.9M245.1 150.1L246.4 151.0L245.8 152.5L246.9 153.0M234.2 147.6L236.4 147.7L237.8 146.7L238.4 145.4M225.0 156.6L225.8 157.5L227.3 157.5M283.9 145.2L285.5 146.9L286.9 147.3L288.6 148.0M200.6 157.2L202.3 156.3L205.3 157.0L206.5 157.5M410.5 207.5L407.0 207.8L403.0 207.5L399.0 207.8L396.0 208.5L395.8 211.5L396.2 215.0L397.0 218.0L399.0 219.2L401.0 219.8L402.0 221.5L404.5 220.0L407.5 219.5L410.0 219.0L412.0 217.5L413.0 215.5L414.0 213.5L416.0 212.0L417.5 210.5L418.5 208.5L421.0 208.0L423.5 208.5L426.0 207.5L428.0 206.0L429.5 205.8L431.5 207.8L433.5 209.8L436.0 211.5L438.5 213.2L440.5 214.5L442.0 215.5L443.0 216.8L442.0 218.2L440.5 218.5M417.0 214.5L419.0 213.8M443.0 216.8L443.5 215.5L444.5 214.5L446.0 214.0L444.5 212.5L442.0 210.8L439.5 209.2L437.0 207.5L435.0 206.0L434.5 204.0L436.5 203.8L438.5 205.0L440.5 206.5L443.0 208.0L445.5 209.5L447.5 211.0L448.5 213.0L449.5 215.0L451.0 217.0L452.5 219.0L454.0 220.0L455.0 218.5L454.0 216.5L453.5 214.5L455.0 213.5L457.0 214.0L458.5 213.0L460.0 214.5L461.0 216.5L462.5 218.5L464.0 220.0L466.0 220.5L468.0 220.0L471.0 220.0L473.0 221.0L475.0 220.5M454.0 220.0L456.0 221.0L455.0 222.0L457.5 222.5L460.0 222.2M455.5 223.2L460.0 223.5M435.0 217.5L438.0 217.0L440.5 217.5L439.5 219.0L437.0 219.2L435.0 218.5L435.0 217.5M427.5 209.5L429.0 209.0L430.0 210.5L430.0 213.5L429.0 215.5L427.5 215.0L427.2 212.5L427.5 209.5M428.5 206.5L429.5 208.0L429.0 209.0M402.0 222.0L405.0 222.2L408.0 221.8L411.0 221.0L415.0 220.0L419.0 219.5L423.0 219.2L427.0 219.2L430.5 219.5L432.5 220.0L432.0 222.0L431.0 224.0L431.5 225.8L433.5 226.2L436.0 226.8L438.5 227.5L441.0 228.8L443.5 230.0L446.0 231.2L448.0 230.5L449.0 228.5L450.5 227.5L453.0 227.8L456.0 228.5L459.0 229.2L462.0 229.8L465.0 230.0L468.0 230.2L471.0 230.0L474.0 229.5L475.0 229.2M402.5 180.0L405.0 179.2L407.0 179.0L406.0 181.0L407.5 183.0L409.5 185.0L411.0 187.0L412.5 189.0L414.0 190.5L415.5 192.0L415.0 194.0L413.5 195.5L411.5 196.0L409.0 196.5L406.5 197.0L404.5 198.0L403.0 197.5L405.0 196.0L406.5 194.5L405.0 193.5L403.5 194.0L404.0 192.0L405.5 191.0L404.5 189.5L403.0 188.0L402.0 186.0L401.0 184.0L400.0 182.0L400.5 180.5L402.5 180.0M394.0 189.0L396.0 187.0L398.5 186.2L400.5 187.0L401.0 189.0L400.0 191.0L398.0 192.0L395.5 191.8L394.0 190.5L394.0 189.0M401.5 181.5L402.5 183.0L401.8 184.5M406.0 188.0L407.0 190.0"/>
<path stroke-width="1" d="M95.5 176.8L96.0 176.8M99.2 182.8L100.0 182.9M396.1 156.9L396.9 157.1M399.5 173.8L400.4 173.9M409.2 176.8L410.1 176.9M574.7 145.2L575.5 145.4M727.5 190.2L728.4 190.4M206.1 211.8L206.9 211.9M202.4 220.8L203.2 220.9M234.6 224.5L235.4 224.7M194.9 234.2L195.7 234.4M204.7 253.3L205.4 253.4M292.9 227.8L293.7 227.9M354.9 215.2L355.6 215.3M381.4 227.2L382.2 227.3M468.2 283.8L469.1 284.5M477.9 279.7L478.7 280.8M381.2 227.2L381.9 227.3M583.5 274.0L584.2 274.3M639.0 242.7L639.8 242.8M665.0 269.2L665.7 269.6M658.2 273.0L659.0 273.3M690.0 273.8L690.8 274.1M693.5 276.8L694.2 277.1M701.7 274.5L702.5 274.8M709.2 276.8L710.0 277.1M496.9 304.2L497.6 304.5M513.0 295.5L513.7 295.6M513.2 325.5L514.0 325.8M517.0 324.3L517.9 324.6M481.1 373.2L481.9 373.4M691.5 303.5L692.2 303.6M693.7 277.2L694.5 277.4M681.7 290.8L682.5 290.9M328.7 398.3L329.4 398.4M311.4 399.2L312.2 399.4M245.4 413.3L246.2 413.4M88.0 367.6L89.2 367.8M363.6 394.1L364.4 394.4M481.2 372.8L481.8 373.1M715.6 380.1L716.4 380.4M713.0 411.2L713.7 411.4M690.8 274.8L691.7 274.9M693.4 277.0L694.2 277.1M701.8 274.8L702.6 274.9M710.3 277.8L711.2 277.9M717.0 288.2L718.0 288.4M722.3 288.7L723.2 288.9M730.5 288.2L731.5 288.4M728.3 284.2L729.2 284.4M715.5 307.0L716.5 307.1M705.0 308.8L706.0 308.9M691.5 304.3L692.5 304.4M717.0 266.8L718.0 266.9M717.8 270.7L718.7 270.9M724.9 271.8L725.8 271.9M681.0 291.2L682.0 291.4M115.0 276.2L116.2 276.6M123.8 283.4L125.0 283.8M97.0 304.2L98.2 304.6M117.4 305.8L118.6 306.2M122.4 303.8L123.6 304.2M96.4 312.2L97.6 312.6M155.4 303.4L156.6 303.8M157.4 304.8L158.6 305.2M144.4 313.4L145.6 313.8M134.4 317.8L135.6 318.2M138.4 319.4L139.6 319.8M146.4 323.4L147.6 323.8M154.4 322.8L155.6 323.2M163.4 326.8L164.6 327.2M154.4 327.8L155.6 328.2M173.4 333.4L174.6 333.8M183.4 332.8L184.6 333.2M211.4 336.8L212.6 337.2M90.4 325.8L91.6 326.2M101.0 321.8L102.2 322.2M587.7 282.5L588.3 282.8M590.7 285.5L591.3 285.8M593.2 289.5L593.8 289.8M658.2 298.5L658.8 298.7M654.7 297.0L655.3 297.2M658.7 273.2L659.3 273.3M438.2 221.4L438.8 221.6"/>
</g>
<path d="M101.5 122v4M101.5 452v-4M119.5 122v4M119.5 452v-4M137.5 122v4M137.5 452v-4M156.5 122v4M156.5 452v-4M174.5 122v4M174.5 452v-4M192.5 122v8M192.5 452v-8M211.5 122v4M211.5 452v-4M229.5 122v4M229.5 452v-4M247.5 122v4M247.5 452v-4M265.5 122v4M265.5 452v-4M284.5 122v4M284.5 452v-4M302.5 122v8M302.5 452v-8M320.5 122v4M320.5 452v-4M339.5 122v4M339.5 452v-4M357.5 122v4M357.5 452v-4M375.5 122v4M375.5 452v-4M393.5 122v4M393.5 452v-4M412.5 122v8M412.5 452v-8M430.5 122v4M430.5 452v-4M448.5 122v4M448.5 452v-4M467.5 122v4M467.5 452v-4M485.5 122v4M485.5 452v-4M503.5 122v4M503.5 452v-4M522.5 122v8M522.5 452v-8M540.5 122v4M540.5 452v-4M558.5 122v4M558.5 452v-4M576.5 122v4M576.5 452v-4M595.5 122v4M595.5 452v-4M613.5 122v4M613.5 452v-4M631.5 122v8M631.5 452v-8M650.5 122v4M650.5 452v-4M668.5 122v4M668.5 452v-4M686.5 122v4M686.5 452v-4M704.5 122v4M704.5 452v-4M723.5 122v4M723.5 452v-4M82 140.5h9M742 140.5h-9M82 158.5h5M742 158.5h-5M82 177.5h5M742 177.5h-5M82 195.5h5M742 195.5h-5M82 213.5h9M742 213.5h-9M82 232.5h5M742 232.5h-5M82 250.5h5M742 250.5h-5M82 268.5h5M742 268.5h-5M82 287.5h9M742 287.5h-9M82 305.5h5M742 305.5h-5M82 323.5h5M742 323.5h-5M82 342.5h5M742 342.5h-5M82 360.5h9M742 360.5h-9M82 378.5h5M742 378.5h-5M82 396.5h5M742 396.5h-5M82 415.5h5M742 415.5h-5M82 433.5h9M742 433.5h-9" fill="none" stroke="#3a3a3a" stroke-width="1" shape-rendering="crispEdges"/>
<path d="M82 122.5H742M82 451.5H742" fill="none" stroke="#404040" stroke-width="1" shape-rendering="crispEdges"/>
<path d="M82.5 122V452M741.5 122V452" fill="none" stroke="#505050" stroke-width="1" shape-rendering="crispEdges"/>
<text x="412.7" y="91.6" text-anchor="middle" font-size="23.35px">Eddy Kinetic Energy (High Pass, Bloomfield) at 200 hPa (in m<tspan dy="-11" font-size="15px">2</tspan><tspan dy="11">s</tspan><tspan dy="-11" font-size="15px">-2</tspan><tspan dy="11">)</tspan></text>
<text x="83" y="118" font-size="17.3px">Expt = tfmds</text>
<text x="412" y="111" text-anchor="middle" font-size="17px">1984kyr BP</text>
<text x="742" y="116" text-anchor="end" font-size="17px">DJF</text>
<g class="ax"><text x="83.0" y="472" text-anchor="middle">180</text><text x="192.7" y="472" text-anchor="middle">120W</text><text x="302.3" y="472" text-anchor="middle">60W</text><text x="412.0" y="472" text-anchor="middle">0</text><text x="521.7" y="472" text-anchor="middle">60E</text><text x="631.3" y="472" text-anchor="middle">120E</text><text x="741.0" y="472" text-anchor="middle">180</text><text x="72.8" y="145.5" text-anchor="end">80N</text><text x="72.8" y="218.6" text-anchor="end">40N</text><text x="72.8" y="291.7" text-anchor="end">0</text><text x="72.8" y="364.8" text-anchor="end">40S</text><text x="72.8" y="437.9" text-anchor="end">80S</text></g>
<g shape-rendering="crispEdges">
<rect x="85.0" y="495" width="65.5" height="12" fill="#d2d2d2" stroke="#3c3c3c" stroke-width="1"/>
<rect x="150.5" y="495" width="65.5" height="12" fill="#5000dc" stroke="#3c3c3c" stroke-width="1"/>
<rect x="216.0" y="495" width="65.5" height="12" fill="#0046dc" stroke="#3c3c3c" stroke-width="1"/>
<rect x="281.5" y="495" width="65.5" height="12" fill="#008cdc" stroke="#3c3c3c" stroke-width="1"/>
<rect x="347.0" y="495" width="65.5" height="12" fill="#00c8dc" stroke="#3c3c3c" stroke-width="1"/>
<rect x="412.5" y="495" width="65.5" height="12" fill="#00dc82" stroke="#3c3c3c" stroke-width="1"/>
<rect x="478.0" y="495" width="65.5" height="12" fill="#a0dc00" stroke="#3c3c3c" stroke-width="1"/>
<rect x="543.5" y="495" width="65.5" height="12" fill="#e6b400" stroke="#3c3c3c" stroke-width="1"/>
<rect x="609.0" y="495" width="65.5" height="12" fill="#e65a00" stroke="#3c3c3c" stroke-width="1"/>
<rect x="674.5" y="495" width="65.5" height="12" fill="#e60000" stroke="#3c3c3c" stroke-width="1"/>
</g>
<g class="cbl"><text x="150.5" y="523" text-anchor="middle">10</text><text x="281.5" y="523" text-anchor="middle">30</text><text x="412.5" y="523" text-anchor="middle">60</text><text x="543.5" y="523" text-anchor="middle">100</text><text x="674.5" y="523" text-anchor="middle">180</text></g>
</svg>
</body></html>
